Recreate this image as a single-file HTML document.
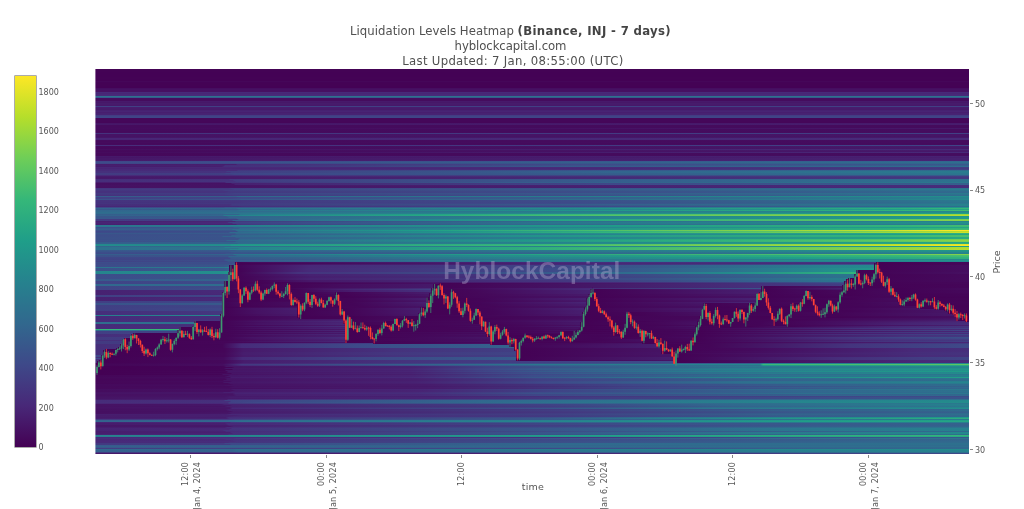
<!DOCTYPE html>
<html><head><meta charset="utf-8"><title>Liquidation Levels Heatmap</title>
<style>
html,body{margin:0;padding:0;background:#fff}
body{width:1024px;height:509px;position:relative;overflow:hidden;font-family:"DejaVu Sans","Liberation Sans",sans-serif;color:#444}
.ttl{position:absolute;left:0;width:1021px;text-align:center;font-size:11.7px;line-height:15px;white-space:nowrap;color:#505050}
.ttl b{letter-spacing:0.34px;color:#444}
.cb{position:absolute;left:15.4px;top:75.6px;width:20.6px;height:371.6px;background:linear-gradient(to top,#440154 0.00%,#482878 11.11%,#3e4989 22.22%,#31688e 33.33%,#26828e 44.44%,#1f9e89 55.56%,#35b779 66.67%,#6ece58 77.78%,#b5de2b 88.89%,#fde725 100.00%);box-shadow:0 0 0 0.6px rgba(68,68,68,0.75)}
.cbt{position:absolute;left:38.5px;color:#555;font-size:8px;line-height:11px;height:11px}
.ytk{position:absolute;left:969.5px;width:3.1px;height:1px;background:#888}
.ytl{position:absolute;left:975px;color:#555;font-size:8px;line-height:11px;height:11px}
.xtk{position:absolute;top:455px;width:1px;height:3.3px;background:#888}
.xtl{position:absolute;top:461.5px;color:#555;font-size:8px;line-height:10px;height:10px;white-space:nowrap;transform-origin:0 0;transform:rotate(-90deg) translate(-100%,-50%);letter-spacing:0.2px}
.xlab{position:absolute;left:483px;width:100px;text-align:center;top:481.3px;font-size:9.5px;line-height:12px;letter-spacing:0.2px;color:#555}
.ylab{position:absolute;color:#555;left:996.5px;top:261.5px;font-size:9.5px;line-height:12px;white-space:nowrap;transform:translate(-50%,-50%) rotate(-90deg)}
.wm{position:absolute;left:443.2px;top:256.5px;font-family:"Liberation Sans","DejaVu Sans",sans-serif;font-weight:bold;font-size:24.4px;line-height:28px;letter-spacing:0.07px;color:rgba(190,185,215,0.37);white-space:nowrap}
</style></head><body>
<div class="ttl" style="top:24px;letter-spacing:0.04px">Liquidation Levels Heatmap <b>(Binance, INJ - 7 days)</b></div>
<div class="ttl" style="top:39.3px;letter-spacing:-0.08px">hyblockcapital.com</div>
<div class="ttl" style="top:54.2px;letter-spacing:0.31px;left:2.4px">Last Updated: 7 Jan, 08:55:00 (UTC)</div>
<div class="cb"></div>
<div class="cbt" style="top:442.3px">0</div><div class="cbt" style="top:402.8px">200</div><div class="cbt" style="top:363.3px">400</div><div class="cbt" style="top:323.8px">600</div><div class="cbt" style="top:284.3px">800</div><div class="cbt" style="top:244.8px">1000</div><div class="cbt" style="top:205.3px">1200</div><div class="cbt" style="top:165.8px">1400</div><div class="cbt" style="top:126.3px">1600</div><div class="cbt" style="top:86.8px">1800</div>
<svg width="1024" height="509" viewBox="0 0 1024 509" style="position:absolute;left:0;top:0">
<defs>
<linearGradient id="r123"><stop offset="0.0001" stop-color="#461566"/><stop offset="0.9994" stop-color="#471b6c"/></linearGradient>
<linearGradient id="r124"><stop offset="0.0001" stop-color="#461768"/><stop offset="0.9994" stop-color="#471d6e"/></linearGradient>
<linearGradient id="r128"><stop offset="0.0001" stop-color="#450b5e"/><stop offset="0.9994" stop-color="#461869"/></linearGradient>
<linearGradient id="r129"><stop offset="0.0001" stop-color="#450a5d"/><stop offset="0.9994" stop-color="#450c5e"/></linearGradient>
<linearGradient id="r130"><stop offset="0.0001" stop-color="#450b5d"/><stop offset="0.9994" stop-color="#450d5f"/></linearGradient>
<linearGradient id="r131"><stop offset="0.0001" stop-color="#450a5c"/><stop offset="0.9994" stop-color="#450c5e"/></linearGradient>
<linearGradient id="r132"><stop offset="0.0001" stop-color="#450b5d"/><stop offset="0.9994" stop-color="#450d5f"/></linearGradient>
<linearGradient id="r133"><stop offset="0.0001" stop-color="#45327d"/><stop offset="0.9994" stop-color="#414085"/></linearGradient>
<linearGradient id="r134"><stop offset="0.0001" stop-color="#461365"/><stop offset="0.9994" stop-color="#461567"/></linearGradient>
<linearGradient id="r135"><stop offset="0.0001" stop-color="#461365"/><stop offset="0.9994" stop-color="#461567"/></linearGradient>
<linearGradient id="r136"><stop offset="0.0001" stop-color="#461264"/><stop offset="0.9994" stop-color="#461465"/></linearGradient>
<linearGradient id="r137"><stop offset="0.0001" stop-color="#461667"/><stop offset="0.9994" stop-color="#461869"/></linearGradient>
<linearGradient id="r138"><stop offset="0.0001" stop-color="#482676"/><stop offset="0.9994" stop-color="#472b7a"/></linearGradient>
<linearGradient id="r139"><stop offset="0.0001" stop-color="#482475"/><stop offset="0.9994" stop-color="#482a79"/></linearGradient>
<linearGradient id="r140"><stop offset="0.0001" stop-color="#450b5d"/><stop offset="0.9994" stop-color="#450d5f"/></linearGradient>
<linearGradient id="r141"><stop offset="0.0001" stop-color="#450a5c"/><stop offset="0.9994" stop-color="#450c5e"/></linearGradient>
<linearGradient id="r142"><stop offset="0.0001" stop-color="#450b5d"/><stop offset="0.9994" stop-color="#450c5f"/></linearGradient>
<linearGradient id="r143"><stop offset="0.0001" stop-color="#45095c"/><stop offset="0.9994" stop-color="#450b5d"/></linearGradient>
<linearGradient id="r144"><stop offset="0.0001" stop-color="#450a5c"/><stop offset="0.9994" stop-color="#450c5e"/></linearGradient>
<linearGradient id="r145"><stop offset="0.0001" stop-color="#472c7a"/><stop offset="0.1546" stop-color="#462f7c"/><stop offset="0.9994" stop-color="#3f4487"/></linearGradient>
<linearGradient id="r146"><stop offset="0.0001" stop-color="#45095b"/><stop offset="0.9994" stop-color="#471b6c"/></linearGradient>
<linearGradient id="r147"><stop offset="0.0001" stop-color="#45085b"/><stop offset="0.9994" stop-color="#46196a"/></linearGradient>
<linearGradient id="r148"><stop offset="0.0001" stop-color="#45085b"/><stop offset="0.9994" stop-color="#46196a"/></linearGradient>
<linearGradient id="r149"><stop offset="0.0001" stop-color="#450d5f"/><stop offset="0.1592" stop-color="#461163"/><stop offset="0.7522" stop-color="#482575"/><stop offset="0.9994" stop-color="#472a79"/></linearGradient>
<linearGradient id="r150"><stop offset="0.0001" stop-color="#45095b"/><stop offset="0.9994" stop-color="#471c6c"/></linearGradient>
<linearGradient id="r151"><stop offset="0.0001" stop-color="#45085b"/><stop offset="0.9994" stop-color="#46196a"/></linearGradient>
<linearGradient id="r152"><stop offset="0.0001" stop-color="#450b5d"/><stop offset="0.1649" stop-color="#450f61"/><stop offset="0.8128" stop-color="#482575"/><stop offset="0.9994" stop-color="#472a79"/></linearGradient>
<linearGradient id="r153"><stop offset="0.0001" stop-color="#45085b"/><stop offset="0.9994" stop-color="#450e60"/></linearGradient>
<linearGradient id="r154"><stop offset="0.0001" stop-color="#45085a"/><stop offset="0.9994" stop-color="#450d5f"/></linearGradient>
<linearGradient id="r155"><stop offset="0.0001" stop-color="#45085b"/><stop offset="0.9994" stop-color="#450e60"/></linearGradient>
<linearGradient id="r156"><stop offset="0.0001" stop-color="#461869"/><stop offset="0.9994" stop-color="#472273"/></linearGradient>
<linearGradient id="r157"><stop offset="0.0001" stop-color="#461567"/><stop offset="0.9994" stop-color="#471e6f"/></linearGradient>
<linearGradient id="r158"><stop offset="0.0001" stop-color="#461869"/><stop offset="0.9994" stop-color="#472272"/></linearGradient>
<linearGradient id="r159"><stop offset="0.0001" stop-color="#461869"/><stop offset="0.9994" stop-color="#472172"/></linearGradient>
<linearGradient id="r160"><stop offset="0.0001" stop-color="#471a6b"/><stop offset="0.9994" stop-color="#482475"/></linearGradient>
<linearGradient id="r161"><stop offset="0.0001" stop-color="#3f4788"/><stop offset="0.1604" stop-color="#3e4a89"/><stop offset="0.9994" stop-color="#31688e"/></linearGradient>
<linearGradient id="r162"><stop offset="0.0001" stop-color="#3d4c89"/><stop offset="0.1489" stop-color="#3c4e8a"/><stop offset="0.1649" stop-color="#3a528a"/><stop offset="0.9994" stop-color="#2e6f8e"/></linearGradient>
<linearGradient id="r163"><stop offset="0.0001" stop-color="#3f4587"/><stop offset="0.1524" stop-color="#3e4788"/><stop offset="0.9994" stop-color="#32668e"/></linearGradient>
<linearGradient id="r164"><stop offset="0.0001" stop-color="#471b6c"/><stop offset="0.1604" stop-color="#471e6f"/><stop offset="0.1627" stop-color="#472b79"/><stop offset="0.5507" stop-color="#3d4b89"/><stop offset="0.9994" stop-color="#37598c"/></linearGradient>
<linearGradient id="r165"><stop offset="0.0001" stop-color="#471e6e"/><stop offset="0.1466" stop-color="#472171"/><stop offset="0.1489" stop-color="#462d7b"/><stop offset="0.5473" stop-color="#3b518a"/><stop offset="0.9994" stop-color="#34608d"/></linearGradient>
<linearGradient id="r166"><stop offset="0.0001" stop-color="#471b6c"/><stop offset="0.1443" stop-color="#471e6f"/><stop offset="0.1478" stop-color="#462e7b"/><stop offset="0.5141" stop-color="#38568b"/><stop offset="0.9994" stop-color="#2e6e8e"/></linearGradient>
<linearGradient id="r167"><stop offset="0.0001" stop-color="#482777"/><stop offset="0.5690" stop-color="#472b79"/><stop offset="0.9994" stop-color="#413e83"/></linearGradient>
<linearGradient id="r168"><stop offset="0.0001" stop-color="#482475"/><stop offset="0.5759" stop-color="#482878"/><stop offset="0.9994" stop-color="#433a81"/></linearGradient>
<linearGradient id="r169"><stop offset="0.0001" stop-color="#482979"/><stop offset="0.5644" stop-color="#472d7a"/><stop offset="0.9994" stop-color="#404185"/></linearGradient>
<linearGradient id="r170"><stop offset="0.0001" stop-color="#472a79"/><stop offset="0.1615" stop-color="#472c7a"/><stop offset="0.1638" stop-color="#44377f"/><stop offset="0.6354" stop-color="#375a8c"/><stop offset="0.9994" stop-color="#2f6d8e"/></linearGradient>
<linearGradient id="r171"><stop offset="0.0001" stop-color="#46307c"/><stop offset="0.1489" stop-color="#45337e"/><stop offset="0.1512" stop-color="#413e83"/><stop offset="0.5908" stop-color="#32658e"/><stop offset="0.9571" stop-color="#2a798e"/><stop offset="0.9994" stop-color="#297c8e"/></linearGradient>
<linearGradient id="r172"><stop offset="0.0001" stop-color="#46307c"/><stop offset="0.1535" stop-color="#45337e"/><stop offset="0.1558" stop-color="#413e83"/><stop offset="0.5908" stop-color="#32658e"/><stop offset="0.9571" stop-color="#2a798e"/><stop offset="0.9994" stop-color="#297b8e"/></linearGradient>
<linearGradient id="r173"><stop offset="0.0001" stop-color="#423b82"/><stop offset="0.1466" stop-color="#413e83"/><stop offset="0.1501" stop-color="#3f4587"/><stop offset="0.8083" stop-color="#306b8e"/><stop offset="0.9994" stop-color="#2b778e"/></linearGradient>
<linearGradient id="r174"><stop offset="0.0001" stop-color="#433a81"/><stop offset="0.1546" stop-color="#413e83"/><stop offset="0.1592" stop-color="#3f4487"/><stop offset="0.8277" stop-color="#306a8e"/><stop offset="0.9994" stop-color="#2c758e"/></linearGradient>
<linearGradient id="r175"><stop offset="0.0001" stop-color="#472a79"/><stop offset="0.1627" stop-color="#462e7b"/><stop offset="0.2348" stop-color="#44357e"/><stop offset="0.9720" stop-color="#375a8c"/><stop offset="0.9994" stop-color="#365b8c"/></linearGradient>
<linearGradient id="r176"><stop offset="0.0001" stop-color="#471a6c"/><stop offset="0.1558" stop-color="#471c6d"/><stop offset="0.2611" stop-color="#482474"/><stop offset="0.9994" stop-color="#413f84"/></linearGradient>
<linearGradient id="r177"><stop offset="0.0001" stop-color="#461768"/><stop offset="0.1466" stop-color="#471a6b"/><stop offset="0.9994" stop-color="#433880"/></linearGradient>
<linearGradient id="r178"><stop offset="0.0001" stop-color="#461869"/><stop offset="0.1569" stop-color="#471b6c"/><stop offset="0.9994" stop-color="#433a81"/></linearGradient>
<linearGradient id="r179"><stop offset="0.0001" stop-color="#472c7a"/><stop offset="0.1524" stop-color="#45317d"/><stop offset="0.1546" stop-color="#433981"/><stop offset="0.6251" stop-color="#365d8c"/><stop offset="0.9994" stop-color="#2e6f8e"/></linearGradient>
<linearGradient id="r180"><stop offset="0.0001" stop-color="#462e7b"/><stop offset="0.1569" stop-color="#45327d"/><stop offset="0.1592" stop-color="#423c82"/><stop offset="0.6114" stop-color="#34608d"/><stop offset="0.9994" stop-color="#2c738e"/></linearGradient>
<linearGradient id="r181"><stop offset="0.0001" stop-color="#462e7b"/><stop offset="0.1592" stop-color="#45337e"/><stop offset="0.1615" stop-color="#423b82"/><stop offset="0.6114" stop-color="#355f8d"/><stop offset="0.9994" stop-color="#2d728e"/></linearGradient>
<linearGradient id="r182"><stop offset="0.0001" stop-color="#471d6e"/><stop offset="0.1478" stop-color="#472172"/><stop offset="0.1501" stop-color="#45327d"/><stop offset="0.4706" stop-color="#375a8c"/><stop offset="0.9994" stop-color="#2a798e"/></linearGradient>
<linearGradient id="r183"><stop offset="0.0001" stop-color="#450f61"/><stop offset="0.1546" stop-color="#461264"/><stop offset="0.1569" stop-color="#472070"/><stop offset="0.5896" stop-color="#3e4888"/><stop offset="0.9994" stop-color="#355f8c"/></linearGradient>
<linearGradient id="r184"><stop offset="0.0001" stop-color="#450f61"/><stop offset="0.1581" stop-color="#461466"/><stop offset="0.1604" stop-color="#472171"/><stop offset="0.5839" stop-color="#3e4989"/><stop offset="0.9994" stop-color="#34618d"/></linearGradient>
<linearGradient id="r185"><stop offset="0.0001" stop-color="#461163"/><stop offset="0.1581" stop-color="#461365"/><stop offset="0.2428" stop-color="#471a6b"/><stop offset="0.9994" stop-color="#462f7c"/></linearGradient>
<linearGradient id="r186"><stop offset="0.0001" stop-color="#461062"/><stop offset="0.1638" stop-color="#461365"/><stop offset="0.8266" stop-color="#482978"/><stop offset="0.9994" stop-color="#462d7b"/></linearGradient>
<linearGradient id="r187"><stop offset="0.0001" stop-color="#461062"/><stop offset="0.1569" stop-color="#461466"/><stop offset="0.9994" stop-color="#472c7a"/></linearGradient>
<linearGradient id="r188"><stop offset="0.0001" stop-color="#44357f"/><stop offset="0.1524" stop-color="#44377f"/><stop offset="0.1558" stop-color="#423d83"/><stop offset="0.6457" stop-color="#37598c"/><stop offset="0.9456" stop-color="#2f6e8e"/><stop offset="0.9994" stop-color="#2d728e"/></linearGradient>
<linearGradient id="r189"><stop offset="0.0001" stop-color="#433a81"/><stop offset="0.1558" stop-color="#423b82"/><stop offset="0.1592" stop-color="#404285"/><stop offset="0.6205" stop-color="#355e8c"/><stop offset="0.9376" stop-color="#2c758e"/><stop offset="0.9994" stop-color="#297a8e"/></linearGradient>
<linearGradient id="r190"><stop offset="0.0001" stop-color="#44357f"/><stop offset="0.1455" stop-color="#443780"/><stop offset="0.1489" stop-color="#423d83"/><stop offset="0.6263" stop-color="#38588b"/><stop offset="0.9433" stop-color="#2e6e8e"/><stop offset="0.9994" stop-color="#2d728e"/></linearGradient>
<linearGradient id="r191"><stop offset="0.0001" stop-color="#45317d"/><stop offset="0.1501" stop-color="#45337e"/><stop offset="0.1546" stop-color="#433981"/><stop offset="0.6743" stop-color="#39548b"/><stop offset="0.9536" stop-color="#31688e"/><stop offset="0.9994" stop-color="#306b8e"/></linearGradient>
<linearGradient id="r192"><stop offset="0.0001" stop-color="#45317d"/><stop offset="0.1478" stop-color="#45337e"/><stop offset="0.1524" stop-color="#433880"/><stop offset="0.6709" stop-color="#3a538b"/><stop offset="0.9548" stop-color="#31678e"/><stop offset="0.9994" stop-color="#306a8e"/></linearGradient>
<linearGradient id="r193"><stop offset="0.0001" stop-color="#433981"/><stop offset="0.1535" stop-color="#413d83"/><stop offset="0.1592" stop-color="#404285"/><stop offset="0.6148" stop-color="#365d8c"/><stop offset="0.9388" stop-color="#2c748e"/><stop offset="0.9994" stop-color="#2a798e"/></linearGradient>
<linearGradient id="r194"><stop offset="0.0001" stop-color="#44367f"/><stop offset="0.1466" stop-color="#433981"/><stop offset="0.1535" stop-color="#413e83"/><stop offset="0.6194" stop-color="#38588b"/><stop offset="0.9433" stop-color="#2e6f8e"/><stop offset="0.9994" stop-color="#2c738e"/></linearGradient>
<linearGradient id="r195"><stop offset="0.0001" stop-color="#45327d"/><stop offset="0.1512" stop-color="#44357f"/><stop offset="0.1581" stop-color="#433a81"/><stop offset="0.6560" stop-color="#39558b"/><stop offset="0.9502" stop-color="#30698e"/><stop offset="0.9994" stop-color="#2f6d8e"/></linearGradient>
<linearGradient id="r196"><stop offset="0.0001" stop-color="#375b8c"/><stop offset="0.1604" stop-color="#365d8c"/><stop offset="0.1627" stop-color="#32668e"/><stop offset="0.5770" stop-color="#277f8e"/><stop offset="0.9994" stop-color="#238e8c"/></linearGradient>
<linearGradient id="r197"><stop offset="0.0001" stop-color="#404185"/><stop offset="0.1615" stop-color="#404486"/><stop offset="0.1672" stop-color="#3e4989"/><stop offset="0.5633" stop-color="#355f8d"/><stop offset="0.9296" stop-color="#287d8e"/><stop offset="0.9994" stop-color="#25848e"/></linearGradient>
<linearGradient id="r198"><stop offset="0.0001" stop-color="#404185"/><stop offset="0.1546" stop-color="#3f4487"/><stop offset="0.1638" stop-color="#3e4989"/><stop offset="0.5599" stop-color="#355f8c"/><stop offset="0.9307" stop-color="#287c8e"/><stop offset="0.9994" stop-color="#26848e"/></linearGradient>
<linearGradient id="r199"><stop offset="0.0001" stop-color="#3b508a"/><stop offset="0.1638" stop-color="#3a528a"/><stop offset="0.1672" stop-color="#38588b"/><stop offset="0.8037" stop-color="#297b8e"/><stop offset="0.9994" stop-color="#24898d"/></linearGradient>
<linearGradient id="r200"><stop offset="0.0001" stop-color="#45337e"/><stop offset="0.1535" stop-color="#433780"/><stop offset="0.2806" stop-color="#413f84"/><stop offset="0.5450" stop-color="#3c4d8a"/><stop offset="0.9262" stop-color="#2d718e"/><stop offset="0.9994" stop-color="#2a798e"/></linearGradient>
<linearGradient id="r201"><stop offset="0.0001" stop-color="#45337e"/><stop offset="0.1615" stop-color="#44367f"/><stop offset="0.2382" stop-color="#423d83"/><stop offset="0.5450" stop-color="#3d4c89"/><stop offset="0.9273" stop-color="#2e708e"/><stop offset="0.9994" stop-color="#2a788e"/></linearGradient>
<linearGradient id="r202"><stop offset="0.0001" stop-color="#45317d"/><stop offset="0.1546" stop-color="#44347e"/><stop offset="0.1798" stop-color="#433981"/><stop offset="0.5450" stop-color="#3e4a89"/><stop offset="0.9285" stop-color="#2f6d8e"/><stop offset="0.9994" stop-color="#2c748e"/></linearGradient>
<linearGradient id="r203"><stop offset="0.0001" stop-color="#44347e"/><stop offset="0.1535" stop-color="#433780"/><stop offset="0.2062" stop-color="#423d83"/><stop offset="0.5416" stop-color="#3c4d8a"/><stop offset="0.9262" stop-color="#2d718e"/><stop offset="0.9994" stop-color="#297a8e"/></linearGradient>
<linearGradient id="r204"><stop offset="0.0001" stop-color="#462e7b"/><stop offset="0.1546" stop-color="#45327d"/><stop offset="0.1569" stop-color="#423a81"/><stop offset="0.6160" stop-color="#34628d"/><stop offset="0.9319" stop-color="#297a8e"/><stop offset="0.9994" stop-color="#27818e"/></linearGradient>
<linearGradient id="r205"><stop offset="0.0001" stop-color="#462d7b"/><stop offset="0.1535" stop-color="#46307c"/><stop offset="0.1569" stop-color="#433780"/><stop offset="0.5576" stop-color="#3a548b"/><stop offset="0.9216" stop-color="#2b778e"/><stop offset="0.9994" stop-color="#26818e"/></linearGradient>
<linearGradient id="r206"><stop offset="0.0001" stop-color="#482676"/><stop offset="0.1627" stop-color="#472a79"/><stop offset="0.1695" stop-color="#462f7c"/><stop offset="0.5747" stop-color="#3e4889"/><stop offset="0.9319" stop-color="#31688e"/><stop offset="0.9994" stop-color="#2e6f8e"/></linearGradient>
<linearGradient id="r207"><stop offset="0.0001" stop-color="#3e4888"/><stop offset="0.1466" stop-color="#3d4b89"/><stop offset="0.1489" stop-color="#3a538b"/><stop offset="0.6182" stop-color="#2b778e"/><stop offset="0.9296" stop-color="#23908c"/><stop offset="0.9994" stop-color="#21978a"/></linearGradient>
<linearGradient id="r208"><stop offset="0.0001" stop-color="#33648d"/><stop offset="0.1604" stop-color="#32668e"/><stop offset="0.1638" stop-color="#2e708e"/><stop offset="0.5713" stop-color="#22918b"/><stop offset="0.9250" stop-color="#2eaf7e"/><stop offset="0.9994" stop-color="#36b878"/></linearGradient>
<linearGradient id="r209"><stop offset="0.0001" stop-color="#37598c"/><stop offset="0.1627" stop-color="#355d8c"/><stop offset="0.1661" stop-color="#32658e"/><stop offset="0.6228" stop-color="#25868d"/><stop offset="0.9307" stop-color="#209f89"/><stop offset="0.9994" stop-color="#26a584"/></linearGradient>
<linearGradient id="r210"><stop offset="0.0001" stop-color="#31678e"/><stop offset="0.1615" stop-color="#30698e"/><stop offset="0.1649" stop-color="#2c738e"/><stop offset="0.5599" stop-color="#21948b"/><stop offset="0.9239" stop-color="#32b47b"/><stop offset="0.9994" stop-color="#42bc72"/></linearGradient>
<linearGradient id="r211"><stop offset="0.0001" stop-color="#31698e"/><stop offset="0.1604" stop-color="#306b8e"/><stop offset="0.2943" stop-color="#2d728e"/><stop offset="0.9994" stop-color="#24898d"/></linearGradient>
<linearGradient id="r212"><stop offset="0.0001" stop-color="#2f6d8e"/><stop offset="0.1615" stop-color="#2e6f8e"/><stop offset="0.1890" stop-color="#2c738e"/><stop offset="0.9994" stop-color="#238f8c"/></linearGradient>
<linearGradient id="r213"><stop offset="0.0001" stop-color="#306b8e"/><stop offset="0.1455" stop-color="#2f6d8e"/><stop offset="0.1489" stop-color="#2c758e"/><stop offset="0.6640" stop-color="#22918b"/><stop offset="0.9994" stop-color="#21a087"/></linearGradient>
<linearGradient id="r214"><stop offset="0.0001" stop-color="#355e8c"/><stop offset="0.1638" stop-color="#33648d"/><stop offset="0.1661" stop-color="#2a778e"/><stop offset="0.1947" stop-color="#26818e"/><stop offset="0.3882" stop-color="#23a386"/><stop offset="0.5416" stop-color="#37b878"/><stop offset="0.9216" stop-color="#82d24b"/><stop offset="0.9994" stop-color="#9bd83b"/></linearGradient>
<linearGradient id="r215"><stop offset="0.0001" stop-color="#33638d"/><stop offset="0.1455" stop-color="#31688e"/><stop offset="0.1478" stop-color="#287c8e"/><stop offset="0.1718" stop-color="#25868d"/><stop offset="0.3710" stop-color="#27a783"/><stop offset="0.5358" stop-color="#48bf6e"/><stop offset="0.9056" stop-color="#97d73e"/><stop offset="0.9994" stop-color="#b9de2b"/></linearGradient>
<linearGradient id="r216"><stop offset="0.0001" stop-color="#39568b"/><stop offset="0.1489" stop-color="#38588b"/><stop offset="0.1524" stop-color="#33638d"/><stop offset="0.6137" stop-color="#25848e"/><stop offset="0.9685" stop-color="#21988a"/><stop offset="0.9994" stop-color="#20998a"/></linearGradient>
<linearGradient id="r217"><stop offset="0.0001" stop-color="#38578b"/><stop offset="0.1512" stop-color="#37598c"/><stop offset="0.1535" stop-color="#33638d"/><stop offset="0.5290" stop-color="#26818e"/><stop offset="0.9617" stop-color="#20998a"/><stop offset="0.9994" stop-color="#209b8a"/></linearGradient>
<linearGradient id="r218"><stop offset="0.0001" stop-color="#38578b"/><stop offset="0.1604" stop-color="#375a8c"/><stop offset="0.1627" stop-color="#32658d"/><stop offset="0.5965" stop-color="#25868d"/><stop offset="0.9605" stop-color="#209a8a"/><stop offset="0.9994" stop-color="#209c89"/></linearGradient>
<linearGradient id="r219"><stop offset="0.0001" stop-color="#433a81"/><stop offset="0.1615" stop-color="#414084"/><stop offset="0.1627" stop-color="#404486"/><stop offset="0.1638" stop-color="#3a538b"/><stop offset="0.1649" stop-color="#365b8c"/><stop offset="0.2073" stop-color="#31688e"/><stop offset="0.3893" stop-color="#24898d"/><stop offset="0.5541" stop-color="#24a386"/><stop offset="0.8827" stop-color="#4fc26a"/><stop offset="0.9994" stop-color="#79d151"/></linearGradient>
<linearGradient id="r220"><stop offset="0.0001" stop-color="#423c82"/><stop offset="0.1558" stop-color="#404285"/><stop offset="0.1581" stop-color="#355d8c"/><stop offset="0.1924" stop-color="#31698e"/><stop offset="0.3733" stop-color="#248a8d"/><stop offset="0.5473" stop-color="#27a783"/><stop offset="0.8632" stop-color="#58c565"/><stop offset="0.9994" stop-color="#8bd446"/></linearGradient>
<linearGradient id="r221"><stop offset="0.0001" stop-color="#472071"/><stop offset="0.1592" stop-color="#482575"/><stop offset="0.1615" stop-color="#433880"/><stop offset="0.3218" stop-color="#3a538b"/><stop offset="0.5358" stop-color="#2f6d8e"/><stop offset="0.9994" stop-color="#26838e"/></linearGradient>
<linearGradient id="r222"><stop offset="0.0001" stop-color="#482474"/><stop offset="0.1501" stop-color="#482978"/><stop offset="0.1512" stop-color="#462d7b"/><stop offset="0.1524" stop-color="#433981"/><stop offset="0.1546" stop-color="#413f84"/><stop offset="0.2622" stop-color="#3a528a"/><stop offset="0.5255" stop-color="#2b768e"/><stop offset="0.9594" stop-color="#238d8c"/><stop offset="0.9994" stop-color="#23908c"/></linearGradient>
<linearGradient id="r223"><stop offset="0.0001" stop-color="#472373"/><stop offset="0.1558" stop-color="#482979"/><stop offset="0.1581" stop-color="#423c83"/><stop offset="0.2485" stop-color="#3c4e8a"/><stop offset="0.5095" stop-color="#2d728e"/><stop offset="0.9617" stop-color="#248a8d"/><stop offset="0.9994" stop-color="#238c8c"/></linearGradient>
<linearGradient id="r224"><stop offset="0.0001" stop-color="#472070"/><stop offset="0.1604" stop-color="#482475"/><stop offset="0.1627" stop-color="#44357f"/><stop offset="0.1959" stop-color="#414084"/><stop offset="0.4706" stop-color="#32678e"/><stop offset="0.9994" stop-color="#26818e"/></linearGradient>
<linearGradient id="r225"><stop offset="0.0001" stop-color="#2a788e"/><stop offset="0.1524" stop-color="#2a798e"/><stop offset="0.1558" stop-color="#27808e"/><stop offset="0.5873" stop-color="#209c89"/><stop offset="0.9273" stop-color="#34b67a"/><stop offset="0.9994" stop-color="#44bd70"/></linearGradient>
<linearGradient id="r226"><stop offset="0.0001" stop-color="#2b758e"/><stop offset="0.1638" stop-color="#2a778e"/><stop offset="0.1672" stop-color="#287d8e"/><stop offset="0.5988" stop-color="#20998a"/><stop offset="0.9285" stop-color="#31b27c"/><stop offset="0.9994" stop-color="#3bb975"/></linearGradient>
<linearGradient id="r227"><stop offset="0.0001" stop-color="#3b4f8a"/><stop offset="0.1569" stop-color="#39558b"/><stop offset="0.1592" stop-color="#355f8d"/><stop offset="0.5198" stop-color="#26818e"/><stop offset="0.9365" stop-color="#20a088"/><stop offset="0.9994" stop-color="#25a584"/></linearGradient>
<linearGradient id="r228"><stop offset="0.0001" stop-color="#37598c"/><stop offset="0.1627" stop-color="#365c8c"/><stop offset="0.1661" stop-color="#306a8e"/><stop offset="0.4717" stop-color="#248b8c"/><stop offset="0.8998" stop-color="#2bac80"/><stop offset="0.9994" stop-color="#35b779"/></linearGradient>
<linearGradient id="r229"><stop offset="0.0001" stop-color="#365c8c"/><stop offset="0.1558" stop-color="#34618d"/><stop offset="0.1581" stop-color="#2f6d8e"/><stop offset="0.4580" stop-color="#238f8c"/><stop offset="0.8747" stop-color="#2eaf7e"/><stop offset="0.9994" stop-color="#43bc71"/></linearGradient>
<linearGradient id="r230"><stop offset="0.0001" stop-color="#3b508a"/><stop offset="0.1592" stop-color="#38578b"/><stop offset="0.1604" stop-color="#365d8c"/><stop offset="0.1615" stop-color="#306b8e"/><stop offset="0.1627" stop-color="#2d718e"/><stop offset="0.1993" stop-color="#297b8e"/><stop offset="0.3733" stop-color="#1f9e89"/><stop offset="0.5530" stop-color="#42bc72"/><stop offset="0.7636" stop-color="#8fd543"/><stop offset="0.9056" stop-color="#cce129"/><stop offset="0.9823" stop-color="#fde725"/><stop offset="0.9994" stop-color="#fde725"/></linearGradient>
<linearGradient id="r231"><stop offset="0.0001" stop-color="#3e4889"/><stop offset="0.1615" stop-color="#3c4e8a"/><stop offset="0.1638" stop-color="#32668e"/><stop offset="0.2107" stop-color="#2d728e"/><stop offset="0.4076" stop-color="#22938b"/><stop offset="0.6160" stop-color="#32b37b"/><stop offset="0.8724" stop-color="#74cf54"/><stop offset="0.9994" stop-color="#badf2b"/></linearGradient>
<linearGradient id="r232"><stop offset="0.0001" stop-color="#3d4b89"/><stop offset="0.1524" stop-color="#3a528a"/><stop offset="0.1546" stop-color="#30698e"/><stop offset="0.1936" stop-color="#2c738e"/><stop offset="0.3893" stop-color="#21948b"/><stop offset="0.5885" stop-color="#33b57b"/><stop offset="0.8289" stop-color="#78d052"/><stop offset="0.9147" stop-color="#9fd939"/><stop offset="0.9994" stop-color="#d0e129"/></linearGradient>
<linearGradient id="r233"><stop offset="0.0001" stop-color="#38568b"/><stop offset="0.1592" stop-color="#375b8c"/><stop offset="0.1615" stop-color="#32678e"/><stop offset="0.5038" stop-color="#25888d"/><stop offset="0.9113" stop-color="#29a982"/><stop offset="0.9994" stop-color="#31b37c"/></linearGradient>
<linearGradient id="r234"><stop offset="0.0001" stop-color="#3c4f8a"/><stop offset="0.1592" stop-color="#3a528a"/><stop offset="0.1627" stop-color="#355e8c"/><stop offset="0.5461" stop-color="#27808e"/><stop offset="0.9330" stop-color="#1f9e89"/><stop offset="0.9994" stop-color="#25a485"/></linearGradient>
<linearGradient id="r235"><stop offset="0.0001" stop-color="#3c4e8a"/><stop offset="0.1546" stop-color="#3a538b"/><stop offset="0.1569" stop-color="#32658d"/><stop offset="0.2565" stop-color="#2c748e"/><stop offset="0.5244" stop-color="#21968a"/><stop offset="0.9044" stop-color="#34b67a"/><stop offset="0.9994" stop-color="#4cc06b"/></linearGradient>
<linearGradient id="r236"><stop offset="0.0001" stop-color="#3c4e8a"/><stop offset="0.1443" stop-color="#3a548b"/><stop offset="0.1466" stop-color="#33648d"/><stop offset="0.2245" stop-color="#2e708e"/><stop offset="0.4912" stop-color="#22918b"/><stop offset="0.8792" stop-color="#30b27c"/><stop offset="0.9994" stop-color="#4bc06d"/></linearGradient>
<linearGradient id="r237"><stop offset="0.0001" stop-color="#3b508a"/><stop offset="0.1592" stop-color="#3a538b"/><stop offset="0.1615" stop-color="#355f8d"/><stop offset="0.5347" stop-color="#27818e"/><stop offset="0.9285" stop-color="#23a286"/><stop offset="0.9994" stop-color="#29a982"/></linearGradient>
<linearGradient id="r238"><stop offset="0.0001" stop-color="#3b508a"/><stop offset="0.1638" stop-color="#3a538b"/><stop offset="0.1661" stop-color="#355f8d"/><stop offset="0.5312" stop-color="#27818e"/><stop offset="0.9285" stop-color="#23a286"/><stop offset="0.9994" stop-color="#29aa81"/></linearGradient>
<linearGradient id="r239"><stop offset="0.0001" stop-color="#3b4f8a"/><stop offset="0.1627" stop-color="#3a538b"/><stop offset="0.1649" stop-color="#32658e"/><stop offset="0.3183" stop-color="#297b8e"/><stop offset="0.5793" stop-color="#1f9d89"/><stop offset="0.8655" stop-color="#41bc72"/><stop offset="0.9994" stop-color="#75d053"/></linearGradient>
<linearGradient id="r240"><stop offset="0.0001" stop-color="#3a528b"/><stop offset="0.1489" stop-color="#37598c"/><stop offset="0.1512" stop-color="#30698e"/><stop offset="0.2313" stop-color="#2b758e"/><stop offset="0.4900" stop-color="#21978a"/><stop offset="0.7430" stop-color="#35b779"/><stop offset="0.9113" stop-color="#64ca5e"/><stop offset="0.9994" stop-color="#8fd543"/></linearGradient>
<linearGradient id="r241"><stop offset="0.0001" stop-color="#3b508a"/><stop offset="0.1592" stop-color="#39548b"/><stop offset="0.1604" stop-color="#38588b"/><stop offset="0.1615" stop-color="#33628d"/><stop offset="0.1638" stop-color="#31678e"/><stop offset="0.4065" stop-color="#24888d"/><stop offset="0.6617" stop-color="#29a982"/><stop offset="0.9113" stop-color="#58c565"/><stop offset="0.9994" stop-color="#7ed24e"/></linearGradient>
<linearGradient id="r242"><stop offset="0.0001" stop-color="#365c8c"/><stop offset="0.1569" stop-color="#34608d"/><stop offset="0.1604" stop-color="#31688e"/><stop offset="0.6205" stop-color="#24898d"/><stop offset="0.9307" stop-color="#22a287"/><stop offset="0.9994" stop-color="#28a882"/></linearGradient>
<linearGradient id="r243"><stop offset="0.0001" stop-color="#34608d"/><stop offset="0.1615" stop-color="#33628d"/><stop offset="0.1638" stop-color="#306b8e"/><stop offset="0.6011" stop-color="#238c8c"/><stop offset="0.9285" stop-color="#27a784"/><stop offset="0.9994" stop-color="#2dae7f"/></linearGradient>
<linearGradient id="r244"><stop offset="0.0001" stop-color="#24888d"/><stop offset="0.1535" stop-color="#248b8c"/><stop offset="0.1558" stop-color="#21968a"/><stop offset="0.5106" stop-color="#34b67a"/><stop offset="0.7487" stop-color="#7cd14f"/><stop offset="0.9090" stop-color="#b8de2b"/><stop offset="0.9994" stop-color="#e9e527"/></linearGradient>
<linearGradient id="r245"><stop offset="0.0001" stop-color="#238c8c"/><stop offset="0.1535" stop-color="#238f8c"/><stop offset="0.1558" stop-color="#209b8a"/><stop offset="0.5026" stop-color="#3cba75"/><stop offset="0.7316" stop-color="#88d448"/><stop offset="0.9079" stop-color="#cbe129"/><stop offset="0.9983" stop-color="#fde725"/><stop offset="0.9994" stop-color="#fde725"/></linearGradient>
<linearGradient id="r246"><stop offset="0.0001" stop-color="#33648d"/><stop offset="0.1535" stop-color="#31688e"/><stop offset="0.1569" stop-color="#2f6d8e"/><stop offset="0.7625" stop-color="#238e8c"/><stop offset="0.9994" stop-color="#1f9f89"/></linearGradient>
<linearGradient id="r247"><stop offset="0.0001" stop-color="#2d718e"/><stop offset="0.1466" stop-color="#2c748e"/><stop offset="0.1489" stop-color="#26828e"/><stop offset="0.3092" stop-color="#21968a"/><stop offset="0.5908" stop-color="#34b67a"/><stop offset="0.8941" stop-color="#7dd14f"/><stop offset="0.9994" stop-color="#addc30"/></linearGradient>
<linearGradient id="r248"><stop offset="0.0001" stop-color="#2d728e"/><stop offset="0.1615" stop-color="#2c758e"/><stop offset="0.1627" stop-color="#2a778e"/><stop offset="0.1649" stop-color="#26838e"/><stop offset="0.4271" stop-color="#25a584"/><stop offset="0.7075" stop-color="#53c368"/><stop offset="0.9136" stop-color="#8dd545"/><stop offset="0.9994" stop-color="#b3de2c"/></linearGradient>
<linearGradient id="r249"><stop offset="0.0001" stop-color="#2d728e"/><stop offset="0.1524" stop-color="#2b768e"/><stop offset="0.1546" stop-color="#26848e"/><stop offset="0.2485" stop-color="#22928b"/><stop offset="0.5312" stop-color="#31b27c"/><stop offset="0.8220" stop-color="#71cf56"/><stop offset="0.9239" stop-color="#97d73e"/><stop offset="0.9994" stop-color="#b8de2b"/></linearGradient>
<linearGradient id="r250"><stop offset="0.0001" stop-color="#38588b"/><stop offset="0.1592" stop-color="#375a8c"/><stop offset="0.1627" stop-color="#34628d"/><stop offset="0.7167" stop-color="#26838e"/><stop offset="0.9525" stop-color="#22948b"/><stop offset="0.9994" stop-color="#21978a"/></linearGradient>
<linearGradient id="r251"><stop offset="0.0001" stop-color="#39548b"/><stop offset="0.1524" stop-color="#39568b"/><stop offset="0.1558" stop-color="#355e8c"/><stop offset="0.7465" stop-color="#27808e"/><stop offset="0.9994" stop-color="#22918b"/></linearGradient>
<linearGradient id="r252"><stop offset="0.0001" stop-color="#3c4d8a"/><stop offset="0.1546" stop-color="#3b508a"/><stop offset="0.1581" stop-color="#38568b"/><stop offset="0.8117" stop-color="#2a7a8e"/><stop offset="0.9994" stop-color="#25868d"/></linearGradient>
<linearGradient id="r253"><stop offset="0.0001" stop-color="#3d4b89"/><stop offset="0.1466" stop-color="#3d4c8a"/><stop offset="0.1501" stop-color="#3a538b"/><stop offset="0.8403" stop-color="#2b778e"/><stop offset="0.9994" stop-color="#26818e"/></linearGradient>
<linearGradient id="r254"><stop offset="0.0001" stop-color="#365c8c"/><stop offset="0.1569" stop-color="#33638d"/><stop offset="0.1592" stop-color="#2c738e"/><stop offset="0.2348" stop-color="#27808e"/><stop offset="0.4752" stop-color="#23a286"/><stop offset="0.8037" stop-color="#4cc06c"/><stop offset="0.9285" stop-color="#6bcd5a"/><stop offset="0.9994" stop-color="#85d349"/></linearGradient>
<linearGradient id="r255"><stop offset="0.0001" stop-color="#3a528a"/><stop offset="0.1592" stop-color="#39568b"/><stop offset="0.1627" stop-color="#31688e"/><stop offset="0.4156" stop-color="#24888d"/><stop offset="0.7659" stop-color="#29aa81"/><stop offset="0.9296" stop-color="#39b877"/><stop offset="0.9994" stop-color="#4bc06c"/></linearGradient>
<linearGradient id="r256"><stop offset="0.0001" stop-color="#3b508a"/><stop offset="0.1512" stop-color="#39558b"/><stop offset="0.1535" stop-color="#32658e"/><stop offset="0.3424" stop-color="#287d8e"/><stop offset="0.6663" stop-color="#209f88"/><stop offset="0.9250" stop-color="#32b47b"/><stop offset="0.9994" stop-color="#41bc72"/></linearGradient>
<linearGradient id="r257"><stop offset="0.0001" stop-color="#3f4687"/><stop offset="0.1512" stop-color="#3e4989"/><stop offset="0.1546" stop-color="#375a8c"/><stop offset="0.4305" stop-color="#287d8e"/><stop offset="0.7957" stop-color="#209f88"/><stop offset="0.9353" stop-color="#2cad80"/><stop offset="0.9994" stop-color="#32b47b"/></linearGradient>
<linearGradient id="r258"><stop offset="0.0001" stop-color="#3f4487"/><stop offset="0.1535" stop-color="#3e4889"/><stop offset="0.1558" stop-color="#38588b"/><stop offset="0.4351" stop-color="#297b8e"/><stop offset="0.8117" stop-color="#1f9d89"/><stop offset="0.9445" stop-color="#2aab81"/><stop offset="0.9994" stop-color="#2fb07d"/></linearGradient>
<linearGradient id="r259"><stop offset="0.0001" stop-color="#404285"/><stop offset="0.1466" stop-color="#3f4788"/><stop offset="0.1489" stop-color="#3a538b"/><stop offset="0.5129" stop-color="#2b778e"/><stop offset="0.9994" stop-color="#25878d"/></linearGradient>
<linearGradient id="r260"><stop offset="0.0001" stop-color="#3e4889"/><stop offset="0.1466" stop-color="#3d4c89"/><stop offset="0.1501" stop-color="#375b8c"/><stop offset="0.4694" stop-color="#287d8e"/><stop offset="0.9994" stop-color="#22938b"/></linearGradient>
<linearGradient id="r261"><stop offset="0.0001" stop-color="#404386"/><stop offset="0.1501" stop-color="#3e4888"/><stop offset="0.1524" stop-color="#39548b"/><stop offset="0.5003" stop-color="#2a778e"/><stop offset="0.9994" stop-color="#24888d"/></linearGradient>
<linearGradient id="r262"><stop offset="0.0001" stop-color="#3c4d8a"/><stop offset="0.1592" stop-color="#3b4f8a"/><stop offset="0.1604" stop-color="#440154"/><stop offset="0.1787" stop-color="#450a5c"/><stop offset="0.5519" stop-color="#462d7b"/><stop offset="0.8930" stop-color="#44367f"/><stop offset="0.8941" stop-color="#440154"/><stop offset="0.9994" stop-color="#450659"/></linearGradient>
<linearGradient id="r263"><stop offset="0.0001" stop-color="#3e4a89"/><stop offset="0.1558" stop-color="#3c4e8a"/><stop offset="0.1581" stop-color="#38568b"/><stop offset="0.1592" stop-color="#38568b"/><stop offset="0.1604" stop-color="#440154"/><stop offset="0.5530" stop-color="#482676"/><stop offset="0.8907" stop-color="#462f7c"/><stop offset="0.8918" stop-color="#440154"/><stop offset="0.9994" stop-color="#450659"/></linearGradient>
<linearGradient id="r264"><stop offset="0.0001" stop-color="#3d4c8a"/><stop offset="0.1478" stop-color="#3a528a"/><stop offset="0.1592" stop-color="#375b8c"/><stop offset="0.1604" stop-color="#440154"/><stop offset="0.2531" stop-color="#461768"/><stop offset="0.6022" stop-color="#45307c"/><stop offset="0.8907" stop-color="#39558b"/><stop offset="0.8918" stop-color="#440154"/><stop offset="0.9994" stop-color="#45075a"/></linearGradient>
<linearGradient id="r265"><stop offset="0.0001" stop-color="#3d4c8a"/><stop offset="0.1466" stop-color="#39558b"/><stop offset="0.1524" stop-color="#365d8c"/><stop offset="0.1535" stop-color="#440154"/><stop offset="0.1649" stop-color="#440558"/><stop offset="0.2439" stop-color="#482878"/><stop offset="0.5335" stop-color="#3f4687"/><stop offset="0.6858" stop-color="#33628d"/><stop offset="0.8460" stop-color="#26848e"/><stop offset="0.8907" stop-color="#248a8d"/><stop offset="0.8918" stop-color="#440154"/><stop offset="0.9994" stop-color="#450d5f"/></linearGradient>
<linearGradient id="r266"><stop offset="0.0001" stop-color="#3d4c8a"/><stop offset="0.1466" stop-color="#39558b"/><stop offset="0.1524" stop-color="#365d8c"/><stop offset="0.1535" stop-color="#440154"/><stop offset="0.1649" stop-color="#440558"/><stop offset="0.2439" stop-color="#482878"/><stop offset="0.5335" stop-color="#3f4687"/><stop offset="0.6858" stop-color="#33628d"/><stop offset="0.8460" stop-color="#26848e"/><stop offset="0.8907" stop-color="#248a8d"/><stop offset="0.8918" stop-color="#440154"/><stop offset="0.9994" stop-color="#450d5f"/></linearGradient>
<linearGradient id="r267"><stop offset="0.0001" stop-color="#2c748e"/><stop offset="0.1466" stop-color="#297b8e"/><stop offset="0.1524" stop-color="#26828e"/><stop offset="0.1535" stop-color="#440154"/><stop offset="0.1649" stop-color="#440558"/><stop offset="0.2439" stop-color="#482878"/><stop offset="0.5335" stop-color="#3f4687"/><stop offset="0.6858" stop-color="#33628d"/><stop offset="0.8460" stop-color="#26848e"/><stop offset="0.8907" stop-color="#248a8d"/><stop offset="0.8918" stop-color="#440154"/><stop offset="0.9994" stop-color="#450d5f"/></linearGradient>
<linearGradient id="r268"><stop offset="0.0001" stop-color="#3b508a"/><stop offset="0.1466" stop-color="#375a8c"/><stop offset="0.1524" stop-color="#33628d"/><stop offset="0.1535" stop-color="#440154"/><stop offset="0.1638" stop-color="#440356"/><stop offset="0.2428" stop-color="#472a79"/><stop offset="0.5221" stop-color="#3e4a89"/><stop offset="0.6377" stop-color="#355f8d"/><stop offset="0.7922" stop-color="#27818e"/><stop offset="0.8827" stop-color="#22948b"/><stop offset="0.8907" stop-color="#21958b"/><stop offset="0.8918" stop-color="#440154"/><stop offset="0.9994" stop-color="#450d5f"/></linearGradient>
<linearGradient id="r269"><stop offset="0.0001" stop-color="#3b508a"/><stop offset="0.1466" stop-color="#375a8c"/><stop offset="0.1524" stop-color="#33628d"/><stop offset="0.1535" stop-color="#440154"/><stop offset="0.1638" stop-color="#440356"/><stop offset="0.2428" stop-color="#472a79"/><stop offset="0.5221" stop-color="#3e4a89"/><stop offset="0.6377" stop-color="#355f8d"/><stop offset="0.7922" stop-color="#27818e"/><stop offset="0.8827" stop-color="#22948b"/><stop offset="0.8907" stop-color="#21958b"/><stop offset="0.8918" stop-color="#440154"/><stop offset="0.9994" stop-color="#450d5f"/></linearGradient>
<linearGradient id="r270"><stop offset="0.0001" stop-color="#3b508a"/><stop offset="0.1466" stop-color="#375a8c"/><stop offset="0.1524" stop-color="#33628d"/><stop offset="0.1535" stop-color="#440154"/><stop offset="0.1638" stop-color="#440356"/><stop offset="0.2428" stop-color="#472a79"/><stop offset="0.5221" stop-color="#3e4a89"/><stop offset="0.6377" stop-color="#355f8d"/><stop offset="0.7922" stop-color="#27818e"/><stop offset="0.8701" stop-color="#22938b"/><stop offset="0.8712" stop-color="#440154"/><stop offset="0.9994" stop-color="#450d5f"/></linearGradient>
<linearGradient id="r271"><stop offset="0.0001" stop-color="#25858d"/><stop offset="0.1466" stop-color="#238e8c"/><stop offset="0.1524" stop-color="#21968a"/><stop offset="0.1535" stop-color="#440154"/><stop offset="0.1638" stop-color="#440356"/><stop offset="0.2428" stop-color="#472a79"/><stop offset="0.5221" stop-color="#3e4a89"/><stop offset="0.6377" stop-color="#355f8d"/><stop offset="0.7922" stop-color="#27818e"/><stop offset="0.8701" stop-color="#22938b"/><stop offset="0.8712" stop-color="#440154"/><stop offset="0.9994" stop-color="#450d5f"/></linearGradient>
<linearGradient id="r272"><stop offset="0.0001" stop-color="#25858d"/><stop offset="0.1455" stop-color="#238f8c"/><stop offset="0.1512" stop-color="#20988a"/><stop offset="0.1524" stop-color="#440154"/><stop offset="0.1638" stop-color="#440456"/><stop offset="0.2325" stop-color="#45327d"/><stop offset="0.5026" stop-color="#38588b"/><stop offset="0.6091" stop-color="#2f6d8e"/><stop offset="0.7384" stop-color="#238e8c"/><stop offset="0.8483" stop-color="#2eaf7e"/><stop offset="0.8701" stop-color="#32b47b"/><stop offset="0.8712" stop-color="#440154"/><stop offset="0.9788" stop-color="#450d5f"/><stop offset="0.9994" stop-color="#461062"/></linearGradient>
<linearGradient id="r273"><stop offset="0.0001" stop-color="#25858d"/><stop offset="0.1455" stop-color="#238f8c"/><stop offset="0.1512" stop-color="#20988a"/><stop offset="0.1524" stop-color="#440154"/><stop offset="0.1638" stop-color="#440456"/><stop offset="0.2325" stop-color="#45327d"/><stop offset="0.5026" stop-color="#38588b"/><stop offset="0.6091" stop-color="#2f6d8e"/><stop offset="0.7384" stop-color="#238e8c"/><stop offset="0.8483" stop-color="#2eaf7e"/><stop offset="0.8701" stop-color="#32b47b"/><stop offset="0.8712" stop-color="#440154"/><stop offset="0.9788" stop-color="#450d5f"/><stop offset="0.9994" stop-color="#461062"/></linearGradient>
<linearGradient id="r274"><stop offset="0.0001" stop-color="#3d4c8a"/><stop offset="0.1466" stop-color="#39548b"/><stop offset="0.1512" stop-color="#37598c"/><stop offset="0.1524" stop-color="#440154"/><stop offset="0.1684" stop-color="#450659"/><stop offset="0.2462" stop-color="#472172"/><stop offset="0.5656" stop-color="#413f84"/><stop offset="0.7796" stop-color="#32668e"/><stop offset="0.8678" stop-color="#2b758e"/><stop offset="0.8689" stop-color="#440154"/><stop offset="0.9994" stop-color="#450a5c"/></linearGradient>
<linearGradient id="r275"><stop offset="0.0001" stop-color="#3d4c8a"/><stop offset="0.1466" stop-color="#39548b"/><stop offset="0.1512" stop-color="#37598c"/><stop offset="0.1524" stop-color="#440154"/><stop offset="0.1684" stop-color="#450659"/><stop offset="0.2462" stop-color="#472172"/><stop offset="0.5656" stop-color="#413f84"/><stop offset="0.7796" stop-color="#32668e"/><stop offset="0.8678" stop-color="#2b758e"/><stop offset="0.8689" stop-color="#440154"/><stop offset="0.9994" stop-color="#450a5c"/></linearGradient>
<linearGradient id="r276"><stop offset="0.0001" stop-color="#3d4c8a"/><stop offset="0.1466" stop-color="#39548b"/><stop offset="0.1512" stop-color="#37598c"/><stop offset="0.1524" stop-color="#440154"/><stop offset="0.1856" stop-color="#450a5c"/><stop offset="0.2474" stop-color="#471e6f"/><stop offset="0.5656" stop-color="#423c82"/><stop offset="0.7796" stop-color="#33638d"/><stop offset="0.8678" stop-color="#2c738e"/><stop offset="0.8689" stop-color="#440154"/><stop offset="0.9994" stop-color="#450a5c"/></linearGradient>
<linearGradient id="r277"><stop offset="0.0001" stop-color="#3d4c8a"/><stop offset="0.1466" stop-color="#39548b"/><stop offset="0.1512" stop-color="#37598c"/><stop offset="0.1524" stop-color="#440154"/><stop offset="0.1856" stop-color="#450a5c"/><stop offset="0.2474" stop-color="#471e6f"/><stop offset="0.5656" stop-color="#423c82"/><stop offset="0.7796" stop-color="#33638d"/><stop offset="0.8678" stop-color="#2c738e"/><stop offset="0.8689" stop-color="#440154"/><stop offset="0.9994" stop-color="#450a5c"/></linearGradient>
<linearGradient id="r278"><stop offset="0.0001" stop-color="#3d4c8a"/><stop offset="0.1466" stop-color="#39558b"/><stop offset="0.1512" stop-color="#375b8c"/><stop offset="0.1524" stop-color="#440154"/><stop offset="0.1787" stop-color="#45085a"/><stop offset="0.2451" stop-color="#472272"/><stop offset="0.5427" stop-color="#414085"/><stop offset="0.7465" stop-color="#31678e"/><stop offset="0.8609" stop-color="#287e8e"/><stop offset="0.8621" stop-color="#440154"/><stop offset="0.9994" stop-color="#450a5d"/></linearGradient>
<linearGradient id="r279"><stop offset="0.0001" stop-color="#375a8c"/><stop offset="0.1466" stop-color="#33638d"/><stop offset="0.1512" stop-color="#31698e"/><stop offset="0.1524" stop-color="#440154"/><stop offset="0.1787" stop-color="#45085a"/><stop offset="0.2451" stop-color="#472272"/><stop offset="0.5427" stop-color="#414085"/><stop offset="0.7465" stop-color="#31678e"/><stop offset="0.8586" stop-color="#287e8e"/><stop offset="0.8598" stop-color="#440154"/><stop offset="0.9948" stop-color="#450a5c"/><stop offset="0.9994" stop-color="#450a5d"/></linearGradient>
<linearGradient id="r280"><stop offset="0.0001" stop-color="#375a8c"/><stop offset="0.1466" stop-color="#33638d"/><stop offset="0.1512" stop-color="#31698e"/><stop offset="0.1524" stop-color="#440154"/><stop offset="0.1787" stop-color="#45085a"/><stop offset="0.1833" stop-color="#450a5c"/><stop offset="0.1844" stop-color="#440154"/><stop offset="0.2462" stop-color="#461869"/><stop offset="0.5427" stop-color="#433880"/><stop offset="0.7465" stop-color="#355f8d"/><stop offset="0.8586" stop-color="#2b778e"/><stop offset="0.8598" stop-color="#440154"/><stop offset="0.9948" stop-color="#450a5c"/><stop offset="0.9994" stop-color="#450a5d"/></linearGradient>
<linearGradient id="r281"><stop offset="0.0001" stop-color="#404386"/><stop offset="0.1466" stop-color="#3d4c89"/><stop offset="0.1478" stop-color="#440154"/><stop offset="0.1558" stop-color="#440557"/><stop offset="0.1592" stop-color="#450a5c"/><stop offset="0.1604" stop-color="#440154"/><stop offset="0.1810" stop-color="#45095b"/><stop offset="0.1821" stop-color="#440154"/><stop offset="0.2474" stop-color="#461869"/><stop offset="0.5427" stop-color="#433880"/><stop offset="0.7465" stop-color="#355f8d"/><stop offset="0.8563" stop-color="#2b768e"/><stop offset="0.8575" stop-color="#440154"/><stop offset="0.9891" stop-color="#45095c"/><stop offset="0.9994" stop-color="#450a5d"/></linearGradient>
<linearGradient id="r282"><stop offset="0.0001" stop-color="#404386"/><stop offset="0.1466" stop-color="#3e4a89"/><stop offset="0.1478" stop-color="#440154"/><stop offset="0.1592" stop-color="#45075a"/><stop offset="0.1615" stop-color="#450a5c"/><stop offset="0.1627" stop-color="#440154"/><stop offset="0.1810" stop-color="#450759"/><stop offset="0.1833" stop-color="#440154"/><stop offset="0.2027" stop-color="#450659"/><stop offset="0.2050" stop-color="#440154"/><stop offset="0.2622" stop-color="#450c5e"/><stop offset="0.5896" stop-color="#482978"/><stop offset="0.8415" stop-color="#3a518a"/><stop offset="0.8563" stop-color="#39548b"/><stop offset="0.8575" stop-color="#440154"/><stop offset="0.9994" stop-color="#45085a"/></linearGradient>
<linearGradient id="r283"><stop offset="0.0001" stop-color="#404386"/><stop offset="0.1466" stop-color="#3e4a89"/><stop offset="0.1478" stop-color="#440154"/><stop offset="0.1592" stop-color="#45075a"/><stop offset="0.1615" stop-color="#450a5c"/><stop offset="0.1627" stop-color="#440154"/><stop offset="0.1810" stop-color="#450759"/><stop offset="0.1833" stop-color="#440154"/><stop offset="0.2027" stop-color="#450659"/><stop offset="0.2050" stop-color="#440154"/><stop offset="0.2176" stop-color="#440557"/><stop offset="0.2256" stop-color="#440255"/><stop offset="0.3927" stop-color="#461062"/><stop offset="0.3939" stop-color="#440154"/><stop offset="0.6308" stop-color="#471c6d"/><stop offset="0.8563" stop-color="#404386"/><stop offset="0.8575" stop-color="#440154"/><stop offset="0.9994" stop-color="#45085a"/></linearGradient>
<linearGradient id="r284"><stop offset="0.0001" stop-color="#31688e"/><stop offset="0.1466" stop-color="#2f6d8e"/><stop offset="0.1478" stop-color="#440154"/><stop offset="0.1615" stop-color="#45075a"/><stop offset="0.1638" stop-color="#440154"/><stop offset="0.1810" stop-color="#450b5d"/><stop offset="0.1821" stop-color="#440154"/><stop offset="0.2027" stop-color="#450a5c"/><stop offset="0.2039" stop-color="#440154"/><stop offset="0.2176" stop-color="#450659"/><stop offset="0.2199" stop-color="#440154"/><stop offset="0.2829" stop-color="#450d5f"/><stop offset="0.3859" stop-color="#46196a"/><stop offset="0.3870" stop-color="#440154"/><stop offset="0.7579" stop-color="#46307c"/><stop offset="0.8563" stop-color="#423d83"/><stop offset="0.8575" stop-color="#440154"/><stop offset="0.9994" stop-color="#450659"/></linearGradient>
<linearGradient id="r285"><stop offset="0.0001" stop-color="#31688e"/><stop offset="0.1466" stop-color="#2f6d8e"/><stop offset="0.1478" stop-color="#440154"/><stop offset="0.1615" stop-color="#45075a"/><stop offset="0.1638" stop-color="#440154"/><stop offset="0.1787" stop-color="#450a5c"/><stop offset="0.1798" stop-color="#440557"/><stop offset="0.1810" stop-color="#450b5d"/><stop offset="0.1821" stop-color="#440154"/><stop offset="0.2004" stop-color="#45095b"/><stop offset="0.2016" stop-color="#440154"/><stop offset="0.2176" stop-color="#450659"/><stop offset="0.2199" stop-color="#440154"/><stop offset="0.2829" stop-color="#450d5f"/><stop offset="0.3859" stop-color="#46196a"/><stop offset="0.3870" stop-color="#440154"/><stop offset="0.7590" stop-color="#46307c"/><stop offset="0.8541" stop-color="#423d83"/><stop offset="0.8552" stop-color="#440154"/><stop offset="0.9994" stop-color="#450659"/></linearGradient>
<linearGradient id="r286"><stop offset="0.0001" stop-color="#404386"/><stop offset="0.1466" stop-color="#3e4a89"/><stop offset="0.1478" stop-color="#440154"/><stop offset="0.1615" stop-color="#45075a"/><stop offset="0.1638" stop-color="#440154"/><stop offset="0.1707" stop-color="#440558"/><stop offset="0.1741" stop-color="#440255"/><stop offset="0.1970" stop-color="#440658"/><stop offset="0.2004" stop-color="#45075a"/><stop offset="0.2027" stop-color="#440154"/><stop offset="0.2176" stop-color="#450659"/><stop offset="0.2199" stop-color="#440154"/><stop offset="0.2829" stop-color="#450d5f"/><stop offset="0.3859" stop-color="#46196a"/><stop offset="0.3870" stop-color="#440154"/><stop offset="0.7590" stop-color="#46307c"/><stop offset="0.7613" stop-color="#45307c"/><stop offset="0.7625" stop-color="#440154"/><stop offset="0.8541" stop-color="#461264"/><stop offset="0.8552" stop-color="#440154"/><stop offset="0.9994" stop-color="#450659"/></linearGradient>
<linearGradient id="r287"><stop offset="0.0001" stop-color="#404386"/><stop offset="0.1466" stop-color="#3e4a89"/><stop offset="0.1478" stop-color="#440154"/><stop offset="0.1615" stop-color="#45075a"/><stop offset="0.1638" stop-color="#440154"/><stop offset="0.1959" stop-color="#440558"/><stop offset="0.1981" stop-color="#450659"/><stop offset="0.2004" stop-color="#440154"/><stop offset="0.2153" stop-color="#440558"/><stop offset="0.2233" stop-color="#440154"/><stop offset="0.2611" stop-color="#450a5d"/><stop offset="0.3859" stop-color="#46196a"/><stop offset="0.3870" stop-color="#440154"/><stop offset="0.5679" stop-color="#461768"/><stop offset="0.5690" stop-color="#461062"/><stop offset="0.5702" stop-color="#461768"/><stop offset="0.7613" stop-color="#45307c"/><stop offset="0.7625" stop-color="#440154"/><stop offset="0.8541" stop-color="#461264"/><stop offset="0.8552" stop-color="#440154"/><stop offset="0.9994" stop-color="#450659"/></linearGradient>
<linearGradient id="r288"><stop offset="0.0001" stop-color="#404386"/><stop offset="0.1455" stop-color="#3c4d8a"/><stop offset="0.1466" stop-color="#3b4f8a"/><stop offset="0.1478" stop-color="#440154"/><stop offset="0.1569" stop-color="#450659"/><stop offset="0.1615" stop-color="#450d5f"/><stop offset="0.1627" stop-color="#440154"/><stop offset="0.1684" stop-color="#450659"/><stop offset="0.1707" stop-color="#440154"/><stop offset="0.1764" stop-color="#440557"/><stop offset="0.1878" stop-color="#440154"/><stop offset="0.1936" stop-color="#450659"/><stop offset="0.1970" stop-color="#440154"/><stop offset="0.2119" stop-color="#440557"/><stop offset="0.2153" stop-color="#45085b"/><stop offset="0.2165" stop-color="#440154"/><stop offset="0.2291" stop-color="#45075a"/><stop offset="0.2542" stop-color="#461163"/><stop offset="0.3836" stop-color="#462e7b"/><stop offset="0.3847" stop-color="#440154"/><stop offset="0.4935" stop-color="#471a6b"/><stop offset="0.5679" stop-color="#472a79"/><stop offset="0.5690" stop-color="#471e6e"/><stop offset="0.5702" stop-color="#472b79"/><stop offset="0.7545" stop-color="#3a538b"/><stop offset="0.7613" stop-color="#39558b"/><stop offset="0.7625" stop-color="#440154"/><stop offset="0.8541" stop-color="#472071"/><stop offset="0.8552" stop-color="#440154"/><stop offset="0.9067" stop-color="#450659"/><stop offset="0.9101" stop-color="#440154"/><stop offset="0.9994" stop-color="#450b5d"/></linearGradient>
<linearGradient id="r289"><stop offset="0.0001" stop-color="#404386"/><stop offset="0.1466" stop-color="#3c4e8a"/><stop offset="0.1478" stop-color="#440154"/><stop offset="0.1615" stop-color="#45075a"/><stop offset="0.1638" stop-color="#440154"/><stop offset="0.2142" stop-color="#440557"/><stop offset="0.2256" stop-color="#440255"/><stop offset="0.2829" stop-color="#472272"/><stop offset="0.3836" stop-color="#414084"/><stop offset="0.3847" stop-color="#440154"/><stop offset="0.4248" stop-color="#450759"/><stop offset="0.5656" stop-color="#472c7a"/><stop offset="0.5667" stop-color="#440154"/><stop offset="0.7613" stop-color="#482979"/><stop offset="0.7625" stop-color="#440154"/><stop offset="0.8541" stop-color="#461768"/><stop offset="0.8552" stop-color="#440154"/><stop offset="0.9067" stop-color="#45085b"/><stop offset="0.9079" stop-color="#440154"/><stop offset="0.9994" stop-color="#450b5d"/></linearGradient>
<linearGradient id="r290"><stop offset="0.0001" stop-color="#472171"/><stop offset="0.1466" stop-color="#472a79"/><stop offset="0.1478" stop-color="#440154"/><stop offset="0.1615" stop-color="#440658"/><stop offset="0.1649" stop-color="#440154"/><stop offset="0.2313" stop-color="#440557"/><stop offset="0.2966" stop-color="#471d6e"/><stop offset="0.3836" stop-color="#45317d"/><stop offset="0.3847" stop-color="#440154"/><stop offset="0.4374" stop-color="#45085b"/><stop offset="0.5656" stop-color="#472272"/><stop offset="0.5667" stop-color="#440154"/><stop offset="0.7613" stop-color="#471f70"/><stop offset="0.7625" stop-color="#440154"/><stop offset="0.8117" stop-color="#450a5c"/><stop offset="0.8128" stop-color="#440154"/><stop offset="0.8541" stop-color="#45085b"/><stop offset="0.8552" stop-color="#440154"/><stop offset="0.9067" stop-color="#45085b"/><stop offset="0.9079" stop-color="#440154"/><stop offset="0.9994" stop-color="#45085b"/></linearGradient>
<linearGradient id="r291"><stop offset="0.0001" stop-color="#472171"/><stop offset="0.1466" stop-color="#472a79"/><stop offset="0.1478" stop-color="#440154"/><stop offset="0.1615" stop-color="#440658"/><stop offset="0.1649" stop-color="#440154"/><stop offset="0.2313" stop-color="#440557"/><stop offset="0.2966" stop-color="#471d6e"/><stop offset="0.3836" stop-color="#45317d"/><stop offset="0.3847" stop-color="#440154"/><stop offset="0.4374" stop-color="#45085a"/><stop offset="0.5656" stop-color="#472172"/><stop offset="0.5667" stop-color="#440154"/><stop offset="0.7613" stop-color="#471f70"/><stop offset="0.7625" stop-color="#440154"/><stop offset="0.8117" stop-color="#450a5c"/><stop offset="0.8128" stop-color="#440154"/><stop offset="0.8529" stop-color="#45085a"/><stop offset="0.8541" stop-color="#440154"/><stop offset="0.9067" stop-color="#45095b"/><stop offset="0.9079" stop-color="#440154"/><stop offset="0.9994" stop-color="#45085b"/></linearGradient>
<linearGradient id="r292"><stop offset="0.0001" stop-color="#472171"/><stop offset="0.1443" stop-color="#482978"/><stop offset="0.1455" stop-color="#440154"/><stop offset="0.1615" stop-color="#440658"/><stop offset="0.1649" stop-color="#440154"/><stop offset="0.2336" stop-color="#440557"/><stop offset="0.2394" stop-color="#45075a"/><stop offset="0.2416" stop-color="#440154"/><stop offset="0.2737" stop-color="#450e60"/><stop offset="0.2748" stop-color="#440154"/><stop offset="0.3836" stop-color="#471d6d"/><stop offset="0.3847" stop-color="#440154"/><stop offset="0.4374" stop-color="#45085a"/><stop offset="0.5656" stop-color="#472172"/><stop offset="0.5667" stop-color="#440154"/><stop offset="0.7590" stop-color="#472070"/><stop offset="0.7602" stop-color="#440154"/><stop offset="0.8117" stop-color="#45095c"/><stop offset="0.8128" stop-color="#440154"/><stop offset="0.8506" stop-color="#45075a"/><stop offset="0.8529" stop-color="#440154"/><stop offset="0.9067" stop-color="#45095b"/><stop offset="0.9079" stop-color="#440154"/><stop offset="0.9994" stop-color="#45085b"/></linearGradient>
<linearGradient id="r293"><stop offset="0.0001" stop-color="#472171"/><stop offset="0.1443" stop-color="#482978"/><stop offset="0.1455" stop-color="#440154"/><stop offset="0.1638" stop-color="#450759"/><stop offset="0.1661" stop-color="#440154"/><stop offset="0.2336" stop-color="#440557"/><stop offset="0.2394" stop-color="#45075a"/><stop offset="0.2416" stop-color="#440154"/><stop offset="0.2737" stop-color="#450d5f"/><stop offset="0.2748" stop-color="#440154"/><stop offset="0.3813" stop-color="#471c6d"/><stop offset="0.3824" stop-color="#440154"/><stop offset="0.4362" stop-color="#450759"/><stop offset="0.5656" stop-color="#472171"/><stop offset="0.5667" stop-color="#440154"/><stop offset="0.7556" stop-color="#471e6f"/><stop offset="0.7568" stop-color="#440154"/><stop offset="0.8117" stop-color="#45095c"/><stop offset="0.8128" stop-color="#440154"/><stop offset="0.8506" stop-color="#45075a"/><stop offset="0.8529" stop-color="#440154"/><stop offset="0.9090" stop-color="#45095b"/><stop offset="0.9101" stop-color="#440154"/><stop offset="0.9994" stop-color="#450659"/></linearGradient>
<linearGradient id="r294"><stop offset="0.0001" stop-color="#472171"/><stop offset="0.1443" stop-color="#482777"/><stop offset="0.1455" stop-color="#440154"/><stop offset="0.1638" stop-color="#440658"/><stop offset="0.1672" stop-color="#440154"/><stop offset="0.2359" stop-color="#440557"/><stop offset="0.2394" stop-color="#450659"/><stop offset="0.2416" stop-color="#440154"/><stop offset="0.2737" stop-color="#45085b"/><stop offset="0.2748" stop-color="#440154"/><stop offset="0.3813" stop-color="#461667"/><stop offset="0.3824" stop-color="#440154"/><stop offset="0.4523" stop-color="#45095b"/><stop offset="0.5633" stop-color="#471a6b"/><stop offset="0.5644" stop-color="#440154"/><stop offset="0.7556" stop-color="#461869"/><stop offset="0.7568" stop-color="#440154"/><stop offset="0.8117" stop-color="#45075a"/><stop offset="0.8140" stop-color="#440154"/><stop offset="0.8506" stop-color="#440658"/><stop offset="0.8541" stop-color="#440154"/><stop offset="0.9090" stop-color="#45085b"/><stop offset="0.9101" stop-color="#440154"/><stop offset="0.9994" stop-color="#440558"/></linearGradient>
<linearGradient id="r295"><stop offset="0.0001" stop-color="#413f84"/><stop offset="0.1443" stop-color="#3f4587"/><stop offset="0.1455" stop-color="#440154"/><stop offset="0.1638" stop-color="#450659"/><stop offset="0.1672" stop-color="#440154"/><stop offset="0.2359" stop-color="#440557"/><stop offset="0.2394" stop-color="#450659"/><stop offset="0.2416" stop-color="#440154"/><stop offset="0.2737" stop-color="#45085b"/><stop offset="0.2748" stop-color="#440154"/><stop offset="0.3813" stop-color="#461667"/><stop offset="0.3824" stop-color="#440154"/><stop offset="0.4523" stop-color="#45095b"/><stop offset="0.5633" stop-color="#471a6b"/><stop offset="0.5644" stop-color="#440154"/><stop offset="0.7556" stop-color="#461869"/><stop offset="0.7568" stop-color="#440154"/><stop offset="0.8094" stop-color="#45075a"/><stop offset="0.8117" stop-color="#440154"/><stop offset="0.8506" stop-color="#440558"/><stop offset="0.8552" stop-color="#440154"/><stop offset="0.9090" stop-color="#45085b"/><stop offset="0.9101" stop-color="#440154"/><stop offset="0.9994" stop-color="#440558"/></linearGradient>
<linearGradient id="r296"><stop offset="0.0001" stop-color="#413f84"/><stop offset="0.1443" stop-color="#404386"/><stop offset="0.1455" stop-color="#440154"/><stop offset="0.1638" stop-color="#440558"/><stop offset="0.1730" stop-color="#440154"/><stop offset="0.2394" stop-color="#440558"/><stop offset="0.2485" stop-color="#440154"/><stop offset="0.2657" stop-color="#440457"/><stop offset="0.2863" stop-color="#440255"/><stop offset="0.3813" stop-color="#461162"/><stop offset="0.3824" stop-color="#440154"/><stop offset="0.5232" stop-color="#450f61"/><stop offset="0.5633" stop-color="#461365"/><stop offset="0.5644" stop-color="#440154"/><stop offset="0.7556" stop-color="#461264"/><stop offset="0.7568" stop-color="#440154"/><stop offset="0.8094" stop-color="#440658"/><stop offset="0.8128" stop-color="#440154"/><stop offset="0.9124" stop-color="#450759"/><stop offset="0.9147" stop-color="#440154"/><stop offset="0.9994" stop-color="#440457"/></linearGradient>
<linearGradient id="r297"><stop offset="0.0001" stop-color="#472171"/><stop offset="0.1443" stop-color="#482676"/><stop offset="0.1455" stop-color="#440154"/><stop offset="0.1638" stop-color="#440558"/><stop offset="0.1730" stop-color="#440154"/><stop offset="0.2657" stop-color="#440457"/><stop offset="0.2863" stop-color="#440255"/><stop offset="0.3779" stop-color="#461062"/><stop offset="0.3790" stop-color="#440154"/><stop offset="0.4866" stop-color="#450b5d"/><stop offset="0.5633" stop-color="#461365"/><stop offset="0.5644" stop-color="#440154"/><stop offset="0.7556" stop-color="#461264"/><stop offset="0.7568" stop-color="#440154"/><stop offset="0.8094" stop-color="#440658"/><stop offset="0.8128" stop-color="#440154"/><stop offset="0.9170" stop-color="#45075a"/><stop offset="0.9193" stop-color="#440154"/><stop offset="0.9994" stop-color="#440356"/></linearGradient>
<linearGradient id="r298"><stop offset="0.0001" stop-color="#472171"/><stop offset="0.1443" stop-color="#482a79"/><stop offset="0.1455" stop-color="#440154"/><stop offset="0.1638" stop-color="#450b5d"/><stop offset="0.1649" stop-color="#440154"/><stop offset="0.2199" stop-color="#450759"/><stop offset="0.2222" stop-color="#440154"/><stop offset="0.2394" stop-color="#440558"/><stop offset="0.2439" stop-color="#440154"/><stop offset="0.2954" stop-color="#440658"/><stop offset="0.3779" stop-color="#471e6f"/><stop offset="0.3790" stop-color="#440154"/><stop offset="0.4408" stop-color="#440558"/><stop offset="0.5610" stop-color="#472172"/><stop offset="0.5622" stop-color="#440154"/><stop offset="0.7556" stop-color="#472172"/><stop offset="0.7568" stop-color="#440154"/><stop offset="0.8094" stop-color="#45095c"/><stop offset="0.8106" stop-color="#440154"/><stop offset="0.8506" stop-color="#45075a"/><stop offset="0.8529" stop-color="#440154"/><stop offset="0.9170" stop-color="#450c5f"/><stop offset="0.9182" stop-color="#440154"/><stop offset="0.9994" stop-color="#440557"/></linearGradient>
<linearGradient id="r299"><stop offset="0.0001" stop-color="#472171"/><stop offset="0.1443" stop-color="#482a79"/><stop offset="0.1455" stop-color="#440154"/><stop offset="0.1638" stop-color="#450b5d"/><stop offset="0.1649" stop-color="#440154"/><stop offset="0.2199" stop-color="#450759"/><stop offset="0.2222" stop-color="#440154"/><stop offset="0.2394" stop-color="#440558"/><stop offset="0.2439" stop-color="#440154"/><stop offset="0.2954" stop-color="#440658"/><stop offset="0.3779" stop-color="#471e6f"/><stop offset="0.3790" stop-color="#440154"/><stop offset="0.4408" stop-color="#440558"/><stop offset="0.5610" stop-color="#472172"/><stop offset="0.5622" stop-color="#440154"/><stop offset="0.7556" stop-color="#472172"/><stop offset="0.7568" stop-color="#440154"/><stop offset="0.8071" stop-color="#45095b"/><stop offset="0.8083" stop-color="#440154"/><stop offset="0.8506" stop-color="#450759"/><stop offset="0.8529" stop-color="#440154"/><stop offset="0.9170" stop-color="#450c5f"/><stop offset="0.9182" stop-color="#440154"/><stop offset="0.9994" stop-color="#440557"/></linearGradient>
<linearGradient id="r300"><stop offset="0.0001" stop-color="#472171"/><stop offset="0.1443" stop-color="#482878"/><stop offset="0.1455" stop-color="#440154"/><stop offset="0.1638" stop-color="#45095b"/><stop offset="0.1649" stop-color="#440154"/><stop offset="0.2222" stop-color="#450659"/><stop offset="0.2245" stop-color="#440154"/><stop offset="0.2989" stop-color="#440558"/><stop offset="0.3779" stop-color="#461768"/><stop offset="0.3790" stop-color="#440154"/><stop offset="0.4488" stop-color="#440658"/><stop offset="0.5610" stop-color="#47196b"/><stop offset="0.5622" stop-color="#440154"/><stop offset="0.7556" stop-color="#47196b"/><stop offset="0.7568" stop-color="#440154"/><stop offset="0.8071" stop-color="#450759"/><stop offset="0.8094" stop-color="#440154"/><stop offset="0.8861" stop-color="#450759"/><stop offset="0.9170" stop-color="#450a5c"/><stop offset="0.9182" stop-color="#440154"/><stop offset="0.9994" stop-color="#440356"/></linearGradient>
<linearGradient id="r301"><stop offset="0.0001" stop-color="#413f84"/><stop offset="0.1443" stop-color="#3f4487"/><stop offset="0.1455" stop-color="#440154"/><stop offset="0.1638" stop-color="#45085a"/><stop offset="0.1649" stop-color="#440154"/><stop offset="0.2222" stop-color="#45085a"/><stop offset="0.2233" stop-color="#440154"/><stop offset="0.3046" stop-color="#440658"/><stop offset="0.3779" stop-color="#461465"/><stop offset="0.3790" stop-color="#440154"/><stop offset="0.4546" stop-color="#450659"/><stop offset="0.5610" stop-color="#461768"/><stop offset="0.5622" stop-color="#440154"/><stop offset="0.7556" stop-color="#461768"/><stop offset="0.7568" stop-color="#440154"/><stop offset="0.8071" stop-color="#450659"/><stop offset="0.8094" stop-color="#440154"/><stop offset="0.9170" stop-color="#45095b"/><stop offset="0.9182" stop-color="#440154"/><stop offset="0.9994" stop-color="#440356"/></linearGradient>
<linearGradient id="r302"><stop offset="0.0001" stop-color="#413f84"/><stop offset="0.1443" stop-color="#3e4888"/><stop offset="0.1455" stop-color="#440154"/><stop offset="0.1638" stop-color="#450c5e"/><stop offset="0.1649" stop-color="#440154"/><stop offset="0.2222" stop-color="#450c5e"/><stop offset="0.2233" stop-color="#440154"/><stop offset="0.2932" stop-color="#440557"/><stop offset="0.3779" stop-color="#472071"/><stop offset="0.3790" stop-color="#440154"/><stop offset="0.4385" stop-color="#440558"/><stop offset="0.5610" stop-color="#482575"/><stop offset="0.5622" stop-color="#440154"/><stop offset="0.7556" stop-color="#482575"/><stop offset="0.7568" stop-color="#440154"/><stop offset="0.8048" stop-color="#45095b"/><stop offset="0.8060" stop-color="#440154"/><stop offset="0.8712" stop-color="#440658"/><stop offset="0.9193" stop-color="#450e60"/><stop offset="0.9204" stop-color="#440154"/><stop offset="0.9994" stop-color="#440457"/></linearGradient>
<linearGradient id="r303"><stop offset="0.0001" stop-color="#3a528a"/><stop offset="0.1443" stop-color="#37598c"/><stop offset="0.1455" stop-color="#440154"/><stop offset="0.1638" stop-color="#450b5d"/><stop offset="0.1649" stop-color="#440154"/><stop offset="0.2222" stop-color="#450c5e"/><stop offset="0.2233" stop-color="#440154"/><stop offset="0.2954" stop-color="#440558"/><stop offset="0.3779" stop-color="#471d6e"/><stop offset="0.3790" stop-color="#440154"/><stop offset="0.4408" stop-color="#440558"/><stop offset="0.5610" stop-color="#472172"/><stop offset="0.5622" stop-color="#440154"/><stop offset="0.6949" stop-color="#461768"/><stop offset="0.6961" stop-color="#440154"/><stop offset="0.7465" stop-color="#45095c"/><stop offset="0.7476" stop-color="#440154"/><stop offset="0.7957" stop-color="#450659"/><stop offset="0.7980" stop-color="#440154"/><stop offset="0.8724" stop-color="#440558"/><stop offset="0.9193" stop-color="#450d5f"/><stop offset="0.9204" stop-color="#440154"/><stop offset="0.9994" stop-color="#440356"/></linearGradient>
<linearGradient id="r304"><stop offset="0.0001" stop-color="#3a528a"/><stop offset="0.1443" stop-color="#38588b"/><stop offset="0.1455" stop-color="#440154"/><stop offset="0.1638" stop-color="#450a5c"/><stop offset="0.1649" stop-color="#440154"/><stop offset="0.2222" stop-color="#450c5e"/><stop offset="0.2233" stop-color="#440154"/><stop offset="0.2966" stop-color="#440558"/><stop offset="0.3779" stop-color="#471a6b"/><stop offset="0.3790" stop-color="#440154"/><stop offset="0.4454" stop-color="#440558"/><stop offset="0.5610" stop-color="#471d6e"/><stop offset="0.5622" stop-color="#440154"/><stop offset="0.6949" stop-color="#461466"/><stop offset="0.6961" stop-color="#440154"/><stop offset="0.7465" stop-color="#45085b"/><stop offset="0.7476" stop-color="#440154"/><stop offset="0.7945" stop-color="#440658"/><stop offset="0.7980" stop-color="#440154"/><stop offset="0.8735" stop-color="#440658"/><stop offset="0.9193" stop-color="#450c5e"/><stop offset="0.9204" stop-color="#440154"/><stop offset="0.9994" stop-color="#440356"/></linearGradient>
<linearGradient id="r305"><stop offset="0.0001" stop-color="#413f84"/><stop offset="0.1443" stop-color="#3f4687"/><stop offset="0.1455" stop-color="#440154"/><stop offset="0.1638" stop-color="#450a5c"/><stop offset="0.1649" stop-color="#440154"/><stop offset="0.2222" stop-color="#450b5d"/><stop offset="0.2233" stop-color="#440154"/><stop offset="0.2977" stop-color="#440558"/><stop offset="0.3779" stop-color="#46196a"/><stop offset="0.3790" stop-color="#440154"/><stop offset="0.4477" stop-color="#440658"/><stop offset="0.5610" stop-color="#471c6d"/><stop offset="0.5622" stop-color="#440154"/><stop offset="0.6949" stop-color="#461365"/><stop offset="0.6961" stop-color="#440154"/><stop offset="0.7465" stop-color="#45085a"/><stop offset="0.7476" stop-color="#440154"/><stop offset="0.7945" stop-color="#440558"/><stop offset="0.7991" stop-color="#440154"/><stop offset="0.8758" stop-color="#440658"/><stop offset="0.9193" stop-color="#450b5e"/><stop offset="0.9204" stop-color="#440154"/><stop offset="0.9994" stop-color="#440255"/></linearGradient>
<linearGradient id="r306"><stop offset="0.0001" stop-color="#413f84"/><stop offset="0.1443" stop-color="#3f4487"/><stop offset="0.1455" stop-color="#440154"/><stop offset="0.1638" stop-color="#45085a"/><stop offset="0.1661" stop-color="#440154"/><stop offset="0.2302" stop-color="#450a5c"/><stop offset="0.2313" stop-color="#440154"/><stop offset="0.3069" stop-color="#450659"/><stop offset="0.3779" stop-color="#461365"/><stop offset="0.3790" stop-color="#440154"/><stop offset="0.4580" stop-color="#450659"/><stop offset="0.5610" stop-color="#461667"/><stop offset="0.5622" stop-color="#440154"/><stop offset="0.6949" stop-color="#450f61"/><stop offset="0.6961" stop-color="#440154"/><stop offset="0.7465" stop-color="#450659"/><stop offset="0.7487" stop-color="#440154"/><stop offset="0.8792" stop-color="#440558"/><stop offset="0.9388" stop-color="#450b5d"/><stop offset="0.9399" stop-color="#440154"/><stop offset="0.9994" stop-color="#440255"/></linearGradient>
<linearGradient id="r307"><stop offset="0.0001" stop-color="#413f84"/><stop offset="0.1443" stop-color="#3f4487"/><stop offset="0.1455" stop-color="#440154"/><stop offset="0.2302" stop-color="#461263"/><stop offset="0.2313" stop-color="#440154"/><stop offset="0.3069" stop-color="#450659"/><stop offset="0.3710" stop-color="#461264"/><stop offset="0.3721" stop-color="#440154"/><stop offset="0.4557" stop-color="#450659"/><stop offset="0.5587" stop-color="#461567"/><stop offset="0.5599" stop-color="#440154"/><stop offset="0.6949" stop-color="#450f61"/><stop offset="0.6961" stop-color="#440154"/><stop offset="0.7465" stop-color="#440558"/><stop offset="0.7545" stop-color="#440154"/><stop offset="0.8792" stop-color="#440558"/><stop offset="0.9388" stop-color="#450b5d"/><stop offset="0.9399" stop-color="#440154"/><stop offset="0.9994" stop-color="#440255"/></linearGradient>
<linearGradient id="r308"><stop offset="0.0001" stop-color="#413f84"/><stop offset="0.1443" stop-color="#3e4889"/><stop offset="0.1455" stop-color="#440154"/><stop offset="0.1798" stop-color="#461264"/><stop offset="0.2302" stop-color="#471f70"/><stop offset="0.2313" stop-color="#440154"/><stop offset="0.2783" stop-color="#450a5c"/><stop offset="0.2794" stop-color="#440154"/><stop offset="0.3710" stop-color="#472071"/><stop offset="0.3721" stop-color="#440154"/><stop offset="0.4488" stop-color="#440558"/><stop offset="0.5587" stop-color="#482474"/><stop offset="0.5599" stop-color="#440154"/><stop offset="0.6160" stop-color="#450b5d"/><stop offset="0.6949" stop-color="#471a6b"/><stop offset="0.6961" stop-color="#440154"/><stop offset="0.7316" stop-color="#440558"/><stop offset="0.7373" stop-color="#440154"/><stop offset="0.8220" stop-color="#440558"/><stop offset="0.8289" stop-color="#440154"/><stop offset="0.8735" stop-color="#45075a"/><stop offset="0.9410" stop-color="#461364"/><stop offset="0.9422" stop-color="#440154"/><stop offset="0.9994" stop-color="#440356"/></linearGradient>
<linearGradient id="r309"><stop offset="0.0001" stop-color="#413f84"/><stop offset="0.1443" stop-color="#3e4889"/><stop offset="0.1455" stop-color="#440154"/><stop offset="0.1798" stop-color="#461264"/><stop offset="0.2302" stop-color="#471f70"/><stop offset="0.2313" stop-color="#440154"/><stop offset="0.2783" stop-color="#450a5c"/><stop offset="0.2794" stop-color="#440154"/><stop offset="0.3710" stop-color="#471f70"/><stop offset="0.3721" stop-color="#440154"/><stop offset="0.4500" stop-color="#440558"/><stop offset="0.5587" stop-color="#482374"/><stop offset="0.5599" stop-color="#440154"/><stop offset="0.6160" stop-color="#450b5d"/><stop offset="0.6927" stop-color="#471a6b"/><stop offset="0.6938" stop-color="#440154"/><stop offset="0.7316" stop-color="#440558"/><stop offset="0.7396" stop-color="#440154"/><stop offset="0.8220" stop-color="#440558"/><stop offset="0.8289" stop-color="#440154"/><stop offset="0.8735" stop-color="#45075a"/><stop offset="0.9605" stop-color="#461667"/><stop offset="0.9617" stop-color="#440154"/><stop offset="0.9994" stop-color="#440355"/></linearGradient>
<linearGradient id="r310"><stop offset="0.0001" stop-color="#413f84"/><stop offset="0.1443" stop-color="#3f4788"/><stop offset="0.1455" stop-color="#440154"/><stop offset="0.1844" stop-color="#461163"/><stop offset="0.2302" stop-color="#471c6d"/><stop offset="0.2313" stop-color="#440154"/><stop offset="0.2783" stop-color="#45095b"/><stop offset="0.2794" stop-color="#440154"/><stop offset="0.3710" stop-color="#471b6c"/><stop offset="0.3721" stop-color="#440154"/><stop offset="0.4523" stop-color="#440558"/><stop offset="0.5587" stop-color="#471f70"/><stop offset="0.5599" stop-color="#440154"/><stop offset="0.6217" stop-color="#450a5c"/><stop offset="0.6927" stop-color="#461667"/><stop offset="0.6938" stop-color="#440154"/><stop offset="0.7316" stop-color="#440457"/><stop offset="0.7636" stop-color="#440356"/><stop offset="0.8655" stop-color="#440457"/><stop offset="0.9708" stop-color="#461466"/><stop offset="0.9720" stop-color="#440154"/><stop offset="0.9994" stop-color="#440255"/></linearGradient>
<linearGradient id="r311"><stop offset="0.0001" stop-color="#462e7b"/><stop offset="0.1443" stop-color="#443780"/><stop offset="0.1455" stop-color="#440154"/><stop offset="0.1844" stop-color="#461163"/><stop offset="0.2302" stop-color="#471c6d"/><stop offset="0.2313" stop-color="#440154"/><stop offset="0.2783" stop-color="#450a5c"/><stop offset="0.2794" stop-color="#440154"/><stop offset="0.3710" stop-color="#471b6c"/><stop offset="0.3721" stop-color="#440154"/><stop offset="0.4546" stop-color="#440558"/><stop offset="0.5587" stop-color="#471e6f"/><stop offset="0.5599" stop-color="#440154"/><stop offset="0.6217" stop-color="#450a5c"/><stop offset="0.6927" stop-color="#461667"/><stop offset="0.6938" stop-color="#440154"/><stop offset="0.7705" stop-color="#440457"/><stop offset="0.8197" stop-color="#440457"/><stop offset="0.8655" stop-color="#440457"/><stop offset="0.9731" stop-color="#461566"/><stop offset="0.9742" stop-color="#440154"/><stop offset="0.9994" stop-color="#440255"/></linearGradient>
<linearGradient id="r312"><stop offset="0.0001" stop-color="#462e7b"/><stop offset="0.1443" stop-color="#44377f"/><stop offset="0.1455" stop-color="#440154"/><stop offset="0.1844" stop-color="#461163"/><stop offset="0.2302" stop-color="#471c6c"/><stop offset="0.2313" stop-color="#440154"/><stop offset="0.2783" stop-color="#450a5c"/><stop offset="0.2794" stop-color="#440154"/><stop offset="0.3710" stop-color="#471b6c"/><stop offset="0.3721" stop-color="#440154"/><stop offset="0.4546" stop-color="#440558"/><stop offset="0.5564" stop-color="#471e6f"/><stop offset="0.5576" stop-color="#440154"/><stop offset="0.6068" stop-color="#440658"/><stop offset="0.6102" stop-color="#440154"/><stop offset="0.6927" stop-color="#461062"/><stop offset="0.6938" stop-color="#440154"/><stop offset="0.7693" stop-color="#440558"/><stop offset="0.7774" stop-color="#440255"/><stop offset="0.8220" stop-color="#45075a"/><stop offset="0.8243" stop-color="#440154"/><stop offset="0.8781" stop-color="#45075a"/><stop offset="0.9754" stop-color="#461566"/><stop offset="0.9765" stop-color="#440154"/><stop offset="0.9994" stop-color="#440255"/></linearGradient>
<linearGradient id="r313"><stop offset="0.0001" stop-color="#462e7b"/><stop offset="0.1443" stop-color="#44377f"/><stop offset="0.1455" stop-color="#440154"/><stop offset="0.1844" stop-color="#461163"/><stop offset="0.2302" stop-color="#471c6c"/><stop offset="0.2313" stop-color="#440154"/><stop offset="0.2783" stop-color="#450a5c"/><stop offset="0.2794" stop-color="#440154"/><stop offset="0.3687" stop-color="#471a6b"/><stop offset="0.3698" stop-color="#440154"/><stop offset="0.4546" stop-color="#440558"/><stop offset="0.5564" stop-color="#471e6f"/><stop offset="0.5576" stop-color="#440154"/><stop offset="0.6068" stop-color="#440658"/><stop offset="0.6102" stop-color="#440154"/><stop offset="0.6927" stop-color="#461062"/><stop offset="0.6938" stop-color="#440154"/><stop offset="0.7671" stop-color="#440558"/><stop offset="0.7705" stop-color="#450659"/><stop offset="0.7728" stop-color="#440154"/><stop offset="0.8243" stop-color="#45085a"/><stop offset="0.8254" stop-color="#440154"/><stop offset="0.9754" stop-color="#461768"/><stop offset="0.9765" stop-color="#440154"/><stop offset="0.9994" stop-color="#440154"/></linearGradient>
<linearGradient id="r314"><stop offset="0.0001" stop-color="#462e7b"/><stop offset="0.1421" stop-color="#44367f"/><stop offset="0.1432" stop-color="#440154"/><stop offset="0.1959" stop-color="#461263"/><stop offset="0.2302" stop-color="#46196a"/><stop offset="0.2313" stop-color="#440154"/><stop offset="0.2783" stop-color="#45095b"/><stop offset="0.2794" stop-color="#440154"/><stop offset="0.3687" stop-color="#461869"/><stop offset="0.3698" stop-color="#440154"/><stop offset="0.4557" stop-color="#440558"/><stop offset="0.5564" stop-color="#471b6c"/><stop offset="0.5576" stop-color="#440154"/><stop offset="0.6068" stop-color="#440558"/><stop offset="0.6114" stop-color="#440154"/><stop offset="0.6927" stop-color="#450f60"/><stop offset="0.6938" stop-color="#440154"/><stop offset="0.7705" stop-color="#440658"/><stop offset="0.7728" stop-color="#450659"/><stop offset="0.7762" stop-color="#440154"/><stop offset="0.8243" stop-color="#45075a"/><stop offset="0.8266" stop-color="#440154"/><stop offset="0.9800" stop-color="#461768"/><stop offset="0.9811" stop-color="#440154"/><stop offset="0.9994" stop-color="#440154"/></linearGradient>
<linearGradient id="r315"><stop offset="0.0001" stop-color="#277f8e"/><stop offset="0.1421" stop-color="#25858d"/><stop offset="0.1432" stop-color="#440154"/><stop offset="0.1959" stop-color="#461263"/><stop offset="0.2302" stop-color="#46196a"/><stop offset="0.2313" stop-color="#440154"/><stop offset="0.2783" stop-color="#45095b"/><stop offset="0.2794" stop-color="#440154"/><stop offset="0.3687" stop-color="#461768"/><stop offset="0.3698" stop-color="#440154"/><stop offset="0.4179" stop-color="#450659"/><stop offset="0.4214" stop-color="#440154"/><stop offset="0.4866" stop-color="#450c5e"/><stop offset="0.5564" stop-color="#471b6c"/><stop offset="0.5576" stop-color="#440154"/><stop offset="0.6068" stop-color="#440558"/><stop offset="0.6114" stop-color="#440154"/><stop offset="0.6927" stop-color="#450f60"/><stop offset="0.6938" stop-color="#440154"/><stop offset="0.7693" stop-color="#440658"/><stop offset="0.7728" stop-color="#450659"/><stop offset="0.7751" stop-color="#440154"/><stop offset="0.8243" stop-color="#45075a"/><stop offset="0.8266" stop-color="#440154"/><stop offset="0.9823" stop-color="#461768"/><stop offset="0.9834" stop-color="#440154"/><stop offset="0.9994" stop-color="#440154"/></linearGradient>
<linearGradient id="r316"><stop offset="0.0001" stop-color="#472b7a"/><stop offset="0.1421" stop-color="#462f7c"/><stop offset="0.1432" stop-color="#440154"/><stop offset="0.2302" stop-color="#450e60"/><stop offset="0.2313" stop-color="#440154"/><stop offset="0.2829" stop-color="#440558"/><stop offset="0.2874" stop-color="#440154"/><stop offset="0.3515" stop-color="#450a5c"/><stop offset="0.3527" stop-color="#440154"/><stop offset="0.4786" stop-color="#440658"/><stop offset="0.5564" stop-color="#450e60"/><stop offset="0.5576" stop-color="#440154"/><stop offset="0.6904" stop-color="#45085a"/><stop offset="0.6915" stop-color="#440154"/><stop offset="0.8266" stop-color="#440457"/><stop offset="0.8495" stop-color="#440355"/><stop offset="0.9823" stop-color="#450d5f"/><stop offset="0.9834" stop-color="#440154"/><stop offset="0.9994" stop-color="#440154"/></linearGradient>
<linearGradient id="r317"><stop offset="0.0001" stop-color="#472b7a"/><stop offset="0.1421" stop-color="#462f7c"/><stop offset="0.1432" stop-color="#440154"/><stop offset="0.2302" stop-color="#450e60"/><stop offset="0.2313" stop-color="#440154"/><stop offset="0.2829" stop-color="#440558"/><stop offset="0.2874" stop-color="#440154"/><stop offset="0.3515" stop-color="#450a5c"/><stop offset="0.3527" stop-color="#440154"/><stop offset="0.4786" stop-color="#440658"/><stop offset="0.5564" stop-color="#450e60"/><stop offset="0.5576" stop-color="#440154"/><stop offset="0.6904" stop-color="#45085a"/><stop offset="0.6915" stop-color="#440154"/><stop offset="0.8289" stop-color="#440557"/><stop offset="0.8392" stop-color="#440154"/><stop offset="0.9845" stop-color="#450d5f"/><stop offset="0.9857" stop-color="#440154"/><stop offset="0.9994" stop-color="#440154"/></linearGradient>
<linearGradient id="r318"><stop offset="0.0001" stop-color="#472b7a"/><stop offset="0.1421" stop-color="#462f7c"/><stop offset="0.1432" stop-color="#440154"/><stop offset="0.2325" stop-color="#450f61"/><stop offset="0.2336" stop-color="#440154"/><stop offset="0.2829" stop-color="#440658"/><stop offset="0.2863" stop-color="#440154"/><stop offset="0.3424" stop-color="#45095b"/><stop offset="0.3435" stop-color="#440154"/><stop offset="0.4271" stop-color="#440558"/><stop offset="0.4351" stop-color="#440154"/><stop offset="0.5564" stop-color="#450f61"/><stop offset="0.5576" stop-color="#440154"/><stop offset="0.6904" stop-color="#45085b"/><stop offset="0.6915" stop-color="#440154"/><stop offset="0.8312" stop-color="#440658"/><stop offset="0.9845" stop-color="#461264"/><stop offset="0.9857" stop-color="#440154"/><stop offset="0.9994" stop-color="#440154"/></linearGradient>
<linearGradient id="r319"><stop offset="0.0001" stop-color="#472b7a"/><stop offset="0.1421" stop-color="#46307c"/><stop offset="0.1432" stop-color="#440154"/><stop offset="0.2165" stop-color="#461062"/><stop offset="0.2829" stop-color="#46196a"/><stop offset="0.2840" stop-color="#440154"/><stop offset="0.3412" stop-color="#450a5c"/><stop offset="0.3424" stop-color="#440154"/><stop offset="0.4271" stop-color="#440658"/><stop offset="0.4305" stop-color="#440154"/><stop offset="0.5564" stop-color="#461264"/><stop offset="0.5576" stop-color="#440154"/><stop offset="0.6652" stop-color="#45075a"/><stop offset="0.6904" stop-color="#450a5c"/><stop offset="0.6915" stop-color="#440154"/><stop offset="0.7728" stop-color="#440557"/><stop offset="0.7831" stop-color="#440154"/><stop offset="0.9845" stop-color="#461768"/><stop offset="0.9857" stop-color="#440154"/><stop offset="0.9994" stop-color="#440154"/></linearGradient>
<linearGradient id="r320"><stop offset="0.0001" stop-color="#472b7a"/><stop offset="0.1421" stop-color="#45327d"/><stop offset="0.1432" stop-color="#440154"/><stop offset="0.1913" stop-color="#461062"/><stop offset="0.2829" stop-color="#472071"/><stop offset="0.2840" stop-color="#440154"/><stop offset="0.3412" stop-color="#450c5e"/><stop offset="0.3424" stop-color="#440154"/><stop offset="0.4271" stop-color="#45075a"/><stop offset="0.4294" stop-color="#440154"/><stop offset="0.5564" stop-color="#461769"/><stop offset="0.5576" stop-color="#440154"/><stop offset="0.5851" stop-color="#440457"/><stop offset="0.6011" stop-color="#440356"/><stop offset="0.6720" stop-color="#450a5c"/><stop offset="0.6904" stop-color="#450c5e"/><stop offset="0.6915" stop-color="#440154"/><stop offset="0.7728" stop-color="#440658"/><stop offset="0.7751" stop-color="#450659"/><stop offset="0.7774" stop-color="#440154"/><stop offset="0.9845" stop-color="#471d6e"/><stop offset="0.9857" stop-color="#440154"/><stop offset="0.9994" stop-color="#440154"/></linearGradient>
<linearGradient id="r321"><stop offset="0.0001" stop-color="#472b7a"/><stop offset="0.1123" stop-color="#45327d"/><stop offset="0.1134" stop-color="#440154"/><stop offset="0.1512" stop-color="#440558"/><stop offset="0.1844" stop-color="#461364"/><stop offset="0.2829" stop-color="#482978"/><stop offset="0.2840" stop-color="#440154"/><stop offset="0.3264" stop-color="#450a5d"/><stop offset="0.3298" stop-color="#450b5e"/><stop offset="0.3309" stop-color="#440154"/><stop offset="0.4259" stop-color="#45095b"/><stop offset="0.4271" stop-color="#45095b"/><stop offset="0.4282" stop-color="#440154"/><stop offset="0.4855" stop-color="#450c5e"/><stop offset="0.5564" stop-color="#471d6e"/><stop offset="0.5576" stop-color="#440154"/><stop offset="0.5851" stop-color="#440558"/><stop offset="0.5885" stop-color="#440154"/><stop offset="0.6068" stop-color="#440557"/><stop offset="0.6217" stop-color="#440255"/><stop offset="0.6881" stop-color="#450f61"/><stop offset="0.6892" stop-color="#440154"/><stop offset="0.7636" stop-color="#440558"/><stop offset="0.7751" stop-color="#45085b"/><stop offset="0.7762" stop-color="#440154"/><stop offset="0.8552" stop-color="#461062"/><stop offset="0.9948" stop-color="#482676"/><stop offset="0.9960" stop-color="#440154"/><stop offset="0.9994" stop-color="#440154"/></linearGradient>
<linearGradient id="r322"><stop offset="0.0001" stop-color="#2f6d8e"/><stop offset="0.1123" stop-color="#2d728e"/><stop offset="0.1134" stop-color="#440154"/><stop offset="0.1524" stop-color="#440558"/><stop offset="0.1993" stop-color="#461365"/><stop offset="0.2829" stop-color="#482374"/><stop offset="0.2840" stop-color="#440154"/><stop offset="0.3275" stop-color="#450759"/><stop offset="0.3298" stop-color="#440154"/><stop offset="0.4294" stop-color="#45085a"/><stop offset="0.4305" stop-color="#440154"/><stop offset="0.4935" stop-color="#450b5d"/><stop offset="0.5541" stop-color="#461769"/><stop offset="0.5553" stop-color="#440154"/><stop offset="0.5873" stop-color="#440558"/><stop offset="0.5919" stop-color="#440154"/><stop offset="0.6469" stop-color="#45085a"/><stop offset="0.6881" stop-color="#461062"/><stop offset="0.6892" stop-color="#440154"/><stop offset="0.7613" stop-color="#440558"/><stop offset="0.7751" stop-color="#45095b"/><stop offset="0.7762" stop-color="#440154"/><stop offset="0.8346" stop-color="#450c5f"/><stop offset="0.9365" stop-color="#472272"/><stop offset="0.9994" stop-color="#472b79"/></linearGradient>
<linearGradient id="r323"><stop offset="0.0001" stop-color="#2f6d8e"/><stop offset="0.1123" stop-color="#2d728e"/><stop offset="0.1134" stop-color="#440154"/><stop offset="0.1512" stop-color="#440557"/><stop offset="0.1878" stop-color="#461264"/><stop offset="0.2829" stop-color="#482676"/><stop offset="0.2840" stop-color="#440154"/><stop offset="0.3275" stop-color="#450759"/><stop offset="0.3298" stop-color="#440154"/><stop offset="0.4294" stop-color="#45095b"/><stop offset="0.4305" stop-color="#440154"/><stop offset="0.4843" stop-color="#45095c"/><stop offset="0.5541" stop-color="#46196a"/><stop offset="0.5553" stop-color="#440154"/><stop offset="0.5873" stop-color="#440658"/><stop offset="0.5908" stop-color="#440154"/><stop offset="0.6423" stop-color="#450759"/><stop offset="0.6881" stop-color="#461163"/><stop offset="0.6892" stop-color="#440154"/><stop offset="0.7602" stop-color="#440558"/><stop offset="0.7751" stop-color="#450a5c"/><stop offset="0.7762" stop-color="#440154"/><stop offset="0.8254" stop-color="#450b5d"/><stop offset="0.9250" stop-color="#472373"/><stop offset="0.9994" stop-color="#462d7b"/></linearGradient>
<linearGradient id="r324"><stop offset="0.0001" stop-color="#472a79"/><stop offset="0.1123" stop-color="#46307c"/><stop offset="0.1134" stop-color="#440154"/><stop offset="0.1512" stop-color="#440557"/><stop offset="0.1867" stop-color="#461264"/><stop offset="0.2851" stop-color="#482777"/><stop offset="0.2863" stop-color="#440154"/><stop offset="0.3275" stop-color="#450659"/><stop offset="0.3298" stop-color="#440154"/><stop offset="0.4351" stop-color="#450a5c"/><stop offset="0.4397" stop-color="#450a5d"/><stop offset="0.4408" stop-color="#440154"/><stop offset="0.5003" stop-color="#450b5d"/><stop offset="0.5541" stop-color="#461869"/><stop offset="0.5553" stop-color="#440154"/><stop offset="0.5873" stop-color="#440658"/><stop offset="0.5908" stop-color="#440154"/><stop offset="0.6434" stop-color="#450659"/><stop offset="0.6881" stop-color="#461162"/><stop offset="0.6892" stop-color="#440154"/><stop offset="0.7602" stop-color="#440558"/><stop offset="0.7751" stop-color="#450a5c"/><stop offset="0.7762" stop-color="#440154"/><stop offset="0.8243" stop-color="#450a5d"/><stop offset="0.9227" stop-color="#472373"/><stop offset="0.9994" stop-color="#462e7b"/></linearGradient>
<linearGradient id="r325"><stop offset="0.0001" stop-color="#472a79"/><stop offset="0.1123" stop-color="#462e7b"/><stop offset="0.1134" stop-color="#440154"/><stop offset="0.1558" stop-color="#440558"/><stop offset="0.2851" stop-color="#471a6b"/><stop offset="0.2863" stop-color="#440154"/><stop offset="0.4397" stop-color="#45075a"/><stop offset="0.4420" stop-color="#440154"/><stop offset="0.5541" stop-color="#461062"/><stop offset="0.5553" stop-color="#440154"/><stop offset="0.6503" stop-color="#440658"/><stop offset="0.6881" stop-color="#450b5d"/><stop offset="0.6892" stop-color="#440154"/><stop offset="0.7705" stop-color="#440658"/><stop offset="0.7751" stop-color="#450759"/><stop offset="0.7774" stop-color="#440154"/><stop offset="0.9834" stop-color="#471d6e"/><stop offset="0.9994" stop-color="#471f70"/></linearGradient>
<linearGradient id="r326"><stop offset="0.0001" stop-color="#472a79"/><stop offset="0.1100" stop-color="#45317c"/><stop offset="0.1111" stop-color="#440154"/><stop offset="0.1501" stop-color="#440457"/><stop offset="0.1787" stop-color="#461365"/><stop offset="0.2851" stop-color="#472d7a"/><stop offset="0.2863" stop-color="#440154"/><stop offset="0.3985" stop-color="#440558"/><stop offset="0.4397" stop-color="#450c5e"/><stop offset="0.4408" stop-color="#440154"/><stop offset="0.4843" stop-color="#45085b"/><stop offset="0.5541" stop-color="#471c6d"/><stop offset="0.5553" stop-color="#440154"/><stop offset="0.5873" stop-color="#450659"/><stop offset="0.5896" stop-color="#440154"/><stop offset="0.6377" stop-color="#440658"/><stop offset="0.6858" stop-color="#461364"/><stop offset="0.6869" stop-color="#440154"/><stop offset="0.7121" stop-color="#450659"/><stop offset="0.7144" stop-color="#440154"/><stop offset="0.7419" stop-color="#440558"/><stop offset="0.7487" stop-color="#440255"/><stop offset="0.7899" stop-color="#461162"/><stop offset="0.7911" stop-color="#440154"/><stop offset="0.9124" stop-color="#482777"/><stop offset="0.9994" stop-color="#44357f"/></linearGradient>
<linearGradient id="r327"><stop offset="0.0001" stop-color="#472a79"/><stop offset="0.0951" stop-color="#462e7b"/><stop offset="0.0963" stop-color="#440154"/><stop offset="0.1524" stop-color="#440457"/><stop offset="0.2394" stop-color="#461769"/><stop offset="0.2851" stop-color="#471e6f"/><stop offset="0.2863" stop-color="#440154"/><stop offset="0.4214" stop-color="#450659"/><stop offset="0.4397" stop-color="#45085b"/><stop offset="0.4408" stop-color="#440154"/><stop offset="0.5095" stop-color="#45095b"/><stop offset="0.5541" stop-color="#461163"/><stop offset="0.5553" stop-color="#440154"/><stop offset="0.5885" stop-color="#440557"/><stop offset="0.5988" stop-color="#440154"/><stop offset="0.6858" stop-color="#450d5f"/><stop offset="0.6869" stop-color="#440154"/><stop offset="0.7121" stop-color="#440557"/><stop offset="0.7190" stop-color="#440255"/><stop offset="0.9262" stop-color="#472c7a"/><stop offset="0.9994" stop-color="#45337e"/></linearGradient>
<linearGradient id="r328"><stop offset="0.0001" stop-color="#472a79"/><stop offset="0.0951" stop-color="#462e7b"/><stop offset="0.0963" stop-color="#440154"/><stop offset="0.1512" stop-color="#440457"/><stop offset="0.1913" stop-color="#461264"/><stop offset="0.2851" stop-color="#482475"/><stop offset="0.2863" stop-color="#440154"/><stop offset="0.4076" stop-color="#450659"/><stop offset="0.4397" stop-color="#450a5c"/><stop offset="0.4408" stop-color="#440154"/><stop offset="0.4969" stop-color="#45075a"/><stop offset="0.5519" stop-color="#461365"/><stop offset="0.5541" stop-color="#450d5f"/><stop offset="0.5553" stop-color="#440154"/><stop offset="0.5885" stop-color="#440658"/><stop offset="0.5919" stop-color="#440154"/><stop offset="0.6469" stop-color="#450759"/><stop offset="0.6858" stop-color="#450f61"/><stop offset="0.6869" stop-color="#440154"/><stop offset="0.8758" stop-color="#46307c"/><stop offset="0.9994" stop-color="#414185"/></linearGradient>
<linearGradient id="r329"><stop offset="0.0001" stop-color="#35b679"/><stop offset="0.0951" stop-color="#39b877"/><stop offset="0.0963" stop-color="#440154"/><stop offset="0.1569" stop-color="#440558"/><stop offset="0.2851" stop-color="#461668"/><stop offset="0.2863" stop-color="#440154"/><stop offset="0.4397" stop-color="#450759"/><stop offset="0.4420" stop-color="#440154"/><stop offset="0.5507" stop-color="#450c5e"/><stop offset="0.5541" stop-color="#45085b"/><stop offset="0.5553" stop-color="#440154"/><stop offset="0.6606" stop-color="#450659"/><stop offset="0.6858" stop-color="#45095b"/><stop offset="0.6869" stop-color="#440154"/><stop offset="0.9525" stop-color="#482676"/><stop offset="0.9994" stop-color="#472a79"/></linearGradient>
<linearGradient id="r330"><stop offset="0.0001" stop-color="#2f6d8e"/><stop offset="0.0928" stop-color="#2d718e"/><stop offset="0.0940" stop-color="#440154"/><stop offset="0.1512" stop-color="#440557"/><stop offset="0.1890" stop-color="#461264"/><stop offset="0.2851" stop-color="#482676"/><stop offset="0.2863" stop-color="#440154"/><stop offset="0.4053" stop-color="#450659"/><stop offset="0.4443" stop-color="#450b5d"/><stop offset="0.4454" stop-color="#440154"/><stop offset="0.4992" stop-color="#45085a"/><stop offset="0.5496" stop-color="#461465"/><stop offset="0.5507" stop-color="#440154"/><stop offset="0.5908" stop-color="#450659"/><stop offset="0.5931" stop-color="#440154"/><stop offset="0.6560" stop-color="#440658"/><stop offset="0.6858" stop-color="#450c5e"/><stop offset="0.6869" stop-color="#440154"/><stop offset="0.8666" stop-color="#46307c"/><stop offset="0.9994" stop-color="#404486"/></linearGradient>
<linearGradient id="r331"><stop offset="0.0001" stop-color="#413f84"/><stop offset="0.0928" stop-color="#404285"/><stop offset="0.0940" stop-color="#440154"/><stop offset="0.1581" stop-color="#440558"/><stop offset="0.2851" stop-color="#461466"/><stop offset="0.2863" stop-color="#440154"/><stop offset="0.4443" stop-color="#450659"/><stop offset="0.4465" stop-color="#440154"/><stop offset="0.5312" stop-color="#45095b"/><stop offset="0.5324" stop-color="#440154"/><stop offset="0.6732" stop-color="#440558"/><stop offset="0.6858" stop-color="#450759"/><stop offset="0.6881" stop-color="#440154"/><stop offset="0.9605" stop-color="#472373"/><stop offset="0.9994" stop-color="#482676"/></linearGradient>
<linearGradient id="r332"><stop offset="0.0001" stop-color="#413f84"/><stop offset="0.0928" stop-color="#404486"/><stop offset="0.0940" stop-color="#440154"/><stop offset="0.1512" stop-color="#440457"/><stop offset="0.1936" stop-color="#461263"/><stop offset="0.2851" stop-color="#472373"/><stop offset="0.2863" stop-color="#440154"/><stop offset="0.4099" stop-color="#450b5d"/><stop offset="0.4465" stop-color="#451061"/><stop offset="0.4477" stop-color="#440154"/><stop offset="0.5061" stop-color="#45085b"/><stop offset="0.5312" stop-color="#450e60"/><stop offset="0.5324" stop-color="#440154"/><stop offset="0.5908" stop-color="#450659"/><stop offset="0.5931" stop-color="#440154"/><stop offset="0.6583" stop-color="#440658"/><stop offset="0.6835" stop-color="#450b5d"/><stop offset="0.6846" stop-color="#440154"/><stop offset="0.8792" stop-color="#46307c"/><stop offset="0.9994" stop-color="#413f84"/></linearGradient>
<linearGradient id="r333"><stop offset="0.0001" stop-color="#413f84"/><stop offset="0.0425" stop-color="#414185"/><stop offset="0.0436" stop-color="#440154"/><stop offset="0.1546" stop-color="#440557"/><stop offset="0.2851" stop-color="#461769"/><stop offset="0.2863" stop-color="#440154"/><stop offset="0.4465" stop-color="#450a5d"/><stop offset="0.4477" stop-color="#440154"/><stop offset="0.5312" stop-color="#450759"/><stop offset="0.5335" stop-color="#440154"/><stop offset="0.5908" stop-color="#440457"/><stop offset="0.6148" stop-color="#440255"/><stop offset="0.6835" stop-color="#45075a"/><stop offset="0.6858" stop-color="#440154"/><stop offset="0.9491" stop-color="#482778"/><stop offset="0.9994" stop-color="#472b7a"/></linearGradient>
<linearGradient id="r334"><stop offset="0.0001" stop-color="#462e7b"/><stop offset="0.0402" stop-color="#45317c"/><stop offset="0.0413" stop-color="#440154"/><stop offset="0.1501" stop-color="#440457"/><stop offset="0.1844" stop-color="#461264"/><stop offset="0.2851" stop-color="#482777"/><stop offset="0.2863" stop-color="#440154"/><stop offset="0.3905" stop-color="#45095c"/><stop offset="0.4465" stop-color="#461163"/><stop offset="0.4477" stop-color="#440154"/><stop offset="0.4900" stop-color="#440558"/><stop offset="0.4946" stop-color="#440154"/><stop offset="0.5129" stop-color="#450659"/><stop offset="0.5152" stop-color="#440154"/><stop offset="0.5908" stop-color="#45075a"/><stop offset="0.5931" stop-color="#440154"/><stop offset="0.6549" stop-color="#440558"/><stop offset="0.6835" stop-color="#450c5e"/><stop offset="0.6846" stop-color="#440154"/><stop offset="0.8552" stop-color="#462e7b"/><stop offset="0.9731" stop-color="#404285"/><stop offset="0.9994" stop-color="#3f4687"/></linearGradient>
<linearGradient id="r335"><stop offset="0.0001" stop-color="#462e7b"/><stop offset="0.0390" stop-color="#46307c"/><stop offset="0.0402" stop-color="#440154"/><stop offset="0.1512" stop-color="#440457"/><stop offset="0.2176" stop-color="#461465"/><stop offset="0.2851" stop-color="#471f6f"/><stop offset="0.2863" stop-color="#440154"/><stop offset="0.4465" stop-color="#450d5f"/><stop offset="0.4477" stop-color="#440154"/><stop offset="0.5873" stop-color="#440558"/><stop offset="0.5908" stop-color="#450659"/><stop offset="0.5942" stop-color="#440154"/><stop offset="0.6675" stop-color="#450659"/><stop offset="0.6835" stop-color="#45095b"/><stop offset="0.6846" stop-color="#440154"/><stop offset="0.9307" stop-color="#46307c"/><stop offset="0.9994" stop-color="#433780"/></linearGradient>
<linearGradient id="r336"><stop offset="0.0001" stop-color="#462e7b"/><stop offset="0.0390" stop-color="#46307c"/><stop offset="0.0402" stop-color="#440154"/><stop offset="0.1512" stop-color="#440457"/><stop offset="0.2153" stop-color="#461465"/><stop offset="0.2851" stop-color="#471f6f"/><stop offset="0.2863" stop-color="#440154"/><stop offset="0.4465" stop-color="#450e60"/><stop offset="0.4477" stop-color="#440154"/><stop offset="0.5851" stop-color="#440558"/><stop offset="0.5999" stop-color="#45075a"/><stop offset="0.6022" stop-color="#440154"/><stop offset="0.6720" stop-color="#45075a"/><stop offset="0.6835" stop-color="#45095c"/><stop offset="0.6846" stop-color="#440154"/><stop offset="0.9239" stop-color="#46307c"/><stop offset="0.9994" stop-color="#433880"/></linearGradient>
<linearGradient id="r337"><stop offset="0.0001" stop-color="#433a81"/><stop offset="0.0390" stop-color="#423c82"/><stop offset="0.0402" stop-color="#440154"/><stop offset="0.1489" stop-color="#440457"/><stop offset="0.1775" stop-color="#461365"/><stop offset="0.2851" stop-color="#462d7b"/><stop offset="0.2863" stop-color="#440154"/><stop offset="0.3126" stop-color="#440457"/><stop offset="0.3355" stop-color="#440356"/><stop offset="0.4511" stop-color="#461667"/><stop offset="0.4523" stop-color="#440154"/><stop offset="0.4878" stop-color="#440558"/><stop offset="0.4958" stop-color="#440154"/><stop offset="0.5747" stop-color="#440658"/><stop offset="0.5999" stop-color="#450b5d"/><stop offset="0.6011" stop-color="#440154"/><stop offset="0.6240" stop-color="#440658"/><stop offset="0.6274" stop-color="#440154"/><stop offset="0.6823" stop-color="#450c5f"/><stop offset="0.6835" stop-color="#440154"/><stop offset="0.8289" stop-color="#462e7b"/><stop offset="0.9159" stop-color="#404486"/><stop offset="0.9994" stop-color="#3b508a"/></linearGradient>
<linearGradient id="r338"><stop offset="0.0001" stop-color="#433a81"/><stop offset="0.0322" stop-color="#423b82"/><stop offset="0.0333" stop-color="#440154"/><stop offset="0.1489" stop-color="#440457"/><stop offset="0.1810" stop-color="#461264"/><stop offset="0.2851" stop-color="#482a79"/><stop offset="0.2863" stop-color="#440154"/><stop offset="0.3905" stop-color="#450b5d"/><stop offset="0.4511" stop-color="#461465"/><stop offset="0.4523" stop-color="#440154"/><stop offset="0.5736" stop-color="#440558"/><stop offset="0.5999" stop-color="#450a5c"/><stop offset="0.6011" stop-color="#440154"/><stop offset="0.6240" stop-color="#450659"/><stop offset="0.6274" stop-color="#440154"/><stop offset="0.6823" stop-color="#450a5c"/><stop offset="0.6835" stop-color="#440154"/><stop offset="0.8495" stop-color="#46307c"/><stop offset="0.9388" stop-color="#404185"/><stop offset="0.9994" stop-color="#3e4a89"/></linearGradient>
<linearGradient id="r339"><stop offset="0.0001" stop-color="#433a81"/><stop offset="0.0299" stop-color="#423b82"/><stop offset="0.0310" stop-color="#440154"/><stop offset="0.1501" stop-color="#440457"/><stop offset="0.1901" stop-color="#461263"/><stop offset="0.2851" stop-color="#482474"/><stop offset="0.2863" stop-color="#440154"/><stop offset="0.4305" stop-color="#450e60"/><stop offset="0.4511" stop-color="#461163"/><stop offset="0.4523" stop-color="#440154"/><stop offset="0.5782" stop-color="#440558"/><stop offset="0.6228" stop-color="#450c5f"/><stop offset="0.6240" stop-color="#461062"/><stop offset="0.6251" stop-color="#440154"/><stop offset="0.6823" stop-color="#45095b"/><stop offset="0.6835" stop-color="#440154"/><stop offset="0.8758" stop-color="#46307c"/><stop offset="0.9994" stop-color="#414084"/></linearGradient>
<linearGradient id="r340"><stop offset="0.0001" stop-color="#462e7b"/><stop offset="0.0299" stop-color="#46307c"/><stop offset="0.0310" stop-color="#440154"/><stop offset="0.1512" stop-color="#440557"/><stop offset="0.2096" stop-color="#461365"/><stop offset="0.2851" stop-color="#472071"/><stop offset="0.2863" stop-color="#440154"/><stop offset="0.4511" stop-color="#450f61"/><stop offset="0.4523" stop-color="#440154"/><stop offset="0.5805" stop-color="#440558"/><stop offset="0.6240" stop-color="#450f61"/><stop offset="0.6251" stop-color="#440154"/><stop offset="0.6801" stop-color="#45075a"/><stop offset="0.6823" stop-color="#440154"/><stop offset="0.9124" stop-color="#46307c"/><stop offset="0.9994" stop-color="#433981"/></linearGradient>
<linearGradient id="r341"><stop offset="0.0001" stop-color="#433a81"/><stop offset="0.0299" stop-color="#423b82"/><stop offset="0.0310" stop-color="#440154"/><stop offset="0.1501" stop-color="#450659"/><stop offset="0.1901" stop-color="#461465"/><stop offset="0.2851" stop-color="#482676"/><stop offset="0.2863" stop-color="#440154"/><stop offset="0.3172" stop-color="#440457"/><stop offset="0.3367" stop-color="#440355"/><stop offset="0.4511" stop-color="#461163"/><stop offset="0.4523" stop-color="#440154"/><stop offset="0.5416" stop-color="#450759"/><stop offset="0.5438" stop-color="#440154"/><stop offset="0.6228" stop-color="#450d5f"/><stop offset="0.6251" stop-color="#461163"/><stop offset="0.6263" stop-color="#440154"/><stop offset="0.6801" stop-color="#450759"/><stop offset="0.6823" stop-color="#440154"/><stop offset="0.8758" stop-color="#46307c"/><stop offset="0.9994" stop-color="#414085"/></linearGradient>
<linearGradient id="r342"><stop offset="0.0001" stop-color="#433a81"/><stop offset="0.0299" stop-color="#423a81"/><stop offset="0.0310" stop-color="#440154"/><stop offset="0.1569" stop-color="#450659"/><stop offset="0.2851" stop-color="#461567"/><stop offset="0.2863" stop-color="#440154"/><stop offset="0.4511" stop-color="#450a5c"/><stop offset="0.4523" stop-color="#440154"/><stop offset="0.6114" stop-color="#450759"/><stop offset="0.6251" stop-color="#450a5c"/><stop offset="0.6263" stop-color="#440154"/><stop offset="0.7396" stop-color="#45075a"/><stop offset="0.9559" stop-color="#472373"/><stop offset="0.9994" stop-color="#482676"/></linearGradient>
<linearGradient id="r343"><stop offset="0.0001" stop-color="#433a81"/><stop offset="0.0299" stop-color="#423b82"/><stop offset="0.0310" stop-color="#440154"/><stop offset="0.1466" stop-color="#450659"/><stop offset="0.1684" stop-color="#482374"/><stop offset="0.3115" stop-color="#413e84"/><stop offset="0.3172" stop-color="#413f84"/><stop offset="0.3183" stop-color="#440154"/><stop offset="0.4511" stop-color="#461465"/><stop offset="0.4523" stop-color="#440154"/><stop offset="0.5438" stop-color="#45095c"/><stop offset="0.6251" stop-color="#461667"/><stop offset="0.6263" stop-color="#440154"/><stop offset="0.6801" stop-color="#450659"/><stop offset="0.6823" stop-color="#440154"/><stop offset="0.8884" stop-color="#46307c"/><stop offset="0.9994" stop-color="#423d83"/></linearGradient>
<linearGradient id="r344"><stop offset="0.0001" stop-color="#462e7b"/><stop offset="0.0276" stop-color="#46307c"/><stop offset="0.0287" stop-color="#440154"/><stop offset="0.1455" stop-color="#440558"/><stop offset="0.1672" stop-color="#472b7a"/><stop offset="0.2989" stop-color="#3d4a89"/><stop offset="0.4511" stop-color="#34608d"/><stop offset="0.4523" stop-color="#440154"/><stop offset="0.5232" stop-color="#45075a"/><stop offset="0.6411" stop-color="#471e6f"/><stop offset="0.6423" stop-color="#440154"/><stop offset="0.7041" stop-color="#440658"/><stop offset="0.8644" stop-color="#44347e"/><stop offset="0.9994" stop-color="#3e4a89"/></linearGradient>
<linearGradient id="r345"><stop offset="0.0001" stop-color="#462e7b"/><stop offset="0.0276" stop-color="#46307c"/><stop offset="0.0287" stop-color="#440154"/><stop offset="0.1455" stop-color="#440658"/><stop offset="0.1672" stop-color="#472b7a"/><stop offset="0.2989" stop-color="#3d4a89"/><stop offset="0.4729" stop-color="#33638d"/><stop offset="0.4740" stop-color="#440154"/><stop offset="0.6411" stop-color="#471e6f"/><stop offset="0.6423" stop-color="#440154"/><stop offset="0.7041" stop-color="#440658"/><stop offset="0.8644" stop-color="#44347e"/><stop offset="0.9994" stop-color="#3e4a89"/></linearGradient>
<linearGradient id="r346"><stop offset="0.0001" stop-color="#462e7b"/><stop offset="0.0276" stop-color="#46307c"/><stop offset="0.0287" stop-color="#440154"/><stop offset="0.1455" stop-color="#440658"/><stop offset="0.1672" stop-color="#472b7a"/><stop offset="0.2989" stop-color="#3d4a89"/><stop offset="0.4729" stop-color="#33638d"/><stop offset="0.4740" stop-color="#440154"/><stop offset="0.6411" stop-color="#471f6f"/><stop offset="0.6423" stop-color="#440154"/><stop offset="0.7030" stop-color="#440658"/><stop offset="0.8632" stop-color="#44347e"/><stop offset="0.9994" stop-color="#3e4a89"/></linearGradient>
<linearGradient id="r347"><stop offset="0.0001" stop-color="#462e7b"/><stop offset="0.0253" stop-color="#46307c"/><stop offset="0.0264" stop-color="#440154"/><stop offset="0.1455" stop-color="#440658"/><stop offset="0.1672" stop-color="#472b7a"/><stop offset="0.2989" stop-color="#3d4a89"/><stop offset="0.4786" stop-color="#33648d"/><stop offset="0.4797" stop-color="#440154"/><stop offset="0.6434" stop-color="#471f70"/><stop offset="0.6446" stop-color="#440154"/><stop offset="0.7030" stop-color="#440658"/><stop offset="0.8632" stop-color="#44347e"/><stop offset="0.9994" stop-color="#3e4a89"/></linearGradient>
<linearGradient id="r348"><stop offset="0.0001" stop-color="#462e7b"/><stop offset="0.0230" stop-color="#462f7c"/><stop offset="0.0242" stop-color="#440154"/><stop offset="0.1478" stop-color="#450659"/><stop offset="0.1695" stop-color="#471a6b"/><stop offset="0.3435" stop-color="#45327d"/><stop offset="0.4786" stop-color="#413e83"/><stop offset="0.4797" stop-color="#440154"/><stop offset="0.6469" stop-color="#461364"/><stop offset="0.6480" stop-color="#440154"/><stop offset="0.7487" stop-color="#450a5d"/><stop offset="0.9376" stop-color="#482978"/><stop offset="0.9994" stop-color="#462e7b"/></linearGradient>
<linearGradient id="r349"><stop offset="0.0001" stop-color="#462e7b"/><stop offset="0.0104" stop-color="#462f7c"/><stop offset="0.0116" stop-color="#440154"/><stop offset="0.1478" stop-color="#450659"/><stop offset="0.1695" stop-color="#471a6b"/><stop offset="0.3435" stop-color="#45327d"/><stop offset="0.4786" stop-color="#413e83"/><stop offset="0.4797" stop-color="#440154"/><stop offset="0.6469" stop-color="#461364"/><stop offset="0.6480" stop-color="#440154"/><stop offset="0.7487" stop-color="#450a5d"/><stop offset="0.9376" stop-color="#482978"/><stop offset="0.9994" stop-color="#462e7b"/></linearGradient>
<linearGradient id="r350"><stop offset="0.0001" stop-color="#462e7b"/><stop offset="0.0081" stop-color="#462f7b"/><stop offset="0.0093" stop-color="#440154"/><stop offset="0.1478" stop-color="#450659"/><stop offset="0.1695" stop-color="#471a6b"/><stop offset="0.3435" stop-color="#45327d"/><stop offset="0.4786" stop-color="#413e83"/><stop offset="0.4797" stop-color="#440154"/><stop offset="0.6469" stop-color="#461364"/><stop offset="0.6480" stop-color="#440154"/><stop offset="0.7487" stop-color="#450a5d"/><stop offset="0.9376" stop-color="#482978"/><stop offset="0.9994" stop-color="#462e7b"/></linearGradient>
<linearGradient id="r351"><stop offset="0.0001" stop-color="#462e7b"/><stop offset="0.0081" stop-color="#462f7b"/><stop offset="0.0093" stop-color="#440154"/><stop offset="0.1478" stop-color="#450659"/><stop offset="0.1695" stop-color="#471a6b"/><stop offset="0.3435" stop-color="#45327d"/><stop offset="0.4809" stop-color="#413e83"/><stop offset="0.4820" stop-color="#440154"/><stop offset="0.6469" stop-color="#461364"/><stop offset="0.6480" stop-color="#440154"/><stop offset="0.7682" stop-color="#450f61"/><stop offset="0.9410" stop-color="#472a79"/><stop offset="0.9994" stop-color="#462f7c"/></linearGradient>
<linearGradient id="r352"><stop offset="0.0001" stop-color="#462e7b"/><stop offset="0.0081" stop-color="#462f7b"/><stop offset="0.0093" stop-color="#440154"/><stop offset="0.1478" stop-color="#450759"/><stop offset="0.1695" stop-color="#471d6d"/><stop offset="0.3332" stop-color="#44357f"/><stop offset="0.4809" stop-color="#404386"/><stop offset="0.4820" stop-color="#440154"/><stop offset="0.6469" stop-color="#461466"/><stop offset="0.6480" stop-color="#440154"/><stop offset="0.7533" stop-color="#450d5f"/><stop offset="0.9330" stop-color="#472c7a"/><stop offset="0.9994" stop-color="#45327d"/></linearGradient>
<linearGradient id="r353"><stop offset="0.0001" stop-color="#462e7b"/><stop offset="0.0081" stop-color="#462f7b"/><stop offset="0.0093" stop-color="#440154"/><stop offset="0.1478" stop-color="#45085a"/><stop offset="0.1695" stop-color="#471d6e"/><stop offset="0.3332" stop-color="#44367f"/><stop offset="0.4809" stop-color="#404486"/><stop offset="0.4820" stop-color="#440154"/><stop offset="0.6469" stop-color="#461466"/><stop offset="0.6480" stop-color="#440154"/><stop offset="0.8289" stop-color="#471e6f"/><stop offset="0.9731" stop-color="#45317d"/><stop offset="0.9994" stop-color="#45337e"/></linearGradient>
<linearGradient id="r354"><stop offset="0.0001" stop-color="#462e7b"/><stop offset="0.0081" stop-color="#462f7b"/><stop offset="0.0093" stop-color="#440154"/><stop offset="0.1478" stop-color="#45085a"/><stop offset="0.1695" stop-color="#471d6e"/><stop offset="0.3332" stop-color="#44367f"/><stop offset="0.4809" stop-color="#404486"/><stop offset="0.4820" stop-color="#440154"/><stop offset="0.6583" stop-color="#461667"/><stop offset="0.6595" stop-color="#440154"/><stop offset="0.9433" stop-color="#462e7b"/><stop offset="0.9994" stop-color="#45337e"/></linearGradient>
<linearGradient id="r355"><stop offset="0.0001" stop-color="#3e4989"/><stop offset="0.0058" stop-color="#3e4989"/><stop offset="0.0070" stop-color="#440154"/><stop offset="0.1478" stop-color="#45075a"/><stop offset="0.1695" stop-color="#471b6c"/><stop offset="0.3435" stop-color="#45337e"/><stop offset="0.4809" stop-color="#413f84"/><stop offset="0.4820" stop-color="#440154"/><stop offset="0.6583" stop-color="#461466"/><stop offset="0.6595" stop-color="#440154"/><stop offset="0.9491" stop-color="#472c7a"/><stop offset="0.9994" stop-color="#46307c"/></linearGradient>
<linearGradient id="r356"><stop offset="0.0001" stop-color="#3e4989"/><stop offset="0.0058" stop-color="#3e4989"/><stop offset="0.0070" stop-color="#440154"/><stop offset="0.1478" stop-color="#45075a"/><stop offset="0.1695" stop-color="#471b6c"/><stop offset="0.3435" stop-color="#45337e"/><stop offset="0.4809" stop-color="#413f84"/><stop offset="0.4820" stop-color="#440154"/><stop offset="0.6583" stop-color="#461466"/><stop offset="0.6595" stop-color="#440154"/><stop offset="0.9491" stop-color="#472c7a"/><stop offset="0.9994" stop-color="#46307c"/></linearGradient>
<linearGradient id="r357"><stop offset="0.0001" stop-color="#462e7b"/><stop offset="0.0058" stop-color="#462f7b"/><stop offset="0.0070" stop-color="#440154"/><stop offset="0.1466" stop-color="#450b5d"/><stop offset="0.1684" stop-color="#472a79"/><stop offset="0.3069" stop-color="#3f4687"/><stop offset="0.4809" stop-color="#365b8c"/><stop offset="0.4820" stop-color="#440154"/><stop offset="0.6606" stop-color="#471e6e"/><stop offset="0.6617" stop-color="#440154"/><stop offset="0.8415" stop-color="#472b7a"/><stop offset="0.9445" stop-color="#423d83"/><stop offset="0.9994" stop-color="#404486"/></linearGradient>
<linearGradient id="r358"><stop offset="0.0001" stop-color="#3d4c8a"/><stop offset="0.0058" stop-color="#3d4d8a"/><stop offset="0.0070" stop-color="#440154"/><stop offset="0.1466" stop-color="#450b5e"/><stop offset="0.1684" stop-color="#472a79"/><stop offset="0.3069" stop-color="#3f4687"/><stop offset="0.4809" stop-color="#365b8c"/><stop offset="0.4820" stop-color="#440154"/><stop offset="0.6606" stop-color="#471e6e"/><stop offset="0.6617" stop-color="#440154"/><stop offset="0.8575" stop-color="#46307c"/><stop offset="0.9994" stop-color="#3f4486"/></linearGradient>
<linearGradient id="r359"><stop offset="0.0001" stop-color="#462e7b"/><stop offset="0.0058" stop-color="#462f7b"/><stop offset="0.0070" stop-color="#440154"/><stop offset="0.1466" stop-color="#450c5e"/><stop offset="0.1684" stop-color="#472a79"/><stop offset="0.3069" stop-color="#3f4687"/><stop offset="0.4809" stop-color="#365b8c"/><stop offset="0.4820" stop-color="#440154"/><stop offset="0.6606" stop-color="#471e6e"/><stop offset="0.6617" stop-color="#440154"/><stop offset="0.8575" stop-color="#46307c"/><stop offset="0.9994" stop-color="#3f4486"/></linearGradient>
<linearGradient id="r360"><stop offset="0.0001" stop-color="#462e7b"/><stop offset="0.0035" stop-color="#462f7b"/><stop offset="0.0047" stop-color="#440154"/><stop offset="0.1478" stop-color="#45095b"/><stop offset="0.1707" stop-color="#471c6d"/><stop offset="0.3561" stop-color="#45337d"/><stop offset="0.4809" stop-color="#423d83"/><stop offset="0.4820" stop-color="#440154"/><stop offset="0.6606" stop-color="#461365"/><stop offset="0.6617" stop-color="#440154"/><stop offset="0.9514" stop-color="#472a79"/><stop offset="0.9994" stop-color="#462d7b"/></linearGradient>
<linearGradient id="r361"><stop offset="0.0001" stop-color="#462e7b"/><stop offset="0.0013" stop-color="#462f7b"/><stop offset="0.0024" stop-color="#440154"/><stop offset="0.1478" stop-color="#45095b"/><stop offset="0.1707" stop-color="#471c6d"/><stop offset="0.3561" stop-color="#45337d"/><stop offset="0.6606" stop-color="#3d4c8a"/><stop offset="0.6617" stop-color="#440154"/><stop offset="0.9514" stop-color="#472a79"/><stop offset="0.9994" stop-color="#462d7b"/></linearGradient>
<linearGradient id="r362"><stop offset="0.0001" stop-color="#462e7b"/><stop offset="0.0013" stop-color="#462f7b"/><stop offset="0.0024" stop-color="#440154"/><stop offset="0.1478" stop-color="#45095b"/><stop offset="0.1707" stop-color="#471c6d"/><stop offset="0.3561" stop-color="#45337d"/><stop offset="0.6606" stop-color="#3d4c8a"/><stop offset="0.6617" stop-color="#440154"/><stop offset="0.9514" stop-color="#472a79"/><stop offset="0.9994" stop-color="#462d7b"/></linearGradient>
<linearGradient id="r363"><stop offset="0.0001" stop-color="#440356"/><stop offset="0.1466" stop-color="#450a5d"/><stop offset="0.1684" stop-color="#482474"/><stop offset="0.4694" stop-color="#3c4d8a"/><stop offset="0.7602" stop-color="#365c8c"/><stop offset="0.7613" stop-color="#34628d"/><stop offset="0.7636" stop-color="#2b778e"/><stop offset="0.7648" stop-color="#297c8e"/><stop offset="0.9994" stop-color="#25868d"/></linearGradient>
<linearGradient id="r364"><stop offset="0.0001" stop-color="#440557"/><stop offset="0.1455" stop-color="#450d5f"/><stop offset="0.1672" stop-color="#443780"/><stop offset="0.3492" stop-color="#355e8c"/><stop offset="0.5084" stop-color="#2a788e"/><stop offset="0.7602" stop-color="#25888d"/><stop offset="0.7613" stop-color="#22918b"/><stop offset="0.7636" stop-color="#30b17d"/><stop offset="0.7648" stop-color="#39b977"/><stop offset="0.9994" stop-color="#5dc762"/></linearGradient>
<linearGradient id="r365"><stop offset="0.0001" stop-color="#440457"/><stop offset="0.1466" stop-color="#450d5f"/><stop offset="0.1672" stop-color="#462d7b"/><stop offset="0.3985" stop-color="#39558b"/><stop offset="0.5221" stop-color="#32658e"/><stop offset="0.7602" stop-color="#2d728e"/><stop offset="0.7613" stop-color="#2a788e"/><stop offset="0.7636" stop-color="#22938b"/><stop offset="0.7648" stop-color="#209a8a"/><stop offset="0.9994" stop-color="#27a783"/></linearGradient>
<linearGradient id="r366"><stop offset="0.0001" stop-color="#440557"/><stop offset="0.0116" stop-color="#440154"/><stop offset="0.1466" stop-color="#440558"/><stop offset="0.1501" stop-color="#461566"/><stop offset="0.3607" stop-color="#472273"/><stop offset="0.4477" stop-color="#404386"/><stop offset="0.5370" stop-color="#37598c"/><stop offset="0.7613" stop-color="#2a7a8e"/><stop offset="0.9994" stop-color="#248a8d"/></linearGradient>
<linearGradient id="r367"><stop offset="0.0001" stop-color="#440557"/><stop offset="0.0196" stop-color="#440154"/><stop offset="0.1558" stop-color="#440558"/><stop offset="0.1592" stop-color="#461465"/><stop offset="0.3618" stop-color="#472172"/><stop offset="0.4580" stop-color="#3f4587"/><stop offset="0.6205" stop-color="#33648d"/><stop offset="0.8140" stop-color="#297a8e"/><stop offset="0.9994" stop-color="#25858d"/></linearGradient>
<linearGradient id="r368"><stop offset="0.0001" stop-color="#440558"/><stop offset="0.0081" stop-color="#440154"/><stop offset="0.1466" stop-color="#440558"/><stop offset="0.1501" stop-color="#461667"/><stop offset="0.3595" stop-color="#482474"/><stop offset="0.4397" stop-color="#404386"/><stop offset="0.5084" stop-color="#38588b"/><stop offset="0.7270" stop-color="#297b8e"/><stop offset="0.9880" stop-color="#23908c"/><stop offset="0.9994" stop-color="#22908b"/></linearGradient>
<linearGradient id="r369"><stop offset="0.0001" stop-color="#440558"/><stop offset="0.0058" stop-color="#440154"/><stop offset="0.1558" stop-color="#440658"/><stop offset="0.1581" stop-color="#461566"/><stop offset="0.3595" stop-color="#482676"/><stop offset="0.4351" stop-color="#404486"/><stop offset="0.5003" stop-color="#375a8c"/><stop offset="0.6995" stop-color="#287d8e"/><stop offset="0.9296" stop-color="#22928b"/><stop offset="0.9994" stop-color="#21978a"/></linearGradient>
<linearGradient id="r370"><stop offset="0.0001" stop-color="#440658"/><stop offset="0.0035" stop-color="#440154"/><stop offset="0.1478" stop-color="#440558"/><stop offset="0.1501" stop-color="#461566"/><stop offset="0.3607" stop-color="#472273"/><stop offset="0.4488" stop-color="#404386"/><stop offset="0.5747" stop-color="#34628d"/><stop offset="0.7556" stop-color="#287e8e"/><stop offset="0.9994" stop-color="#22928b"/></linearGradient>
<linearGradient id="r371"><stop offset="0.0001" stop-color="#440658"/><stop offset="0.0035" stop-color="#440154"/><stop offset="0.1501" stop-color="#45085a"/><stop offset="0.1524" stop-color="#461668"/><stop offset="0.3595" stop-color="#482575"/><stop offset="0.4374" stop-color="#404386"/><stop offset="0.5061" stop-color="#37598c"/><stop offset="0.6823" stop-color="#287c8e"/><stop offset="0.8747" stop-color="#22938b"/><stop offset="0.9994" stop-color="#1f9d89"/></linearGradient>
<linearGradient id="r372"><stop offset="0.0001" stop-color="#440558"/><stop offset="0.0058" stop-color="#440154"/><stop offset="0.1489" stop-color="#440558"/><stop offset="0.1524" stop-color="#461365"/><stop offset="0.3618" stop-color="#472071"/><stop offset="0.4866" stop-color="#3e4a89"/><stop offset="0.6892" stop-color="#2e6f8e"/><stop offset="0.9101" stop-color="#26838e"/><stop offset="0.9994" stop-color="#24898d"/></linearGradient>
<linearGradient id="r373"><stop offset="0.0001" stop-color="#45075a"/><stop offset="0.0024" stop-color="#440154"/><stop offset="0.1546" stop-color="#45095b"/><stop offset="0.1569" stop-color="#461566"/><stop offset="0.3607" stop-color="#472373"/><stop offset="0.4477" stop-color="#404486"/><stop offset="0.5370" stop-color="#375a8c"/><stop offset="0.7602" stop-color="#297a8e"/><stop offset="0.9994" stop-color="#248b8c"/></linearGradient>
<linearGradient id="r374"><stop offset="0.0001" stop-color="#450659"/><stop offset="0.0035" stop-color="#440154"/><stop offset="0.1443" stop-color="#440557"/><stop offset="0.1466" stop-color="#461163"/><stop offset="0.3630" stop-color="#471e6e"/><stop offset="0.5026" stop-color="#3f4788"/><stop offset="0.7739" stop-color="#306b8e"/><stop offset="0.9994" stop-color="#2a778e"/></linearGradient>
<linearGradient id="r375"><stop offset="0.0001" stop-color="#450659"/><stop offset="0.1512" stop-color="#450a5c"/><stop offset="0.1546" stop-color="#461769"/><stop offset="0.3630" stop-color="#482474"/><stop offset="0.4992" stop-color="#3c4d8a"/><stop offset="0.7693" stop-color="#2d718e"/><stop offset="0.9994" stop-color="#277f8e"/></linearGradient>
<linearGradient id="r376"><stop offset="0.0001" stop-color="#450659"/><stop offset="0.1478" stop-color="#450a5c"/><stop offset="0.1512" stop-color="#461768"/><stop offset="0.3630" stop-color="#482474"/><stop offset="0.5015" stop-color="#3c4d8a"/><stop offset="0.7705" stop-color="#2d708e"/><stop offset="0.9994" stop-color="#287d8e"/></linearGradient>
<linearGradient id="r377"><stop offset="0.0001" stop-color="#45085a"/><stop offset="0.1535" stop-color="#450e60"/><stop offset="0.1558" stop-color="#471c6d"/><stop offset="0.3607" stop-color="#482979"/><stop offset="0.4488" stop-color="#3e4989"/><stop offset="0.6045" stop-color="#2e6f8e"/><stop offset="0.7533" stop-color="#24888d"/><stop offset="0.9994" stop-color="#20a088"/></linearGradient>
<linearGradient id="r378"><stop offset="0.0001" stop-color="#450759"/><stop offset="0.1478" stop-color="#450b5e"/><stop offset="0.1512" stop-color="#461567"/><stop offset="0.3653" stop-color="#472071"/><stop offset="0.5072" stop-color="#3f4587"/><stop offset="0.7762" stop-color="#31698e"/><stop offset="0.9994" stop-color="#2c758e"/></linearGradient>
<linearGradient id="r379"><stop offset="0.0001" stop-color="#450659"/><stop offset="0.1489" stop-color="#45095c"/><stop offset="0.1512" stop-color="#461465"/><stop offset="0.3676" stop-color="#471f6f"/><stop offset="0.5106" stop-color="#404185"/><stop offset="0.7865" stop-color="#33638d"/><stop offset="0.9994" stop-color="#2f6e8e"/></linearGradient>
<linearGradient id="r380"><stop offset="0.0001" stop-color="#450659"/><stop offset="0.1455" stop-color="#45095b"/><stop offset="0.1478" stop-color="#461365"/><stop offset="0.3676" stop-color="#471e6f"/><stop offset="0.5106" stop-color="#414085"/><stop offset="0.7888" stop-color="#34628d"/><stop offset="0.9994" stop-color="#2f6d8e"/></linearGradient>
<linearGradient id="r381"><stop offset="0.0001" stop-color="#450759"/><stop offset="0.1535" stop-color="#450c5f"/><stop offset="0.1569" stop-color="#461567"/><stop offset="0.3653" stop-color="#472171"/><stop offset="0.5152" stop-color="#3f4788"/><stop offset="0.7373" stop-color="#2f6d8e"/><stop offset="0.9994" stop-color="#27808e"/></linearGradient>
<linearGradient id="r382"><stop offset="0.0001" stop-color="#450759"/><stop offset="0.1455" stop-color="#450a5c"/><stop offset="0.1478" stop-color="#461667"/><stop offset="0.3653" stop-color="#472272"/><stop offset="0.5118" stop-color="#3e4989"/><stop offset="0.7201" stop-color="#2e6e8e"/><stop offset="0.9697" stop-color="#26838e"/><stop offset="0.9994" stop-color="#25848e"/></linearGradient>
<linearGradient id="r383"><stop offset="0.0001" stop-color="#450659"/><stop offset="0.1512" stop-color="#45095c"/><stop offset="0.1546" stop-color="#461466"/><stop offset="0.3664" stop-color="#471f70"/><stop offset="0.5187" stop-color="#3f4587"/><stop offset="0.7579" stop-color="#306b8e"/><stop offset="0.9994" stop-color="#297b8e"/></linearGradient>
<linearGradient id="r384"><stop offset="0.0001" stop-color="#45095c"/><stop offset="0.1546" stop-color="#450b5d"/><stop offset="0.1581" stop-color="#461264"/><stop offset="0.3790" stop-color="#471b6c"/><stop offset="0.6205" stop-color="#3f4688"/><stop offset="0.8151" stop-color="#34608d"/><stop offset="0.9994" stop-color="#2f6c8e"/></linearGradient>
<linearGradient id="r385"><stop offset="0.0001" stop-color="#45095c"/><stop offset="0.1455" stop-color="#450e60"/><stop offset="0.1535" stop-color="#461264"/><stop offset="0.3779" stop-color="#471b6c"/><stop offset="0.6171" stop-color="#3f4688"/><stop offset="0.8106" stop-color="#34618d"/><stop offset="0.9994" stop-color="#2f6d8e"/></linearGradient>
<linearGradient id="r386"><stop offset="0.0001" stop-color="#45085b"/><stop offset="0.1535" stop-color="#450b5d"/><stop offset="0.1592" stop-color="#461062"/><stop offset="0.3824" stop-color="#46196a"/><stop offset="0.6480" stop-color="#3f4487"/><stop offset="0.8838" stop-color="#365c8c"/><stop offset="0.9994" stop-color="#33638d"/></linearGradient>
<linearGradient id="r387"><stop offset="0.0001" stop-color="#45095b"/><stop offset="0.1524" stop-color="#450c5e"/><stop offset="0.1569" stop-color="#461264"/><stop offset="0.3790" stop-color="#471b6c"/><stop offset="0.6228" stop-color="#3f4687"/><stop offset="0.8186" stop-color="#355f8d"/><stop offset="0.9994" stop-color="#306b8e"/></linearGradient>
<linearGradient id="r388"><stop offset="0.0001" stop-color="#45095b"/><stop offset="0.1592" stop-color="#450e60"/><stop offset="0.3882" stop-color="#471b6c"/><stop offset="0.6446" stop-color="#3f4687"/><stop offset="0.8781" stop-color="#355e8c"/><stop offset="0.9994" stop-color="#32658e"/></linearGradient>
<linearGradient id="r389"><stop offset="0.0001" stop-color="#450e60"/><stop offset="0.1546" stop-color="#461264"/><stop offset="0.1581" stop-color="#471b6c"/><stop offset="0.3687" stop-color="#482676"/><stop offset="0.5221" stop-color="#3e4889"/><stop offset="0.7693" stop-color="#306b8e"/><stop offset="0.9994" stop-color="#2a798e"/></linearGradient>
<linearGradient id="r390"><stop offset="0.0001" stop-color="#450d5f"/><stop offset="0.1569" stop-color="#461062"/><stop offset="0.1604" stop-color="#46196a"/><stop offset="0.3698" stop-color="#482374"/><stop offset="0.5290" stop-color="#3f4486"/><stop offset="0.7796" stop-color="#32658e"/><stop offset="0.9994" stop-color="#2d718e"/></linearGradient>
<linearGradient id="r391"><stop offset="0.0001" stop-color="#450d5f"/><stop offset="0.1535" stop-color="#461062"/><stop offset="0.1569" stop-color="#47196b"/><stop offset="0.3698" stop-color="#482474"/><stop offset="0.5290" stop-color="#3f4487"/><stop offset="0.7796" stop-color="#32658e"/><stop offset="0.9994" stop-color="#2d728e"/></linearGradient>
<linearGradient id="r392"><stop offset="0.0001" stop-color="#461163"/><stop offset="0.1455" stop-color="#461869"/><stop offset="0.1478" stop-color="#471f70"/><stop offset="0.3664" stop-color="#472a79"/><stop offset="0.5061" stop-color="#3d4b89"/><stop offset="0.8151" stop-color="#31678e"/><stop offset="0.9994" stop-color="#2e6e8e"/></linearGradient>
<linearGradient id="r393"><stop offset="0.0001" stop-color="#461365"/><stop offset="0.1569" stop-color="#461768"/><stop offset="0.1604" stop-color="#472273"/><stop offset="0.3653" stop-color="#462d7b"/><stop offset="0.5026" stop-color="#3b518a"/><stop offset="0.8060" stop-color="#2e6f8e"/><stop offset="0.9994" stop-color="#2b778e"/></linearGradient>
<linearGradient id="r394"><stop offset="0.0001" stop-color="#461062"/><stop offset="0.1569" stop-color="#461365"/><stop offset="0.1604" stop-color="#471d6e"/><stop offset="0.3687" stop-color="#482777"/><stop offset="0.5084" stop-color="#3f4687"/><stop offset="0.8243" stop-color="#34608d"/><stop offset="0.9994" stop-color="#31678e"/></linearGradient>
<linearGradient id="r395"><stop offset="0.0001" stop-color="#461062"/><stop offset="0.1581" stop-color="#461566"/><stop offset="0.1615" stop-color="#471d6e"/><stop offset="0.3687" stop-color="#482878"/><stop offset="0.5084" stop-color="#3f4788"/><stop offset="0.8220" stop-color="#34628d"/><stop offset="0.9994" stop-color="#31698e"/></linearGradient>
<linearGradient id="r396"><stop offset="0.0001" stop-color="#461263"/><stop offset="0.1478" stop-color="#461466"/><stop offset="0.1546" stop-color="#46196a"/><stop offset="0.3870" stop-color="#472172"/><stop offset="0.5587" stop-color="#44367f"/><stop offset="0.9159" stop-color="#3e4989"/><stop offset="0.9994" stop-color="#3d4c89"/></linearGradient>
<linearGradient id="r397"><stop offset="0.0001" stop-color="#461465"/><stop offset="0.1478" stop-color="#461768"/><stop offset="0.1546" stop-color="#471c6d"/><stop offset="0.3824" stop-color="#482475"/><stop offset="0.5450" stop-color="#433a81"/><stop offset="0.8724" stop-color="#3c4f8a"/><stop offset="0.9994" stop-color="#3a538b"/></linearGradient>
<linearGradient id="r398"><stop offset="0.0001" stop-color="#461465"/><stop offset="0.1524" stop-color="#46196a"/><stop offset="0.3882" stop-color="#482575"/><stop offset="0.5427" stop-color="#433a81"/><stop offset="0.8712" stop-color="#3c4f8a"/><stop offset="0.9994" stop-color="#3a538b"/></linearGradient>
<linearGradient id="r399"><stop offset="0.0001" stop-color="#471b6c"/><stop offset="0.1501" stop-color="#471e6f"/><stop offset="0.1524" stop-color="#472b7a"/><stop offset="0.5656" stop-color="#3a548b"/><stop offset="0.8426" stop-color="#306a8e"/><stop offset="0.9994" stop-color="#2e6f8e"/></linearGradient>
<linearGradient id="r400"><stop offset="0.0001" stop-color="#472c7a"/><stop offset="0.1466" stop-color="#462f7c"/><stop offset="0.1489" stop-color="#414185"/><stop offset="0.4374" stop-color="#31688e"/><stop offset="0.7911" stop-color="#26828e"/><stop offset="0.9994" stop-color="#24898d"/></linearGradient>
<linearGradient id="r401"><stop offset="0.0001" stop-color="#472c7a"/><stop offset="0.1535" stop-color="#46307c"/><stop offset="0.1558" stop-color="#404285"/><stop offset="0.4317" stop-color="#31688e"/><stop offset="0.7865" stop-color="#26848e"/><stop offset="0.9994" stop-color="#248b8c"/></linearGradient>
<linearGradient id="r402"><stop offset="0.0001" stop-color="#472d7a"/><stop offset="0.1512" stop-color="#45317c"/><stop offset="0.1535" stop-color="#414084"/><stop offset="0.1867" stop-color="#3e4a89"/><stop offset="0.4832" stop-color="#2e6f8e"/><stop offset="0.8174" stop-color="#25868d"/><stop offset="0.9994" stop-color="#248c8c"/></linearGradient>
<linearGradient id="r403"><stop offset="0.0001" stop-color="#482676"/><stop offset="0.1512" stop-color="#482979"/><stop offset="0.1535" stop-color="#433880"/><stop offset="0.4923" stop-color="#355f8d"/><stop offset="0.8506" stop-color="#2c748e"/><stop offset="0.9994" stop-color="#2a788e"/></linearGradient>
<linearGradient id="r404"><stop offset="0.0001" stop-color="#461264"/><stop offset="0.1443" stop-color="#461668"/><stop offset="0.1478" stop-color="#472071"/><stop offset="0.5187" stop-color="#404185"/><stop offset="0.7155" stop-color="#31688e"/><stop offset="0.9456" stop-color="#287d8e"/><stop offset="0.9994" stop-color="#27808e"/></linearGradient>
<linearGradient id="r405"><stop offset="0.0001" stop-color="#461264"/><stop offset="0.1535" stop-color="#461768"/><stop offset="0.1569" stop-color="#472070"/><stop offset="0.5198" stop-color="#414084"/><stop offset="0.7224" stop-color="#31678e"/><stop offset="0.9662" stop-color="#287c8e"/><stop offset="0.9994" stop-color="#287e8e"/></linearGradient>
<linearGradient id="r406"><stop offset="0.0001" stop-color="#461163"/><stop offset="0.1478" stop-color="#461365"/><stop offset="0.1512" stop-color="#471e6e"/><stop offset="0.5209" stop-color="#423c83"/><stop offset="0.7453" stop-color="#33648d"/><stop offset="0.9994" stop-color="#2b778e"/></linearGradient>
<linearGradient id="r407"><stop offset="0.0001" stop-color="#461365"/><stop offset="0.1535" stop-color="#461667"/><stop offset="0.1569" stop-color="#472272"/><stop offset="0.5187" stop-color="#404486"/><stop offset="0.7018" stop-color="#306a8e"/><stop offset="0.9113" stop-color="#277f8e"/><stop offset="0.9994" stop-color="#25858d"/></linearGradient>
<linearGradient id="r408"><stop offset="0.0001" stop-color="#461163"/><stop offset="0.1535" stop-color="#461566"/><stop offset="0.1569" stop-color="#482677"/><stop offset="0.4946" stop-color="#3b4f8a"/><stop offset="0.6938" stop-color="#2c748e"/><stop offset="0.9170" stop-color="#24888d"/><stop offset="0.9994" stop-color="#238e8c"/></linearGradient>
<linearGradient id="r409"><stop offset="0.0001" stop-color="#451061"/><stop offset="0.1489" stop-color="#461465"/><stop offset="0.1524" stop-color="#471c6d"/><stop offset="0.5381" stop-color="#423b82"/><stop offset="0.7934" stop-color="#375a8c"/><stop offset="0.9994" stop-color="#32668e"/></linearGradient>
<linearGradient id="r410"><stop offset="0.0001" stop-color="#461062"/><stop offset="0.1501" stop-color="#461364"/><stop offset="0.1535" stop-color="#471d6e"/><stop offset="0.5358" stop-color="#413e83"/><stop offset="0.7831" stop-color="#355e8c"/><stop offset="0.9994" stop-color="#306b8e"/></linearGradient>
<linearGradient id="r411"><stop offset="0.0001" stop-color="#450f61"/><stop offset="0.1546" stop-color="#461264"/><stop offset="0.1581" stop-color="#471b6c"/><stop offset="0.5404" stop-color="#433a81"/><stop offset="0.7980" stop-color="#38588b"/><stop offset="0.9994" stop-color="#33648d"/></linearGradient>
<linearGradient id="r412"><stop offset="0.0001" stop-color="#450f61"/><stop offset="0.1512" stop-color="#461465"/><stop offset="0.1546" stop-color="#471a6b"/><stop offset="0.5416" stop-color="#433880"/><stop offset="0.8048" stop-color="#38578b"/><stop offset="0.9994" stop-color="#34618d"/></linearGradient>
<linearGradient id="r413"><stop offset="0.0001" stop-color="#461062"/><stop offset="0.1535" stop-color="#461667"/><stop offset="0.1569" stop-color="#471d6e"/><stop offset="0.5370" stop-color="#423d83"/><stop offset="0.7854" stop-color="#355d8c"/><stop offset="0.9994" stop-color="#306a8e"/></linearGradient>
<linearGradient id="r414"><stop offset="0.0001" stop-color="#471d6e"/><stop offset="0.1501" stop-color="#471f70"/><stop offset="0.1535" stop-color="#482777"/><stop offset="0.5255" stop-color="#413f84"/><stop offset="0.7751" stop-color="#34618d"/><stop offset="0.9994" stop-color="#2e6f8e"/></linearGradient>
<linearGradient id="r415"><stop offset="0.0001" stop-color="#471b6c"/><stop offset="0.1592" stop-color="#472070"/><stop offset="0.1684" stop-color="#482575"/><stop offset="0.5290" stop-color="#423b82"/><stop offset="0.7854" stop-color="#365c8c"/><stop offset="0.9994" stop-color="#31698e"/></linearGradient>
<linearGradient id="r416"><stop offset="0.0001" stop-color="#471b6c"/><stop offset="0.1501" stop-color="#471f70"/><stop offset="0.1592" stop-color="#482575"/><stop offset="0.5290" stop-color="#423a82"/><stop offset="0.7865" stop-color="#365b8c"/><stop offset="0.9994" stop-color="#31688e"/></linearGradient>
<linearGradient id="r417"><stop offset="0.0001" stop-color="#471a6b"/><stop offset="0.1489" stop-color="#471d6e"/><stop offset="0.1524" stop-color="#472b79"/><stop offset="0.5152" stop-color="#3b4f8a"/><stop offset="0.6709" stop-color="#2c748e"/><stop offset="0.8552" stop-color="#238d8c"/><stop offset="0.9994" stop-color="#209a8a"/></linearGradient>
<linearGradient id="r418"><stop offset="0.0001" stop-color="#471e6f"/><stop offset="0.1501" stop-color="#472272"/><stop offset="0.1535" stop-color="#46307c"/><stop offset="0.5084" stop-color="#38588b"/><stop offset="0.6434" stop-color="#297b8e"/><stop offset="0.7590" stop-color="#22938b"/><stop offset="0.9765" stop-color="#2bac80"/><stop offset="0.9994" stop-color="#2dad7f"/></linearGradient>
<linearGradient id="r419"><stop offset="0.0001" stop-color="#433981"/><stop offset="0.1558" stop-color="#423c82"/><stop offset="0.1604" stop-color="#404285"/><stop offset="0.5507" stop-color="#365b8c"/><stop offset="0.8197" stop-color="#2d738e"/><stop offset="0.9994" stop-color="#2a7a8e"/></linearGradient>
<linearGradient id="r420"><stop offset="0.0001" stop-color="#34608d"/><stop offset="0.1512" stop-color="#33638d"/><stop offset="0.1546" stop-color="#306a8e"/><stop offset="0.5610" stop-color="#26838e"/><stop offset="0.8220" stop-color="#20998a"/><stop offset="0.9994" stop-color="#21a088"/></linearGradient>
<linearGradient id="r421"><stop offset="0.0001" stop-color="#33648d"/><stop offset="0.1581" stop-color="#32678e"/><stop offset="0.1615" stop-color="#2f6e8e"/><stop offset="0.5599" stop-color="#25888d"/><stop offset="0.8163" stop-color="#209f88"/><stop offset="0.9994" stop-color="#26a684"/></linearGradient>
<linearGradient id="r422"><stop offset="0.0001" stop-color="#472273"/><stop offset="0.1535" stop-color="#482979"/><stop offset="0.1558" stop-color="#44357f"/><stop offset="0.4946" stop-color="#365d8c"/><stop offset="0.8117" stop-color="#2a788e"/><stop offset="0.9994" stop-color="#277f8e"/></linearGradient>
<linearGradient id="r423"><stop offset="0.0001" stop-color="#471b6c"/><stop offset="0.1478" stop-color="#471f6f"/><stop offset="0.1512" stop-color="#482878"/><stop offset="0.6537" stop-color="#3b518a"/><stop offset="0.9983" stop-color="#34628d"/><stop offset="0.9994" stop-color="#33628d"/></linearGradient>
<linearGradient id="r424"><stop offset="0.0001" stop-color="#471b6c"/><stop offset="0.1489" stop-color="#471f70"/><stop offset="0.1524" stop-color="#482978"/><stop offset="0.6537" stop-color="#3b518a"/><stop offset="0.9983" stop-color="#33628d"/><stop offset="0.9994" stop-color="#33628d"/></linearGradient>
<linearGradient id="r425"><stop offset="0.0001" stop-color="#461566"/><stop offset="0.1501" stop-color="#46196a"/><stop offset="0.1535" stop-color="#472172"/><stop offset="0.5667" stop-color="#404185"/><stop offset="0.8300" stop-color="#375a8c"/><stop offset="0.9994" stop-color="#34618d"/></linearGradient>
<linearGradient id="r426"><stop offset="0.0001" stop-color="#461667"/><stop offset="0.1546" stop-color="#461869"/><stop offset="0.1581" stop-color="#472373"/><stop offset="0.5644" stop-color="#3f4487"/><stop offset="0.8231" stop-color="#365d8c"/><stop offset="0.9994" stop-color="#32658e"/></linearGradient>
<linearGradient id="r427"><stop offset="0.0001" stop-color="#471c6d"/><stop offset="0.1478" stop-color="#471e6f"/><stop offset="0.1512" stop-color="#472a79"/><stop offset="0.5656" stop-color="#3b518a"/><stop offset="0.8128" stop-color="#306b8e"/><stop offset="0.9994" stop-color="#2c738e"/></linearGradient>
<linearGradient id="r428"><stop offset="0.0001" stop-color="#472373"/><stop offset="0.1546" stop-color="#482676"/><stop offset="0.1569" stop-color="#45327d"/><stop offset="0.5484" stop-color="#37598c"/><stop offset="0.7831" stop-color="#2b768e"/><stop offset="0.9994" stop-color="#26818e"/></linearGradient>
<linearGradient id="r429"><stop offset="0.0001" stop-color="#472273"/><stop offset="0.1524" stop-color="#482777"/><stop offset="0.1546" stop-color="#45317d"/><stop offset="0.5496" stop-color="#37598c"/><stop offset="0.7842" stop-color="#2b758e"/><stop offset="0.9994" stop-color="#26818e"/></linearGradient>
<linearGradient id="r430"><stop offset="0.0001" stop-color="#472273"/><stop offset="0.1455" stop-color="#482777"/><stop offset="0.1478" stop-color="#45317d"/><stop offset="0.5473" stop-color="#38588b"/><stop offset="0.7842" stop-color="#2c758e"/><stop offset="0.9994" stop-color="#27818e"/></linearGradient>
<linearGradient id="r431"><stop offset="0.0001" stop-color="#471d6d"/><stop offset="0.1478" stop-color="#472273"/><stop offset="0.1501" stop-color="#472b7a"/><stop offset="0.6137" stop-color="#3a538b"/><stop offset="0.9250" stop-color="#31678e"/><stop offset="0.9994" stop-color="#30698e"/></linearGradient>
<linearGradient id="r432"><stop offset="0.0001" stop-color="#471d6e"/><stop offset="0.1535" stop-color="#472071"/><stop offset="0.1558" stop-color="#462e7b"/><stop offset="0.5221" stop-color="#38568b"/><stop offset="0.7613" stop-color="#2a788e"/><stop offset="0.9994" stop-color="#24888d"/></linearGradient>
<linearGradient id="r433"><stop offset="0.0001" stop-color="#471d6e"/><stop offset="0.1558" stop-color="#482474"/><stop offset="0.1581" stop-color="#462f7b"/><stop offset="0.5209" stop-color="#38578b"/><stop offset="0.7602" stop-color="#2a798e"/><stop offset="0.9994" stop-color="#248a8d"/></linearGradient>
<linearGradient id="r434"><stop offset="0.0001" stop-color="#482474"/><stop offset="0.1512" stop-color="#482677"/><stop offset="0.1535" stop-color="#45317d"/><stop offset="0.6114" stop-color="#37598c"/><stop offset="0.9021" stop-color="#2f6c8e"/><stop offset="0.9994" stop-color="#2e6f8e"/></linearGradient>
<linearGradient id="r435"><stop offset="0.0001" stop-color="#26848e"/><stop offset="0.1558" stop-color="#25878d"/><stop offset="0.1615" stop-color="#248b8c"/><stop offset="0.5725" stop-color="#21a088"/><stop offset="0.8586" stop-color="#30b17d"/><stop offset="0.9994" stop-color="#34b57a"/></linearGradient>
<linearGradient id="r436"><stop offset="0.0001" stop-color="#297c8e"/><stop offset="0.1501" stop-color="#287e8e"/><stop offset="0.1592" stop-color="#26828e"/><stop offset="0.5759" stop-color="#21968a"/><stop offset="0.8792" stop-color="#27a783"/><stop offset="0.9994" stop-color="#2aaa81"/></linearGradient>
<linearGradient id="r437"><stop offset="0.0001" stop-color="#482979"/><stop offset="0.5209" stop-color="#462f7c"/><stop offset="0.8037" stop-color="#3b4f8a"/><stop offset="0.9994" stop-color="#37598c"/></linearGradient>
<linearGradient id="r438"><stop offset="0.0001" stop-color="#462e7b"/><stop offset="0.1581" stop-color="#45337e"/><stop offset="0.1615" stop-color="#433981"/><stop offset="0.5816" stop-color="#375a8c"/><stop offset="0.8415" stop-color="#2e6f8e"/><stop offset="0.9994" stop-color="#2c748e"/></linearGradient>
<linearGradient id="r439"><stop offset="0.0001" stop-color="#482878"/><stop offset="0.1466" stop-color="#472a79"/><stop offset="0.1501" stop-color="#45317d"/><stop offset="0.5965" stop-color="#3c4e8a"/><stop offset="0.9044" stop-color="#34628d"/><stop offset="0.9994" stop-color="#32658d"/></linearGradient>
<linearGradient id="r440"><stop offset="0.0001" stop-color="#482878"/><stop offset="0.1546" stop-color="#472a79"/><stop offset="0.1581" stop-color="#45317d"/><stop offset="0.6011" stop-color="#3b4f8a"/><stop offset="0.9113" stop-color="#33638d"/><stop offset="0.9994" stop-color="#32668e"/></linearGradient>
<linearGradient id="r441"><stop offset="0.0001" stop-color="#482979"/><stop offset="0.1581" stop-color="#462e7b"/><stop offset="0.1615" stop-color="#45337e"/><stop offset="0.5976" stop-color="#3a528a"/><stop offset="0.8907" stop-color="#32658e"/><stop offset="0.9994" stop-color="#31698e"/></linearGradient>
<linearGradient id="r442"><stop offset="0.0001" stop-color="#472a79"/><stop offset="0.1512" stop-color="#472c7a"/><stop offset="0.1546" stop-color="#44347e"/><stop offset="0.5908" stop-color="#3a538b"/><stop offset="0.8735" stop-color="#31678e"/><stop offset="0.9994" stop-color="#306b8e"/></linearGradient>
<linearGradient id="r443"><stop offset="0.0001" stop-color="#433981"/><stop offset="0.1466" stop-color="#423c82"/><stop offset="0.1489" stop-color="#3e4888"/><stop offset="0.5416" stop-color="#30698e"/><stop offset="0.9994" stop-color="#2e708e"/></linearGradient>
<linearGradient id="r444"><stop offset="0.0001" stop-color="#433a81"/><stop offset="0.1535" stop-color="#423c83"/><stop offset="0.1558" stop-color="#3e4889"/><stop offset="0.5393" stop-color="#306a8e"/><stop offset="0.9994" stop-color="#2d708e"/></linearGradient>
<linearGradient id="r445"><stop offset="0.0001" stop-color="#365b8c"/><stop offset="0.1455" stop-color="#355e8c"/><stop offset="0.8048" stop-color="#306b8e"/><stop offset="0.9994" stop-color="#2f6c8e"/></linearGradient>
<linearGradient id="r446"><stop offset="0.0001" stop-color="#355f8c"/><stop offset="0.1489" stop-color="#34618d"/><stop offset="0.7499" stop-color="#2e6e8e"/><stop offset="0.9994" stop-color="#2e708e"/></linearGradient>
<linearGradient id="r447"><stop offset="0.0001" stop-color="#38588b"/><stop offset="0.1546" stop-color="#375b8c"/><stop offset="0.8701" stop-color="#31688e"/><stop offset="0.9994" stop-color="#31688e"/></linearGradient>
<linearGradient id="r448"><stop offset="0.0001" stop-color="#423d83"/><stop offset="0.5301" stop-color="#3e4889"/><stop offset="0.8289" stop-color="#34618d"/><stop offset="0.9994" stop-color="#31688e"/></linearGradient>
<linearGradient id="r449"><stop offset="0.0001" stop-color="#31698e"/><stop offset="0.1581" stop-color="#306a8e"/><stop offset="0.1615" stop-color="#2e6f8e"/><stop offset="0.8083" stop-color="#24898d"/><stop offset="0.9994" stop-color="#238c8c"/></linearGradient>
<linearGradient id="r450"><stop offset="0.0001" stop-color="#34618d"/><stop offset="0.1569" stop-color="#33638d"/><stop offset="0.1604" stop-color="#31698e"/><stop offset="0.8254" stop-color="#27808e"/><stop offset="0.9994" stop-color="#26838e"/></linearGradient>
<linearGradient id="r451"><stop offset="0.0001" stop-color="#34608d"/><stop offset="0.1569" stop-color="#33638d"/><stop offset="0.1649" stop-color="#31688e"/><stop offset="0.8483" stop-color="#277f8e"/><stop offset="0.9994" stop-color="#27818e"/></linearGradient>
<linearGradient id="r452"><stop offset="0.0001" stop-color="#423a81"/><stop offset="0.1581" stop-color="#423c82"/><stop offset="0.1627" stop-color="#404286"/><stop offset="0.5919" stop-color="#365b8c"/><stop offset="0.9090" stop-color="#2f6d8e"/><stop offset="0.9994" stop-color="#2e708e"/></linearGradient>
<linearGradient id="r453"><stop offset="0.0001" stop-color="#46186a"/><stop offset="0.5232" stop-color="#472272"/><stop offset="0.8106" stop-color="#404185"/><stop offset="0.9994" stop-color="#3d4b89"/></linearGradient>
</defs>
<g>
<rect x="95.4" y="69" width="873.6" height="1" fill="#440355"/>
<rect x="95.4" y="70" width="873.6" height="1" fill="#440355"/>
<rect x="95.4" y="71" width="873.6" height="1" fill="#440355"/>
<rect x="95.4" y="72" width="873.6" height="1" fill="#440255"/>
<rect x="95.4" y="73" width="873.6" height="1" fill="#440255"/>
<rect x="95.4" y="74" width="873.6" height="1" fill="#440255"/>
<rect x="95.4" y="75" width="873.6" height="1" fill="#440255"/>
<rect x="95.4" y="76" width="873.6" height="1" fill="#440255"/>
<rect x="95.4" y="77" width="873.6" height="1" fill="#440355"/>
<rect x="95.4" y="78" width="873.6" height="1" fill="#440355"/>
<rect x="95.4" y="79" width="873.6" height="1" fill="#440255"/>
<rect x="95.4" y="80" width="873.6" height="1" fill="#440255"/>
<rect x="95.4" y="81" width="873.6" height="1" fill="#450759"/>
<rect x="95.4" y="82" width="873.6" height="1" fill="#440356"/>
<rect x="95.4" y="83" width="873.6" height="1" fill="#440355"/>
<rect x="95.4" y="84" width="873.6" height="1" fill="#440355"/>
<rect x="95.4" y="85" width="873.6" height="1" fill="#440355"/>
<rect x="95.4" y="86" width="873.6" height="1" fill="#440255"/>
<rect x="95.4" y="87" width="873.6" height="1" fill="#440255"/>
<rect x="95.4" y="88" width="873.6" height="1" fill="#450e60"/>
<rect x="95.4" y="89" width="873.6" height="1" fill="#461163"/>
<rect x="95.4" y="90" width="873.6" height="1" fill="#461062"/>
<rect x="95.4" y="91" width="873.6" height="1" fill="#461162"/>
<rect x="95.4" y="92" width="873.6" height="1" fill="#472a79"/>
<rect x="95.4" y="93" width="873.6" height="1" fill="#482676"/>
<rect x="95.4" y="94" width="873.6" height="1" fill="#482979"/>
<rect x="95.4" y="95" width="873.6" height="1" fill="#472b7a"/>
<rect x="95.4" y="96" width="873.6" height="1" fill="#2d728e"/>
<rect x="95.4" y="97" width="873.6" height="1" fill="#365b8c"/>
<rect x="95.4" y="98" width="873.6" height="1" fill="#450d5f"/>
<rect x="95.4" y="99" width="873.6" height="1" fill="#450c5e"/>
<rect x="95.4" y="100" width="873.6" height="1" fill="#450c5e"/>
<rect x="95.4" y="101" width="873.6" height="1" fill="#47196b"/>
<rect x="95.4" y="102" width="873.6" height="1" fill="#461768"/>
<rect x="95.4" y="103" width="873.6" height="1" fill="#471b6c"/>
<rect x="95.4" y="104" width="873.6" height="1" fill="#471a6b"/>
<rect x="95.4" y="105" width="873.6" height="1" fill="#46186a"/>
<rect x="95.4" y="106" width="873.6" height="1" fill="#413f84"/>
<rect x="95.4" y="107" width="873.6" height="1" fill="#471d6e"/>
<rect x="95.4" y="108" width="873.6" height="1" fill="#471b6c"/>
<rect x="95.4" y="109" width="873.6" height="1" fill="#471a6b"/>
<rect x="95.4" y="110" width="873.6" height="1" fill="#472171"/>
<rect x="95.4" y="111" width="873.6" height="1" fill="#482474"/>
<rect x="95.4" y="112" width="873.6" height="1" fill="#471e6f"/>
<rect x="95.4" y="113" width="873.6" height="1" fill="#472272"/>
<rect x="95.4" y="114" width="873.6" height="1" fill="#472373"/>
<rect x="95.4" y="115" width="873.6" height="1" fill="#423c83"/>
<rect x="95.4" y="116" width="873.6" height="1" fill="#404386"/>
<rect x="95.4" y="117" width="873.6" height="1" fill="#3f4587"/>
<rect x="95.4" y="118" width="873.6" height="1" fill="#450759"/>
<rect x="95.4" y="119" width="873.6" height="1" fill="#450659"/>
<rect x="95.4" y="120" width="873.6" height="1" fill="#45075a"/>
<rect x="95.4" y="121" width="873.6" height="1" fill="#450759"/>
<rect x="95.4" y="122" width="873.6" height="1" fill="#450659"/>
<rect x="95.4" y="123" width="873.6" height="1" fill="url(#r123)"/>
<rect x="95.4" y="124" width="873.6" height="1" fill="url(#r124)"/>
<rect x="95.4" y="125" width="873.6" height="1" fill="#450b5d"/>
<rect x="95.4" y="126" width="873.6" height="1" fill="#450b5d"/>
<rect x="95.4" y="127" width="873.6" height="1" fill="#450b5d"/>
<rect x="95.4" y="128" width="873.6" height="1" fill="url(#r128)"/>
<rect x="95.4" y="129" width="873.6" height="1" fill="url(#r129)"/>
<rect x="95.4" y="130" width="873.6" height="1" fill="url(#r130)"/>
<rect x="95.4" y="131" width="873.6" height="1" fill="url(#r131)"/>
<rect x="95.4" y="132" width="873.6" height="1" fill="url(#r132)"/>
<rect x="95.4" y="133" width="873.6" height="1" fill="url(#r133)"/>
<rect x="95.4" y="134" width="873.6" height="1" fill="url(#r134)"/>
<rect x="95.4" y="135" width="873.6" height="1" fill="url(#r135)"/>
<rect x="95.4" y="136" width="873.6" height="1" fill="url(#r136)"/>
<rect x="95.4" y="137" width="873.6" height="1" fill="url(#r137)"/>
<rect x="95.4" y="138" width="873.6" height="1" fill="url(#r138)"/>
<rect x="95.4" y="139" width="873.6" height="1" fill="url(#r139)"/>
<rect x="95.4" y="140" width="873.6" height="1" fill="url(#r140)"/>
<rect x="95.4" y="141" width="873.6" height="1" fill="url(#r141)"/>
<rect x="95.4" y="142" width="873.6" height="1" fill="url(#r142)"/>
<rect x="95.4" y="143" width="873.6" height="1" fill="url(#r143)"/>
<rect x="95.4" y="144" width="873.6" height="1" fill="url(#r144)"/>
<rect x="95.4" y="145" width="873.6" height="1" fill="url(#r145)"/>
<rect x="95.4" y="146" width="873.6" height="1" fill="url(#r146)"/>
<rect x="95.4" y="147" width="873.6" height="1" fill="url(#r147)"/>
<rect x="95.4" y="148" width="873.6" height="1" fill="url(#r148)"/>
<rect x="95.4" y="149" width="873.6" height="1" fill="url(#r149)"/>
<rect x="95.4" y="150" width="873.6" height="1" fill="url(#r150)"/>
<rect x="95.4" y="151" width="873.6" height="1" fill="url(#r151)"/>
<rect x="95.4" y="152" width="873.6" height="1" fill="url(#r152)"/>
<rect x="95.4" y="153" width="873.6" height="1" fill="url(#r153)"/>
<rect x="95.4" y="154" width="873.6" height="1" fill="url(#r154)"/>
<rect x="95.4" y="155" width="873.6" height="1" fill="url(#r155)"/>
<rect x="95.4" y="156" width="873.6" height="1" fill="url(#r156)"/>
<rect x="95.4" y="157" width="873.6" height="1" fill="url(#r157)"/>
<rect x="95.4" y="158" width="873.6" height="1" fill="url(#r158)"/>
<rect x="95.4" y="159" width="873.6" height="1" fill="url(#r159)"/>
<rect x="95.4" y="160" width="873.6" height="1" fill="url(#r160)"/>
<rect x="95.4" y="161" width="873.6" height="1" fill="url(#r161)"/>
<rect x="95.4" y="162" width="873.6" height="1" fill="url(#r162)"/>
<rect x="95.4" y="163" width="873.6" height="1" fill="url(#r163)"/>
<rect x="95.4" y="164" width="873.6" height="1" fill="url(#r164)"/>
<rect x="95.4" y="165" width="873.6" height="1" fill="url(#r165)"/>
<rect x="95.4" y="166" width="873.6" height="1" fill="url(#r166)"/>
<rect x="95.4" y="167" width="873.6" height="1" fill="url(#r167)"/>
<rect x="95.4" y="168" width="873.6" height="1" fill="url(#r168)"/>
<rect x="95.4" y="169" width="873.6" height="1" fill="url(#r169)"/>
<rect x="95.4" y="170" width="873.6" height="1" fill="url(#r170)"/>
<rect x="95.4" y="171" width="873.6" height="1" fill="url(#r171)"/>
<rect x="95.4" y="172" width="873.6" height="1" fill="url(#r172)"/>
<rect x="95.4" y="173" width="873.6" height="1" fill="url(#r173)"/>
<rect x="95.4" y="174" width="873.6" height="1" fill="url(#r174)"/>
<rect x="95.4" y="175" width="873.6" height="1" fill="url(#r175)"/>
<rect x="95.4" y="176" width="873.6" height="1" fill="url(#r176)"/>
<rect x="95.4" y="177" width="873.6" height="1" fill="url(#r177)"/>
<rect x="95.4" y="178" width="873.6" height="1" fill="url(#r178)"/>
<rect x="95.4" y="179" width="873.6" height="1" fill="url(#r179)"/>
<rect x="95.4" y="180" width="873.6" height="1" fill="url(#r180)"/>
<rect x="95.4" y="181" width="873.6" height="1" fill="url(#r181)"/>
<rect x="95.4" y="182" width="873.6" height="1" fill="url(#r182)"/>
<rect x="95.4" y="183" width="873.6" height="1" fill="url(#r183)"/>
<rect x="95.4" y="184" width="873.6" height="1" fill="url(#r184)"/>
<rect x="95.4" y="185" width="873.6" height="1" fill="url(#r185)"/>
<rect x="95.4" y="186" width="873.6" height="1" fill="url(#r186)"/>
<rect x="95.4" y="187" width="873.6" height="1" fill="url(#r187)"/>
<rect x="95.4" y="188" width="873.6" height="1" fill="url(#r188)"/>
<rect x="95.4" y="189" width="873.6" height="1" fill="url(#r189)"/>
<rect x="95.4" y="190" width="873.6" height="1" fill="url(#r190)"/>
<rect x="95.4" y="191" width="873.6" height="1" fill="url(#r191)"/>
<rect x="95.4" y="192" width="873.6" height="1" fill="url(#r192)"/>
<rect x="95.4" y="193" width="873.6" height="1" fill="url(#r193)"/>
<rect x="95.4" y="194" width="873.6" height="1" fill="url(#r194)"/>
<rect x="95.4" y="195" width="873.6" height="1" fill="url(#r195)"/>
<rect x="95.4" y="196" width="873.6" height="1" fill="url(#r196)"/>
<rect x="95.4" y="197" width="873.6" height="1" fill="url(#r197)"/>
<rect x="95.4" y="198" width="873.6" height="1" fill="url(#r198)"/>
<rect x="95.4" y="199" width="873.6" height="1" fill="url(#r199)"/>
<rect x="95.4" y="200" width="873.6" height="1" fill="url(#r200)"/>
<rect x="95.4" y="201" width="873.6" height="1" fill="url(#r201)"/>
<rect x="95.4" y="202" width="873.6" height="1" fill="url(#r202)"/>
<rect x="95.4" y="203" width="873.6" height="1" fill="url(#r203)"/>
<rect x="95.4" y="204" width="873.6" height="1" fill="url(#r204)"/>
<rect x="95.4" y="205" width="873.6" height="1" fill="url(#r205)"/>
<rect x="95.4" y="206" width="873.6" height="1" fill="url(#r206)"/>
<rect x="95.4" y="207" width="873.6" height="1" fill="url(#r207)"/>
<rect x="95.4" y="208" width="873.6" height="1" fill="url(#r208)"/>
<rect x="95.4" y="209" width="873.6" height="1" fill="url(#r209)"/>
<rect x="95.4" y="210" width="873.6" height="1" fill="url(#r210)"/>
<rect x="95.4" y="211" width="873.6" height="1" fill="url(#r211)"/>
<rect x="95.4" y="212" width="873.6" height="1" fill="url(#r212)"/>
<rect x="95.4" y="213" width="873.6" height="1" fill="url(#r213)"/>
<rect x="95.4" y="214" width="873.6" height="1" fill="url(#r214)"/>
<rect x="95.4" y="215" width="873.6" height="1" fill="url(#r215)"/>
<rect x="95.4" y="216" width="873.6" height="1" fill="url(#r216)"/>
<rect x="95.4" y="217" width="873.6" height="1" fill="url(#r217)"/>
<rect x="95.4" y="218" width="873.6" height="1" fill="url(#r218)"/>
<rect x="95.4" y="219" width="873.6" height="1" fill="url(#r219)"/>
<rect x="95.4" y="220" width="873.6" height="1" fill="url(#r220)"/>
<rect x="95.4" y="221" width="873.6" height="1" fill="url(#r221)"/>
<rect x="95.4" y="222" width="873.6" height="1" fill="url(#r222)"/>
<rect x="95.4" y="223" width="873.6" height="1" fill="url(#r223)"/>
<rect x="95.4" y="224" width="873.6" height="1" fill="url(#r224)"/>
<rect x="95.4" y="225" width="873.6" height="1" fill="url(#r225)"/>
<rect x="95.4" y="226" width="873.6" height="1" fill="url(#r226)"/>
<rect x="95.4" y="227" width="873.6" height="1" fill="url(#r227)"/>
<rect x="95.4" y="228" width="873.6" height="1" fill="url(#r228)"/>
<rect x="95.4" y="229" width="873.6" height="1" fill="url(#r229)"/>
<rect x="95.4" y="230" width="873.6" height="1" fill="url(#r230)"/>
<rect x="95.4" y="231" width="873.6" height="1" fill="url(#r231)"/>
<rect x="95.4" y="232" width="873.6" height="1" fill="url(#r232)"/>
<rect x="95.4" y="233" width="873.6" height="1" fill="url(#r233)"/>
<rect x="95.4" y="234" width="873.6" height="1" fill="url(#r234)"/>
<rect x="95.4" y="235" width="873.6" height="1" fill="url(#r235)"/>
<rect x="95.4" y="236" width="873.6" height="1" fill="url(#r236)"/>
<rect x="95.4" y="237" width="873.6" height="1" fill="url(#r237)"/>
<rect x="95.4" y="238" width="873.6" height="1" fill="url(#r238)"/>
<rect x="95.4" y="239" width="873.6" height="1" fill="url(#r239)"/>
<rect x="95.4" y="240" width="873.6" height="1" fill="url(#r240)"/>
<rect x="95.4" y="241" width="873.6" height="1" fill="url(#r241)"/>
<rect x="95.4" y="242" width="873.6" height="1" fill="url(#r242)"/>
<rect x="95.4" y="243" width="873.6" height="1" fill="url(#r243)"/>
<rect x="95.4" y="244" width="873.6" height="1" fill="url(#r244)"/>
<rect x="95.4" y="245" width="873.6" height="1" fill="url(#r245)"/>
<rect x="95.4" y="246" width="873.6" height="1" fill="url(#r246)"/>
<rect x="95.4" y="247" width="873.6" height="1" fill="url(#r247)"/>
<rect x="95.4" y="248" width="873.6" height="1" fill="url(#r248)"/>
<rect x="95.4" y="249" width="873.6" height="1" fill="url(#r249)"/>
<rect x="95.4" y="250" width="873.6" height="1" fill="url(#r250)"/>
<rect x="95.4" y="251" width="873.6" height="1" fill="url(#r251)"/>
<rect x="95.4" y="252" width="873.6" height="1" fill="url(#r252)"/>
<rect x="95.4" y="253" width="873.6" height="1" fill="url(#r253)"/>
<rect x="95.4" y="254" width="873.6" height="1" fill="url(#r254)"/>
<rect x="95.4" y="255" width="873.6" height="1" fill="url(#r255)"/>
<rect x="95.4" y="256" width="873.6" height="1" fill="url(#r256)"/>
<rect x="95.4" y="257" width="873.6" height="1" fill="url(#r257)"/>
<rect x="95.4" y="258" width="873.6" height="1" fill="url(#r258)"/>
<rect x="95.4" y="259" width="873.6" height="1" fill="url(#r259)"/>
<rect x="95.4" y="260" width="873.6" height="1" fill="url(#r260)"/>
<rect x="95.4" y="261" width="873.6" height="1" fill="url(#r261)"/>
<rect x="95.4" y="262" width="873.6" height="1" fill="url(#r262)"/>
<rect x="95.4" y="263" width="873.6" height="1" fill="url(#r263)"/>
<rect x="95.4" y="264" width="873.6" height="1" fill="url(#r264)"/>
<rect x="95.4" y="265" width="873.6" height="1" fill="url(#r265)"/>
<rect x="95.4" y="266" width="873.6" height="1" fill="url(#r266)"/>
<rect x="95.4" y="267" width="873.6" height="1" fill="url(#r267)"/>
<rect x="95.4" y="268" width="873.6" height="1" fill="url(#r268)"/>
<rect x="95.4" y="269" width="873.6" height="1" fill="url(#r269)"/>
<rect x="95.4" y="270" width="873.6" height="1" fill="url(#r270)"/>
<rect x="95.4" y="271" width="873.6" height="1" fill="url(#r271)"/>
<rect x="95.4" y="272" width="873.6" height="1" fill="url(#r272)"/>
<rect x="95.4" y="273" width="873.6" height="1" fill="url(#r273)"/>
<rect x="95.4" y="274" width="873.6" height="1" fill="url(#r274)"/>
<rect x="95.4" y="275" width="873.6" height="1" fill="url(#r275)"/>
<rect x="95.4" y="276" width="873.6" height="1" fill="url(#r276)"/>
<rect x="95.4" y="277" width="873.6" height="1" fill="url(#r277)"/>
<rect x="95.4" y="278" width="873.6" height="1" fill="url(#r278)"/>
<rect x="95.4" y="279" width="873.6" height="1" fill="url(#r279)"/>
<rect x="95.4" y="280" width="873.6" height="1" fill="url(#r280)"/>
<rect x="95.4" y="281" width="873.6" height="1" fill="url(#r281)"/>
<rect x="95.4" y="282" width="873.6" height="1" fill="url(#r282)"/>
<rect x="95.4" y="283" width="873.6" height="1" fill="url(#r283)"/>
<rect x="95.4" y="284" width="873.6" height="1" fill="url(#r284)"/>
<rect x="95.4" y="285" width="873.6" height="1" fill="url(#r285)"/>
<rect x="95.4" y="286" width="873.6" height="1" fill="url(#r286)"/>
<rect x="95.4" y="287" width="873.6" height="1" fill="url(#r287)"/>
<rect x="95.4" y="288" width="873.6" height="1" fill="url(#r288)"/>
<rect x="95.4" y="289" width="873.6" height="1" fill="url(#r289)"/>
<rect x="95.4" y="290" width="873.6" height="1" fill="url(#r290)"/>
<rect x="95.4" y="291" width="873.6" height="1" fill="url(#r291)"/>
<rect x="95.4" y="292" width="873.6" height="1" fill="url(#r292)"/>
<rect x="95.4" y="293" width="873.6" height="1" fill="url(#r293)"/>
<rect x="95.4" y="294" width="873.6" height="1" fill="url(#r294)"/>
<rect x="95.4" y="295" width="873.6" height="1" fill="url(#r295)"/>
<rect x="95.4" y="296" width="873.6" height="1" fill="url(#r296)"/>
<rect x="95.4" y="297" width="873.6" height="1" fill="url(#r297)"/>
<rect x="95.4" y="298" width="873.6" height="1" fill="url(#r298)"/>
<rect x="95.4" y="299" width="873.6" height="1" fill="url(#r299)"/>
<rect x="95.4" y="300" width="873.6" height="1" fill="url(#r300)"/>
<rect x="95.4" y="301" width="873.6" height="1" fill="url(#r301)"/>
<rect x="95.4" y="302" width="873.6" height="1" fill="url(#r302)"/>
<rect x="95.4" y="303" width="873.6" height="1" fill="url(#r303)"/>
<rect x="95.4" y="304" width="873.6" height="1" fill="url(#r304)"/>
<rect x="95.4" y="305" width="873.6" height="1" fill="url(#r305)"/>
<rect x="95.4" y="306" width="873.6" height="1" fill="url(#r306)"/>
<rect x="95.4" y="307" width="873.6" height="1" fill="url(#r307)"/>
<rect x="95.4" y="308" width="873.6" height="1" fill="url(#r308)"/>
<rect x="95.4" y="309" width="873.6" height="1" fill="url(#r309)"/>
<rect x="95.4" y="310" width="873.6" height="1" fill="url(#r310)"/>
<rect x="95.4" y="311" width="873.6" height="1" fill="url(#r311)"/>
<rect x="95.4" y="312" width="873.6" height="1" fill="url(#r312)"/>
<rect x="95.4" y="313" width="873.6" height="1" fill="url(#r313)"/>
<rect x="95.4" y="314" width="873.6" height="1" fill="url(#r314)"/>
<rect x="95.4" y="315" width="873.6" height="1" fill="url(#r315)"/>
<rect x="95.4" y="316" width="873.6" height="1" fill="url(#r316)"/>
<rect x="95.4" y="317" width="873.6" height="1" fill="url(#r317)"/>
<rect x="95.4" y="318" width="873.6" height="1" fill="url(#r318)"/>
<rect x="95.4" y="319" width="873.6" height="1" fill="url(#r319)"/>
<rect x="95.4" y="320" width="873.6" height="1" fill="url(#r320)"/>
<rect x="95.4" y="321" width="873.6" height="1" fill="url(#r321)"/>
<rect x="95.4" y="322" width="873.6" height="1" fill="url(#r322)"/>
<rect x="95.4" y="323" width="873.6" height="1" fill="url(#r323)"/>
<rect x="95.4" y="324" width="873.6" height="1" fill="url(#r324)"/>
<rect x="95.4" y="325" width="873.6" height="1" fill="url(#r325)"/>
<rect x="95.4" y="326" width="873.6" height="1" fill="url(#r326)"/>
<rect x="95.4" y="327" width="873.6" height="1" fill="url(#r327)"/>
<rect x="95.4" y="328" width="873.6" height="1" fill="url(#r328)"/>
<rect x="95.4" y="329" width="873.6" height="1" fill="url(#r329)"/>
<rect x="95.4" y="330" width="873.6" height="1" fill="url(#r330)"/>
<rect x="95.4" y="331" width="873.6" height="1" fill="url(#r331)"/>
<rect x="95.4" y="332" width="873.6" height="1" fill="url(#r332)"/>
<rect x="95.4" y="333" width="873.6" height="1" fill="url(#r333)"/>
<rect x="95.4" y="334" width="873.6" height="1" fill="url(#r334)"/>
<rect x="95.4" y="335" width="873.6" height="1" fill="url(#r335)"/>
<rect x="95.4" y="336" width="873.6" height="1" fill="url(#r336)"/>
<rect x="95.4" y="337" width="873.6" height="1" fill="url(#r337)"/>
<rect x="95.4" y="338" width="873.6" height="1" fill="url(#r338)"/>
<rect x="95.4" y="339" width="873.6" height="1" fill="url(#r339)"/>
<rect x="95.4" y="340" width="873.6" height="1" fill="url(#r340)"/>
<rect x="95.4" y="341" width="873.6" height="1" fill="url(#r341)"/>
<rect x="95.4" y="342" width="873.6" height="1" fill="url(#r342)"/>
<rect x="95.4" y="343" width="873.6" height="1" fill="url(#r343)"/>
<rect x="95.4" y="344" width="873.6" height="1" fill="url(#r344)"/>
<rect x="95.4" y="345" width="873.6" height="1" fill="url(#r345)"/>
<rect x="95.4" y="346" width="873.6" height="1" fill="url(#r346)"/>
<rect x="95.4" y="347" width="873.6" height="1" fill="url(#r347)"/>
<rect x="95.4" y="348" width="873.6" height="1" fill="url(#r348)"/>
<rect x="95.4" y="349" width="873.6" height="1" fill="url(#r349)"/>
<rect x="95.4" y="350" width="873.6" height="1" fill="url(#r350)"/>
<rect x="95.4" y="351" width="873.6" height="1" fill="url(#r351)"/>
<rect x="95.4" y="352" width="873.6" height="1" fill="url(#r352)"/>
<rect x="95.4" y="353" width="873.6" height="1" fill="url(#r353)"/>
<rect x="95.4" y="354" width="873.6" height="1" fill="url(#r354)"/>
<rect x="95.4" y="355" width="873.6" height="1" fill="url(#r355)"/>
<rect x="95.4" y="356" width="873.6" height="1" fill="url(#r356)"/>
<rect x="95.4" y="357" width="873.6" height="1" fill="url(#r357)"/>
<rect x="95.4" y="358" width="873.6" height="1" fill="url(#r358)"/>
<rect x="95.4" y="359" width="873.6" height="1" fill="url(#r359)"/>
<rect x="95.4" y="360" width="873.6" height="1" fill="url(#r360)"/>
<rect x="95.4" y="361" width="873.6" height="1" fill="url(#r361)"/>
<rect x="95.4" y="362" width="873.6" height="1" fill="url(#r362)"/>
<rect x="95.4" y="363" width="873.6" height="1" fill="url(#r363)"/>
<rect x="95.4" y="364" width="873.6" height="1" fill="url(#r364)"/>
<rect x="95.4" y="365" width="873.6" height="1" fill="url(#r365)"/>
<rect x="95.4" y="366" width="873.6" height="1" fill="url(#r366)"/>
<rect x="95.4" y="367" width="873.6" height="1" fill="url(#r367)"/>
<rect x="95.4" y="368" width="873.6" height="1" fill="url(#r368)"/>
<rect x="95.4" y="369" width="873.6" height="1" fill="url(#r369)"/>
<rect x="95.4" y="370" width="873.6" height="1" fill="url(#r370)"/>
<rect x="95.4" y="371" width="873.6" height="1" fill="url(#r371)"/>
<rect x="95.4" y="372" width="873.6" height="1" fill="url(#r372)"/>
<rect x="95.4" y="373" width="873.6" height="1" fill="url(#r373)"/>
<rect x="95.4" y="374" width="873.6" height="1" fill="url(#r374)"/>
<rect x="95.4" y="375" width="873.6" height="1" fill="url(#r375)"/>
<rect x="95.4" y="376" width="873.6" height="1" fill="url(#r376)"/>
<rect x="95.4" y="377" width="873.6" height="1" fill="url(#r377)"/>
<rect x="95.4" y="378" width="873.6" height="1" fill="url(#r378)"/>
<rect x="95.4" y="379" width="873.6" height="1" fill="url(#r379)"/>
<rect x="95.4" y="380" width="873.6" height="1" fill="url(#r380)"/>
<rect x="95.4" y="381" width="873.6" height="1" fill="url(#r381)"/>
<rect x="95.4" y="382" width="873.6" height="1" fill="url(#r382)"/>
<rect x="95.4" y="383" width="873.6" height="1" fill="url(#r383)"/>
<rect x="95.4" y="384" width="873.6" height="1" fill="url(#r384)"/>
<rect x="95.4" y="385" width="873.6" height="1" fill="url(#r385)"/>
<rect x="95.4" y="386" width="873.6" height="1" fill="url(#r386)"/>
<rect x="95.4" y="387" width="873.6" height="1" fill="url(#r387)"/>
<rect x="95.4" y="388" width="873.6" height="1" fill="url(#r388)"/>
<rect x="95.4" y="389" width="873.6" height="1" fill="url(#r389)"/>
<rect x="95.4" y="390" width="873.6" height="1" fill="url(#r390)"/>
<rect x="95.4" y="391" width="873.6" height="1" fill="url(#r391)"/>
<rect x="95.4" y="392" width="873.6" height="1" fill="url(#r392)"/>
<rect x="95.4" y="393" width="873.6" height="1" fill="url(#r393)"/>
<rect x="95.4" y="394" width="873.6" height="1" fill="url(#r394)"/>
<rect x="95.4" y="395" width="873.6" height="1" fill="url(#r395)"/>
<rect x="95.4" y="396" width="873.6" height="1" fill="url(#r396)"/>
<rect x="95.4" y="397" width="873.6" height="1" fill="url(#r397)"/>
<rect x="95.4" y="398" width="873.6" height="1" fill="url(#r398)"/>
<rect x="95.4" y="399" width="873.6" height="1" fill="url(#r399)"/>
<rect x="95.4" y="400" width="873.6" height="1" fill="url(#r400)"/>
<rect x="95.4" y="401" width="873.6" height="1" fill="url(#r401)"/>
<rect x="95.4" y="402" width="873.6" height="1" fill="url(#r402)"/>
<rect x="95.4" y="403" width="873.6" height="1" fill="url(#r403)"/>
<rect x="95.4" y="404" width="873.6" height="1" fill="url(#r404)"/>
<rect x="95.4" y="405" width="873.6" height="1" fill="url(#r405)"/>
<rect x="95.4" y="406" width="873.6" height="1" fill="url(#r406)"/>
<rect x="95.4" y="407" width="873.6" height="1" fill="url(#r407)"/>
<rect x="95.4" y="408" width="873.6" height="1" fill="url(#r408)"/>
<rect x="95.4" y="409" width="873.6" height="1" fill="url(#r409)"/>
<rect x="95.4" y="410" width="873.6" height="1" fill="url(#r410)"/>
<rect x="95.4" y="411" width="873.6" height="1" fill="url(#r411)"/>
<rect x="95.4" y="412" width="873.6" height="1" fill="url(#r412)"/>
<rect x="95.4" y="413" width="873.6" height="1" fill="url(#r413)"/>
<rect x="95.4" y="414" width="873.6" height="1" fill="url(#r414)"/>
<rect x="95.4" y="415" width="873.6" height="1" fill="url(#r415)"/>
<rect x="95.4" y="416" width="873.6" height="1" fill="url(#r416)"/>
<rect x="95.4" y="417" width="873.6" height="1" fill="url(#r417)"/>
<rect x="95.4" y="418" width="873.6" height="1" fill="url(#r418)"/>
<rect x="95.4" y="419" width="873.6" height="1" fill="url(#r419)"/>
<rect x="95.4" y="420" width="873.6" height="1" fill="url(#r420)"/>
<rect x="95.4" y="421" width="873.6" height="1" fill="url(#r421)"/>
<rect x="95.4" y="422" width="873.6" height="1" fill="url(#r422)"/>
<rect x="95.4" y="423" width="873.6" height="1" fill="url(#r423)"/>
<rect x="95.4" y="424" width="873.6" height="1" fill="url(#r424)"/>
<rect x="95.4" y="425" width="873.6" height="1" fill="url(#r425)"/>
<rect x="95.4" y="426" width="873.6" height="1" fill="url(#r426)"/>
<rect x="95.4" y="427" width="873.6" height="1" fill="url(#r427)"/>
<rect x="95.4" y="428" width="873.6" height="1" fill="url(#r428)"/>
<rect x="95.4" y="429" width="873.6" height="1" fill="url(#r429)"/>
<rect x="95.4" y="430" width="873.6" height="1" fill="url(#r430)"/>
<rect x="95.4" y="431" width="873.6" height="1" fill="url(#r431)"/>
<rect x="95.4" y="432" width="873.6" height="1" fill="url(#r432)"/>
<rect x="95.4" y="433" width="873.6" height="1" fill="url(#r433)"/>
<rect x="95.4" y="434" width="873.6" height="1" fill="url(#r434)"/>
<rect x="95.4" y="435" width="873.6" height="1" fill="url(#r435)"/>
<rect x="95.4" y="436" width="873.6" height="1" fill="url(#r436)"/>
<rect x="95.4" y="437" width="873.6" height="1" fill="url(#r437)"/>
<rect x="95.4" y="438" width="873.6" height="1" fill="url(#r438)"/>
<rect x="95.4" y="439" width="873.6" height="1" fill="url(#r439)"/>
<rect x="95.4" y="440" width="873.6" height="1" fill="url(#r440)"/>
<rect x="95.4" y="441" width="873.6" height="1" fill="url(#r441)"/>
<rect x="95.4" y="442" width="873.6" height="1" fill="url(#r442)"/>
<rect x="95.4" y="443" width="873.6" height="1" fill="url(#r443)"/>
<rect x="95.4" y="444" width="873.6" height="1" fill="url(#r444)"/>
<rect x="95.4" y="445" width="873.6" height="1" fill="url(#r445)"/>
<rect x="95.4" y="446" width="873.6" height="1" fill="url(#r446)"/>
<rect x="95.4" y="447" width="873.6" height="1" fill="url(#r447)"/>
<rect x="95.4" y="448" width="873.6" height="1" fill="url(#r448)"/>
<rect x="95.4" y="449" width="873.6" height="1" fill="url(#r449)"/>
<rect x="95.4" y="450" width="873.6" height="1" fill="url(#r450)"/>
<rect x="95.4" y="451" width="873.6" height="1" fill="url(#r451)"/>
<rect x="95.4" y="452" width="873.6" height="1" fill="url(#r452)"/>
<rect x="95.4" y="453" width="873.6" height="1" fill="url(#r453)"/>
</g>
<g fill="none">
<path d="M97.0 365.3V374.9M98.9 361.0V367.3M102.7 355.4V366.3M104.5 350.3V357.8M108.3 351.2V358.2M114.0 353.6V355.4M115.9 349.7V355.6M117.7 348.1V352.4M119.6 346.8V349.9M121.5 343.7V351.5M123.4 339.1V349.1M129.1 341.5V350.9M130.9 334.7V347.5M134.7 333.5V338.3M146.0 348.6V354.5M153.6 351.7V356.6M155.5 348.2V356.2M157.4 346.5V350.5M159.2 343.3V349.3M161.1 338.8V344.7M163.0 335.9V341.5M166.8 337.9V342.5M168.7 333.7V342.5M172.4 343.5V352.4M174.3 339.3V345.3M176.2 337.6V344.8M178.1 330.1V338.9M180.0 327.0V336.5M183.8 331.0V337.4M187.5 330.8V336.9M193.2 326.0V339.6M195.1 320.8V331.1M198.8 329.4V336.4M202.6 329.2V335.6M210.2 328.5V337.1M215.8 328.8V337.9M219.6 328.2V339.5M221.5 313.9V332.5M223.4 291.9V317.3M225.2 280.9V295.5M229.0 271.8V294.6M230.9 265.3V281.0M234.7 265.0V279.4M242.2 294.2V303.6M244.1 287.1V296.0M249.8 291.8V300.2M251.7 286.6V294.4M255.4 281.3V291.3M263.0 292.6V300.2M264.9 289.6V295.7M268.6 288.8V294.1M270.5 287.4V291.8M272.4 285.7V290.5M274.3 282.4V288.2M281.8 291.2V297.2M283.7 292.9V298.0M285.6 287.0V294.6M287.5 283.3V295.3M293.1 298.5V305.8M300.7 304.3V319.1M304.5 302.4V311.2M306.3 292.4V304.2M312.0 294.8V307.9M319.5 298.3V307.0M325.2 303.8V307.8M327.1 300.0V305.3M329.0 296.7V301.6M334.6 298.4V305.0M336.5 292.4V300.4M342.2 309.0V315.2M347.8 315.5V340.9M351.6 318.9V328.0M355.4 322.0V329.0M359.2 325.6V332.2M361.0 322.5V328.0M366.7 325.9V330.8M376.1 333.1V341.3M378.0 329.4V335.8M381.8 324.8V335.4M383.7 321.8V328.7M393.1 323.6V331.3M395.0 318.7V324.1M400.6 323.1V328.5M402.5 320.1V327.4M404.4 316.1V321.2M410.1 322.0V324.2M413.8 321.0V331.7M415.7 323.9V330.5M417.6 319.9V328.2M419.5 313.3V323.9M421.4 307.5V316.3M425.2 309.3V317.9M427.0 297.5V312.8M430.8 293.5V313.0M432.7 287.9V303.1M434.6 284.0V294.7M438.4 285.3V298.4M445.9 294.7V303.1M449.7 302.3V314.4M451.6 289.2V306.8M462.9 307.7V317.3M464.8 302.5V313.5M472.3 317.7V323.7M474.2 312.7V320.0M476.1 308.4V316.1M483.6 320.9V326.8M489.3 322.2V335.6M493.1 330.1V341.8M494.9 325.1V334.3M500.6 332.7V339.4M502.5 330.1V335.7M504.4 326.9V333.7M510.0 337.2V346.8M513.8 337.9V343.4M519.5 341.8V360.2M521.3 339.6V345.6M523.2 337.6V342.4M525.1 333.6V338.8M534.6 338.0V341.9M536.4 336.1V339.5M538.3 336.5V338.5M542.1 336.6V340.3M545.9 334.5V339.0M555.3 337.2V340.8M557.2 336.6V339.1M559.1 334.8V338.6M561.0 331.3V336.1M566.6 336.2V339.3M572.3 335.8V341.6M574.2 330.9V339.9M576.0 332.5V338.4M577.9 330.1V335.3M579.8 330.0V333.5M581.7 322.2V331.5M583.6 311.8V327.3M585.5 307.3V315.6M587.4 298.3V311.6M589.2 294.6V305.8M591.1 289.3V297.8M593.0 288.8V294.5M602.4 309.9V313.3M615.6 322.6V332.8M623.2 329.7V337.9M625.1 323.8V334.8M627.0 311.8V328.4M632.6 319.4V326.3M636.4 322.9V329.5M640.2 329.0V336.9M643.9 330.1V343.3M647.7 332.3V336.4M649.6 333.1V338.7M653.4 335.7V339.2M659.0 339.8V348.2M664.7 340.7V351.7M670.3 349.3V351.8M676.0 350.5V366.2M677.9 348.1V357.7M681.7 344.6V352.6M683.5 348.5V350.5M685.4 345.7V353.0M691.1 340.1V350.9M694.9 332.3V342.5M696.7 326.6V335.6M698.6 321.7V330.3M700.5 315.9V326.5M702.4 309.2V319.2M704.3 303.4V310.3M708.1 312.3V320.5M713.7 314.1V325.4M715.6 307.5V317.6M723.2 317.5V325.1M730.7 321.8V326.7M732.6 318.0V322.1M734.5 311.5V318.6M740.1 309.6V320.5M745.8 317.2V326.6M747.7 312.8V321.0M749.6 302.9V314.9M753.3 307.2V311.7M755.2 303.0V311.8M757.1 293.2V306.1M760.9 292.1V300.4M762.8 286.0V298.1M776.0 317.7V322.0M777.8 311.2V320.5M779.7 308.6V315.0M787.3 315.2V326.8M789.2 313.9V317.3M791.0 303.9V318.0M796.7 304.5V312.0M800.5 301.9V311.5M804.2 294.9V304.3M806.1 290.3V296.4M809.9 291.7V299.7M821.2 310.4V317.8M823.1 308.3V315.1M825.0 307.8V317.4M826.9 303.5V313.8M828.8 299.9V306.8M834.4 304.7V312.0M838.2 301.3V312.5M840.1 292.3V303.6M842.0 290.9V296.7M843.9 285.0V292.8M845.7 281.4V293.6M849.5 277.9V287.3M853.3 282.9V286.8M855.2 274.4V289.5M857.1 269.7V276.7M862.7 281.4V288.3M864.6 273.7V284.2M872.1 276.7V285.9M874.0 272.9V282.3M875.9 263.6V278.6M885.3 281.8V287.6M887.2 276.6V284.9M891.0 286.0V295.4M896.7 292.1V297.3M902.3 300.4V305.9M904.2 299.2V306.2M906.1 297.5V301.9M908.0 296.9V301.6M911.8 295.0V301.2M913.6 293.8V298.9M919.3 303.3V308.7M923.1 300.4V307.1M925.0 298.5V302.2M928.7 300.6V305.4M932.5 298.3V302.0M938.2 300.0V309.8M947.6 303.4V311.5M951.4 305.1V311.2M958.9 312.9V319.5M964.6 313.4V318.5" stroke="#3d9970" stroke-width="0.75"/>
<path d="M97.0 367.0V373.1M98.9 362.5V367.0M102.7 355.6V366.2M104.5 351.9V355.6M108.3 353.1V357.4M114.0 353.8V354.8M115.9 350.0V353.8M117.7 348.9V350.0M119.6 348.2V349.2M121.5 345.6V348.4M123.4 339.3V345.6M129.1 346.1V349.6M130.9 335.8V346.1M134.7 334.9V338.2M146.0 349.4V353.4M153.6 354.8V355.8M155.5 349.0V355.0M157.4 347.6V349.0M159.2 344.6V347.6M161.1 339.8V344.6M163.0 339.0V340.0M166.8 340.3V341.3M168.7 339.4V340.4M172.4 344.1V349.7M174.3 341.1V344.1M176.2 337.8V341.1M178.1 333.2V337.8M180.0 330.7V333.2M183.8 333.9V337.3M187.5 333.8V334.8M193.2 327.0V339.2M195.1 323.1V327.0M198.8 329.5V331.9M202.6 330.4V332.2M210.2 329.5V335.1M215.8 332.2V337.2M219.6 332.5V337.7M221.5 315.7V332.5M223.4 292.9V315.7M225.2 287.1V292.9M229.0 275.1V291.5M230.9 272.3V275.1M234.7 265.1V279.2M242.2 295.6V303.2M244.1 287.7V295.6M249.8 292.7V299.7M251.7 289.9V292.7M255.4 283.8V290.3M263.0 293.6V299.6M264.9 289.9V293.6M268.6 289.6V293.8M270.5 288.7V289.7M272.4 285.8V288.9M274.3 284.4V285.8M281.8 295.7V296.7M283.7 294.0V296.1M285.6 291.2V294.0M287.5 285.1V291.2M293.1 300.1V305.1M300.7 305.8V314.5M304.5 302.7V309.5M306.3 293.1V302.7M312.0 295.1V304.9M319.5 299.4V305.8M325.2 304.8V307.4M327.1 301.1V304.8M329.0 297.3V301.1M334.6 299.5V303.8M336.5 294.9V299.5M342.2 311.4V314.5M347.8 317.2V339.8M351.6 325.4V327.7M355.4 328.3V329.3M359.2 327.9V332.1M361.0 327.2V328.2M366.7 327.7V329.4M376.1 334.0V339.1M378.0 329.8V334.0M381.8 328.6V333.1M383.7 323.1V328.6M393.1 324.0V330.4M395.0 318.9V324.0M400.6 325.5V327.1M402.5 320.7V325.5M404.4 319.1V320.7M410.1 322.5V323.8M413.8 325.3V326.3M415.7 324.9V325.9M417.6 323.7V325.0M419.5 314.3V323.7M421.4 312.5V314.3M425.2 311.5V315.2M427.0 303.0V311.5M430.8 295.7V306.9M432.7 290.5V295.7M434.6 288.8V290.5M438.4 285.8V295.3M445.9 296.5V298.4M449.7 304.7V308.5M451.6 292.3V304.7M462.9 310.7V315.0M464.8 303.6V310.7M472.3 319.7V320.7M474.2 315.5V319.7M476.1 309.1V315.5M483.6 321.8V326.3M489.3 326.5V334.1M493.1 331.4V341.6M494.9 327.1V331.4M500.6 334.7V338.7M502.5 331.8V334.7M504.4 329.1V331.8M510.0 340.0V342.4M513.8 339.0V341.3M519.5 342.8V358.5M521.3 341.1V342.8M523.2 337.8V341.1M525.1 335.6V337.8M534.6 339.0V340.5M536.4 338.2V339.2M538.3 337.8V338.8M542.1 336.6V339.1M545.9 335.4V338.6M555.3 337.4V338.8M557.2 336.7V337.7M559.1 335.2V337.0M561.0 332.0V335.2M566.6 337.1V338.3M572.3 339.4V341.3M574.2 337.6V339.4M576.0 334.9V337.6M577.9 332.0V334.9M579.8 330.5V332.0M581.7 326.8V330.5M583.6 313.9V326.8M585.5 309.4V313.9M587.4 305.6V309.4M589.2 297.1V305.6M591.1 293.1V297.1M593.0 292.5V293.5M602.4 311.3V313.1M615.6 325.4V332.1M623.2 331.7V337.6M625.1 327.8V331.7M627.0 313.7V327.8M632.6 321.4V322.4M636.4 326.8V327.8M640.2 330.7V333.1M643.9 330.9V340.8M647.7 333.5V334.5M649.6 333.0V334.0M653.4 337.0V338.5M659.0 342.6V346.4M664.7 347.9V350.7M670.3 349.5V351.2M676.0 353.6V363.7M677.9 348.4V353.6M681.7 349.8V351.4M683.5 349.1V350.1M685.4 347.1V349.4M691.1 340.7V350.6M694.9 334.2V342.3M696.7 327.5V334.2M698.6 324.9V327.5M700.5 318.8V324.9M702.4 309.4V318.8M704.3 306.1V309.4M708.1 312.9V317.0M713.7 315.9V323.2M715.6 310.0V315.9M723.2 319.2V324.1M730.7 322.0V323.6M732.6 318.0V322.0M734.5 311.8V318.0M740.1 309.8V318.4M745.8 317.4V319.4M747.7 312.9V317.4M749.6 305.5V312.9M753.3 309.1V310.7M755.2 305.5V309.1M757.1 293.8V305.5M760.9 298.0V299.9M762.8 291.5V298.0M776.0 319.3V320.3M777.8 313.7V319.3M779.7 308.8V313.7M787.3 316.0V324.2M789.2 314.4V316.0M791.0 306.2V314.4M796.7 305.8V309.0M800.5 302.5V310.8M804.2 296.0V303.7M806.1 291.0V296.0M809.9 297.1V298.3M821.2 314.3V315.3M823.1 313.8V314.8M825.0 312.2V314.2M826.9 304.2V312.2M828.8 300.8V304.2M834.4 306.6V311.6M838.2 302.2V309.4M840.1 294.8V302.2M842.0 292.2V294.8M843.9 290.4V292.2M845.7 283.7V290.4M849.5 283.4V287.3M853.3 284.1V285.1M855.2 276.6V284.5M857.1 273.4V276.6M862.7 283.0V284.3M864.6 275.3V283.0M872.1 279.5V283.2M874.0 274.2V279.5M875.9 265.0V274.2M885.3 282.3V285.8M887.2 279.2V282.3M891.0 288.6V291.8M896.7 296.0V297.0M902.3 304.1V305.1M904.2 301.5V304.4M906.1 300.0V301.5M908.0 297.9V300.0M911.8 297.6V298.8M913.6 294.6V297.6M919.3 304.3V307.7M923.1 300.7V306.5M925.0 300.2V301.2M928.7 301.2V302.2M932.5 301.2V302.2M938.2 302.5V308.8M947.6 304.5V309.3M951.4 308.7V309.9M958.9 314.3V317.5M964.6 315.2V316.2" stroke="#3d9970" stroke-width="1.7"/>
<path d="M100.8 360.3V369.4M106.4 348.9V359.2M110.2 352.3V357.3M112.1 352.5V355.0M125.3 338.2V350.3M127.2 344.8V353.2M132.8 333.9V339.9M136.6 334.8V343.5M138.5 338.3V345.0M140.4 339.8V347.5M142.3 344.5V353.0M144.1 346.7V356.0M147.9 348.5V357.1M149.8 352.2V355.4M151.7 354.7V355.9M164.9 336.8V344.1M170.6 339.1V350.8M181.9 330.2V338.0M185.6 330.8V335.0M189.4 333.3V338.9M191.3 336.0V339.9M197.0 322.8V333.9M200.7 325.4V332.9M204.5 326.8V332.0M206.4 326.3V332.1M208.3 329.0V335.5M212.0 326.8V338.1M213.9 333.3V340.3M217.7 329.2V338.5M227.1 286.3V298.0M232.8 268.7V281.2M236.6 262.4V281.4M238.4 276.1V293.2M240.3 289.0V307.0M246.0 286.4V294.1M247.9 289.4V302.3M253.5 286.4V291.9M257.3 280.6V291.1M259.2 286.3V294.1M261.1 290.7V301.1M266.7 288.4V293.9M276.2 283.8V294.7M278.1 290.2V294.7M279.9 292.9V298.1M289.4 284.2V299.5M291.3 292.5V305.9M295.0 297.1V302.6M296.9 298.6V304.1M298.8 300.2V317.5M302.6 303.3V311.2M308.2 292.9V303.9M310.1 299.0V306.9M313.9 294.1V301.9M315.8 296.2V305.1M317.7 301.7V306.9M321.4 297.7V303.4M323.3 300.0V307.6M330.9 296.5V303.7M332.7 300.5V306.7M338.4 294.3V305.5M340.3 300.8V315.7M344.1 310.9V323.6M346.0 319.3V343.0M349.7 316.8V327.7M353.5 321.6V330.4M357.3 325.5V332.8M362.9 322.4V328.5M364.8 324.7V330.5M368.6 326.7V335.8M370.5 326.5V339.3M372.4 332.4V339.5M374.2 338.5V343.5M379.9 327.8V334.1M385.6 321.5V326.5M387.4 325.2V326.8M389.3 325.0V329.4M391.2 325.3V331.6M396.9 318.2V325.5M398.8 324.6V331.0M406.3 317.8V322.9M408.2 320.0V327.9M412.0 319.0V326.6M423.3 307.9V316.3M428.9 300.4V308.2M436.5 288.4V295.9M440.3 283.5V289.9M442.1 285.1V295.8M444.0 293.3V304.4M447.8 296.0V309.1M453.5 290.8V298.8M455.3 292.9V298.3M457.2 295.8V307.8M459.1 301.2V312.9M461.0 308.1V315.0M466.7 297.9V306.9M468.5 304.3V311.6M470.4 308.5V321.8M478.0 309.0V315.2M479.9 310.9V324.3M481.7 316.5V330.0M485.5 321.7V331.9M487.4 327.7V336.9M491.2 325.7V344.7M496.8 324.6V331.0M498.7 327.7V339.7M506.3 328.7V336.4M508.1 332.0V344.5M511.9 338.3V344.2M515.7 338.7V350.6M517.6 349.3V360.4M527.0 335.3V338.0M528.9 335.1V338.4M530.8 335.6V339.5M532.7 337.0V342.4M540.2 337.6V339.5M544.0 335.5V338.7M547.8 334.5V338.1M549.6 335.1V338.2M551.5 336.4V338.4M553.4 337.5V339.5M562.8 331.4V339.1M564.7 337.1V341.1M568.5 335.8V339.1M570.4 337.7V342.4M594.9 292.2V300.9M596.8 297.1V306.8M598.7 303.8V312.2M600.6 307.9V313.2M604.3 310.4V314.9M606.2 312.6V317.2M608.1 315.8V321.8M610.0 316.4V326.5M611.9 319.8V329.4M613.8 326.0V335.7M617.5 325.2V334.0M619.4 329.1V334.2M621.3 331.1V339.0M628.9 311.9V317.9M630.7 313.6V324.2M634.5 320.5V328.8M638.3 324.4V333.6M642.1 329.6V341.3M645.8 330.7V337.3M651.5 330.5V339.0M655.3 336.8V343.6M657.1 339.0V346.7M660.9 338.1V344.9M662.8 343.2V354.2M666.6 341.4V350.2M668.5 348.9V351.9M672.2 347.5V356.8M674.1 351.8V363.7M679.8 346.2V352.0M687.3 343.9V351.0M689.2 343.7V350.9M693.0 337.4V345.4M706.2 303.9V319.2M709.9 311.1V324.5M711.8 318.7V324.6M717.5 306.9V319.3M719.4 314.6V327.8M721.3 321.5V325.1M725.0 315.2V320.6M726.9 315.0V322.1M728.8 319.8V324.0M736.4 308.1V316.8M738.2 311.4V321.8M742.0 309.4V314.1M743.9 311.5V323.3M751.4 303.9V312.9M759.0 292.9V300.0M764.6 288.7V296.7M766.5 292.2V305.8M768.4 298.3V309.6M770.3 305.9V313.3M772.2 312.8V319.5M774.1 316.2V325.9M781.6 307.5V322.1M783.5 319.3V324.3M785.4 316.4V324.4M792.9 302.8V311.1M794.8 307.7V311.8M798.6 304.4V311.6M802.4 299.1V306.7M808.0 290.9V299.9M811.8 295.2V301.3M813.7 298.9V305.3M815.6 304.5V313.2M817.5 306.3V315.5M819.3 311.3V316.4M830.7 300.6V306.4M832.5 303.7V313.6M836.3 306.2V310.8M847.6 279.6V290.7M851.4 279.2V288.6M858.9 273.1V284.6M860.8 279.8V285.4M866.5 273.8V280.4M868.4 276.5V285.0M870.3 282.6V286.0M877.8 262.3V273.6M879.7 268.6V278.5M881.6 271.8V283.0M883.5 275.7V286.4M889.1 277.9V293.0M892.9 287.9V295.5M894.8 291.7V296.7M898.5 294.3V301.8M900.4 298.5V305.4M909.9 296.9V301.0M915.5 293.4V300.6M917.4 298.7V308.1M921.2 302.2V307.6M926.8 298.5V302.7M930.6 300.8V305.3M934.4 297.0V308.9M936.3 305.1V309.6M940.0 301.1V306.6M941.9 303.3V306.2M943.8 304.0V307.3M945.7 306.0V310.6M949.5 302.9V313.5M953.2 305.4V314.7M955.1 309.1V317.1M957.0 310.9V321.1M960.8 312.6V318.0M962.7 314.0V320.1M966.4 313.4V322.1" stroke="#ff4136" stroke-width="0.75"/>
<path d="M100.8 362.5V366.2M106.4 351.9V357.4M110.2 353.0V354.0M112.1 353.8V354.8M125.3 339.3V346.9M127.2 346.9V349.6M132.8 335.8V338.2M136.6 334.9V338.6M138.5 338.6V341.1M140.4 341.1V344.7M142.3 344.7V351.0M144.1 351.0V353.4M147.9 349.4V353.3M149.8 353.3V354.9M151.7 354.7V355.7M164.9 339.2V341.3M170.6 339.5V349.7M181.9 330.7V337.3M185.6 333.7V334.7M189.4 334.2V337.8M191.3 337.8V339.2M197.0 323.1V331.9M200.7 329.5V332.2M204.5 330.2V331.2M206.4 330.9V331.9M208.3 331.9V335.1M212.0 329.5V335.9M213.9 335.9V337.2M217.7 332.2V337.7M227.1 287.1V291.5M232.8 272.3V279.2M236.6 265.1V278.6M238.4 278.6V289.4M240.3 289.4V303.2M246.0 287.7V291.3M247.9 291.3V299.7M253.5 289.6V290.6M257.3 283.8V289.7M259.2 289.7V292.4M261.1 292.4V299.6M266.7 289.9V293.8M276.2 284.4V291.8M278.1 291.8V293.5M279.9 293.5V296.2M289.4 285.1V294.0M291.3 294.0V305.1M295.0 300.1V301.9M296.9 301.6V302.6M298.8 302.3V314.5M302.6 305.8V309.5M308.2 293.1V301.7M310.1 301.7V304.9M313.9 295.1V298.7M315.8 298.7V303.8M317.7 303.8V305.8M321.4 299.4V302.9M323.3 302.9V307.4M330.9 297.3V300.6M332.7 300.6V303.8M338.4 294.9V301.1M340.3 301.1V314.5M344.1 311.4V320.6M346.0 320.6V339.8M349.7 317.2V327.7M353.5 325.4V329.0M357.3 328.5V332.1M362.9 327.2V328.2M364.8 328.0V329.4M368.6 327.4V328.4M370.5 328.0V337.0M372.4 337.0V339.1M374.2 338.6V339.6M379.9 329.8V333.1M385.6 323.1V326.1M387.4 325.6V326.6M389.3 325.9V326.9M391.2 326.7V330.4M396.9 318.9V325.2M398.8 325.2V327.1M406.3 319.1V320.3M408.2 320.3V323.8M412.0 322.5V325.9M423.3 312.5V315.2M428.9 303.0V306.9M436.5 288.8V295.3M440.3 285.6V286.6M442.1 286.3V295.0M444.0 295.0V298.4M447.8 296.5V308.5M453.5 292.2V293.2M455.3 293.2V297.2M457.2 297.2V303.6M459.1 303.6V311.2M461.0 311.2V315.0M466.7 303.6V305.0M468.5 305.0V310.8M470.4 310.8V320.7M478.0 309.1V312.6M479.9 312.6V316.6M481.7 316.6V326.3M485.5 321.8V331.4M487.4 331.4V334.1M491.2 326.5V341.6M496.8 327.1V328.7M498.7 328.7V338.7M506.3 329.1V335.6M508.1 335.6V342.4M511.9 340.0V341.3M515.7 339.0V349.6M517.6 349.6V358.5M527.0 335.6V337.0M528.9 336.6V337.6M530.8 337.1V338.8M532.7 338.8V340.5M540.2 338.2V339.2M544.0 336.6V338.6M547.8 335.2V336.2M549.6 336.0V337.3M551.5 337.3V338.3M553.4 338.0V339.0M562.8 332.0V338.2M564.7 337.8V338.8M568.5 337.1V338.1M570.4 338.0V341.3M594.9 292.9V298.9M596.8 298.9V306.3M598.7 306.3V310.8M600.6 310.8V313.1M604.3 311.3V314.2M606.2 314.2V317.2M608.1 317.2V319.3M610.0 319.3V320.5M611.9 320.5V327.5M613.8 327.5V332.1M617.5 325.4V332.1M619.4 331.6V332.6M621.3 332.1V337.6M628.9 313.7V315.2M630.7 315.2V322.0M634.5 321.8V327.8M638.3 326.8V333.1M642.1 330.7V340.8M645.8 330.9V334.2M651.5 333.2V338.5M655.3 337.0V343.1M657.1 343.1V346.4M660.9 342.6V344.0M662.8 344.0V350.7M666.6 347.9V349.7M668.5 349.7V351.2M672.2 349.5V356.6M674.1 356.6V363.7M679.8 348.4V351.4M687.3 347.1V349.3M689.2 349.3V350.6M693.0 340.7V342.3M706.2 306.1V317.0M709.9 312.9V321.8M711.8 321.8V323.2M717.5 310.0V315.4M719.4 315.4V323.9M721.3 323.5V324.5M725.0 318.9V319.9M726.9 319.4V320.4M728.8 320.2V323.6M736.4 311.8V313.7M738.2 313.7V318.4M742.0 309.8V311.9M743.9 311.9V319.4M751.4 305.5V310.7M759.0 293.8V299.9M764.6 291.5V293.9M766.5 293.9V302.5M768.4 302.5V307.7M770.3 307.7V313.0M772.2 313.0V319.4M774.1 319.3V320.3M781.6 308.8V320.8M783.5 320.8V322.0M785.4 322.0V324.2M792.9 306.2V308.9M794.8 308.5V309.5M798.6 305.8V310.8M802.4 302.5V303.7M808.0 291.0V298.3M811.8 297.1V299.1M813.7 299.1V305.3M815.6 305.3V311.7M817.5 311.7V313.6M819.3 313.6V315.2M830.7 300.8V305.6M832.5 305.6V311.6M836.3 306.6V309.4M847.6 283.7V287.3M851.4 283.4V284.7M858.9 273.4V283.8M860.8 283.5V284.5M866.5 275.3V279.1M868.4 279.1V283.0M870.3 282.6V283.6M877.8 265.0V272.3M879.7 272.0V273.0M881.6 272.6V281.8M883.5 281.8V285.8M889.1 279.2V291.8M892.9 288.6V294.7M894.8 294.7V296.5M898.5 296.5V299.4M900.4 299.4V304.8M909.9 297.9V298.9M915.5 294.6V299.5M917.4 299.5V307.7M921.2 304.3V306.5M926.8 300.6V301.7M930.6 301.2V302.2M934.4 301.6V307.3M936.3 307.3V308.8M940.0 302.5V304.1M941.9 304.1V305.4M943.8 305.4V307.0M945.7 307.0V309.3M949.5 304.5V309.9M953.2 308.7V312.8M955.1 312.8V314.0M957.0 314.0V317.5M960.8 314.2V315.2M962.7 315.0V316.0M966.4 315.6V321.2" stroke="#ff4136" stroke-width="1.7"/>
</g>
</svg>
<div class="wm">HyblockCapital</div>
<div class="ytk" style="top:103.2px"></div><div class="ytl" style="top:98.9px">50</div><div class="ytk" style="top:189.6px"></div><div class="ytl" style="top:185.3px">45</div><div class="ytk" style="top:276.0px"></div><div class="ytl" style="top:271.7px">40</div><div class="ytk" style="top:362.4px"></div><div class="ytl" style="top:358.1px">35</div><div class="ytk" style="top:448.8px"></div><div class="ytl" style="top:444.5px">30</div>
<div class="xtk" style="left:189.9px"></div><div class="xtl" style="left:186.0px">12:00</div><div class="xtl" style="left:198.2px">Jan 4, 2024</div><div class="xtk" style="left:325.5px"></div><div class="xtl" style="left:321.6px">00:00</div><div class="xtl" style="left:333.8px">Jan 5, 2024</div><div class="xtk" style="left:461.1px"></div><div class="xtl" style="left:461.6px">12:00</div><div class="xtk" style="left:596.7px"></div><div class="xtl" style="left:592.8px">00:00</div><div class="xtl" style="left:605.0px">Jan 6, 2024</div><div class="xtk" style="left:732.3px"></div><div class="xtl" style="left:732.8px">12:00</div><div class="xtk" style="left:867.9px"></div><div class="xtl" style="left:864.0px">00:00</div><div class="xtl" style="left:876.2px">Jan 7, 2024</div>
<div class="xlab">time</div>
<div class="ylab">Price</div>
</body></html>
